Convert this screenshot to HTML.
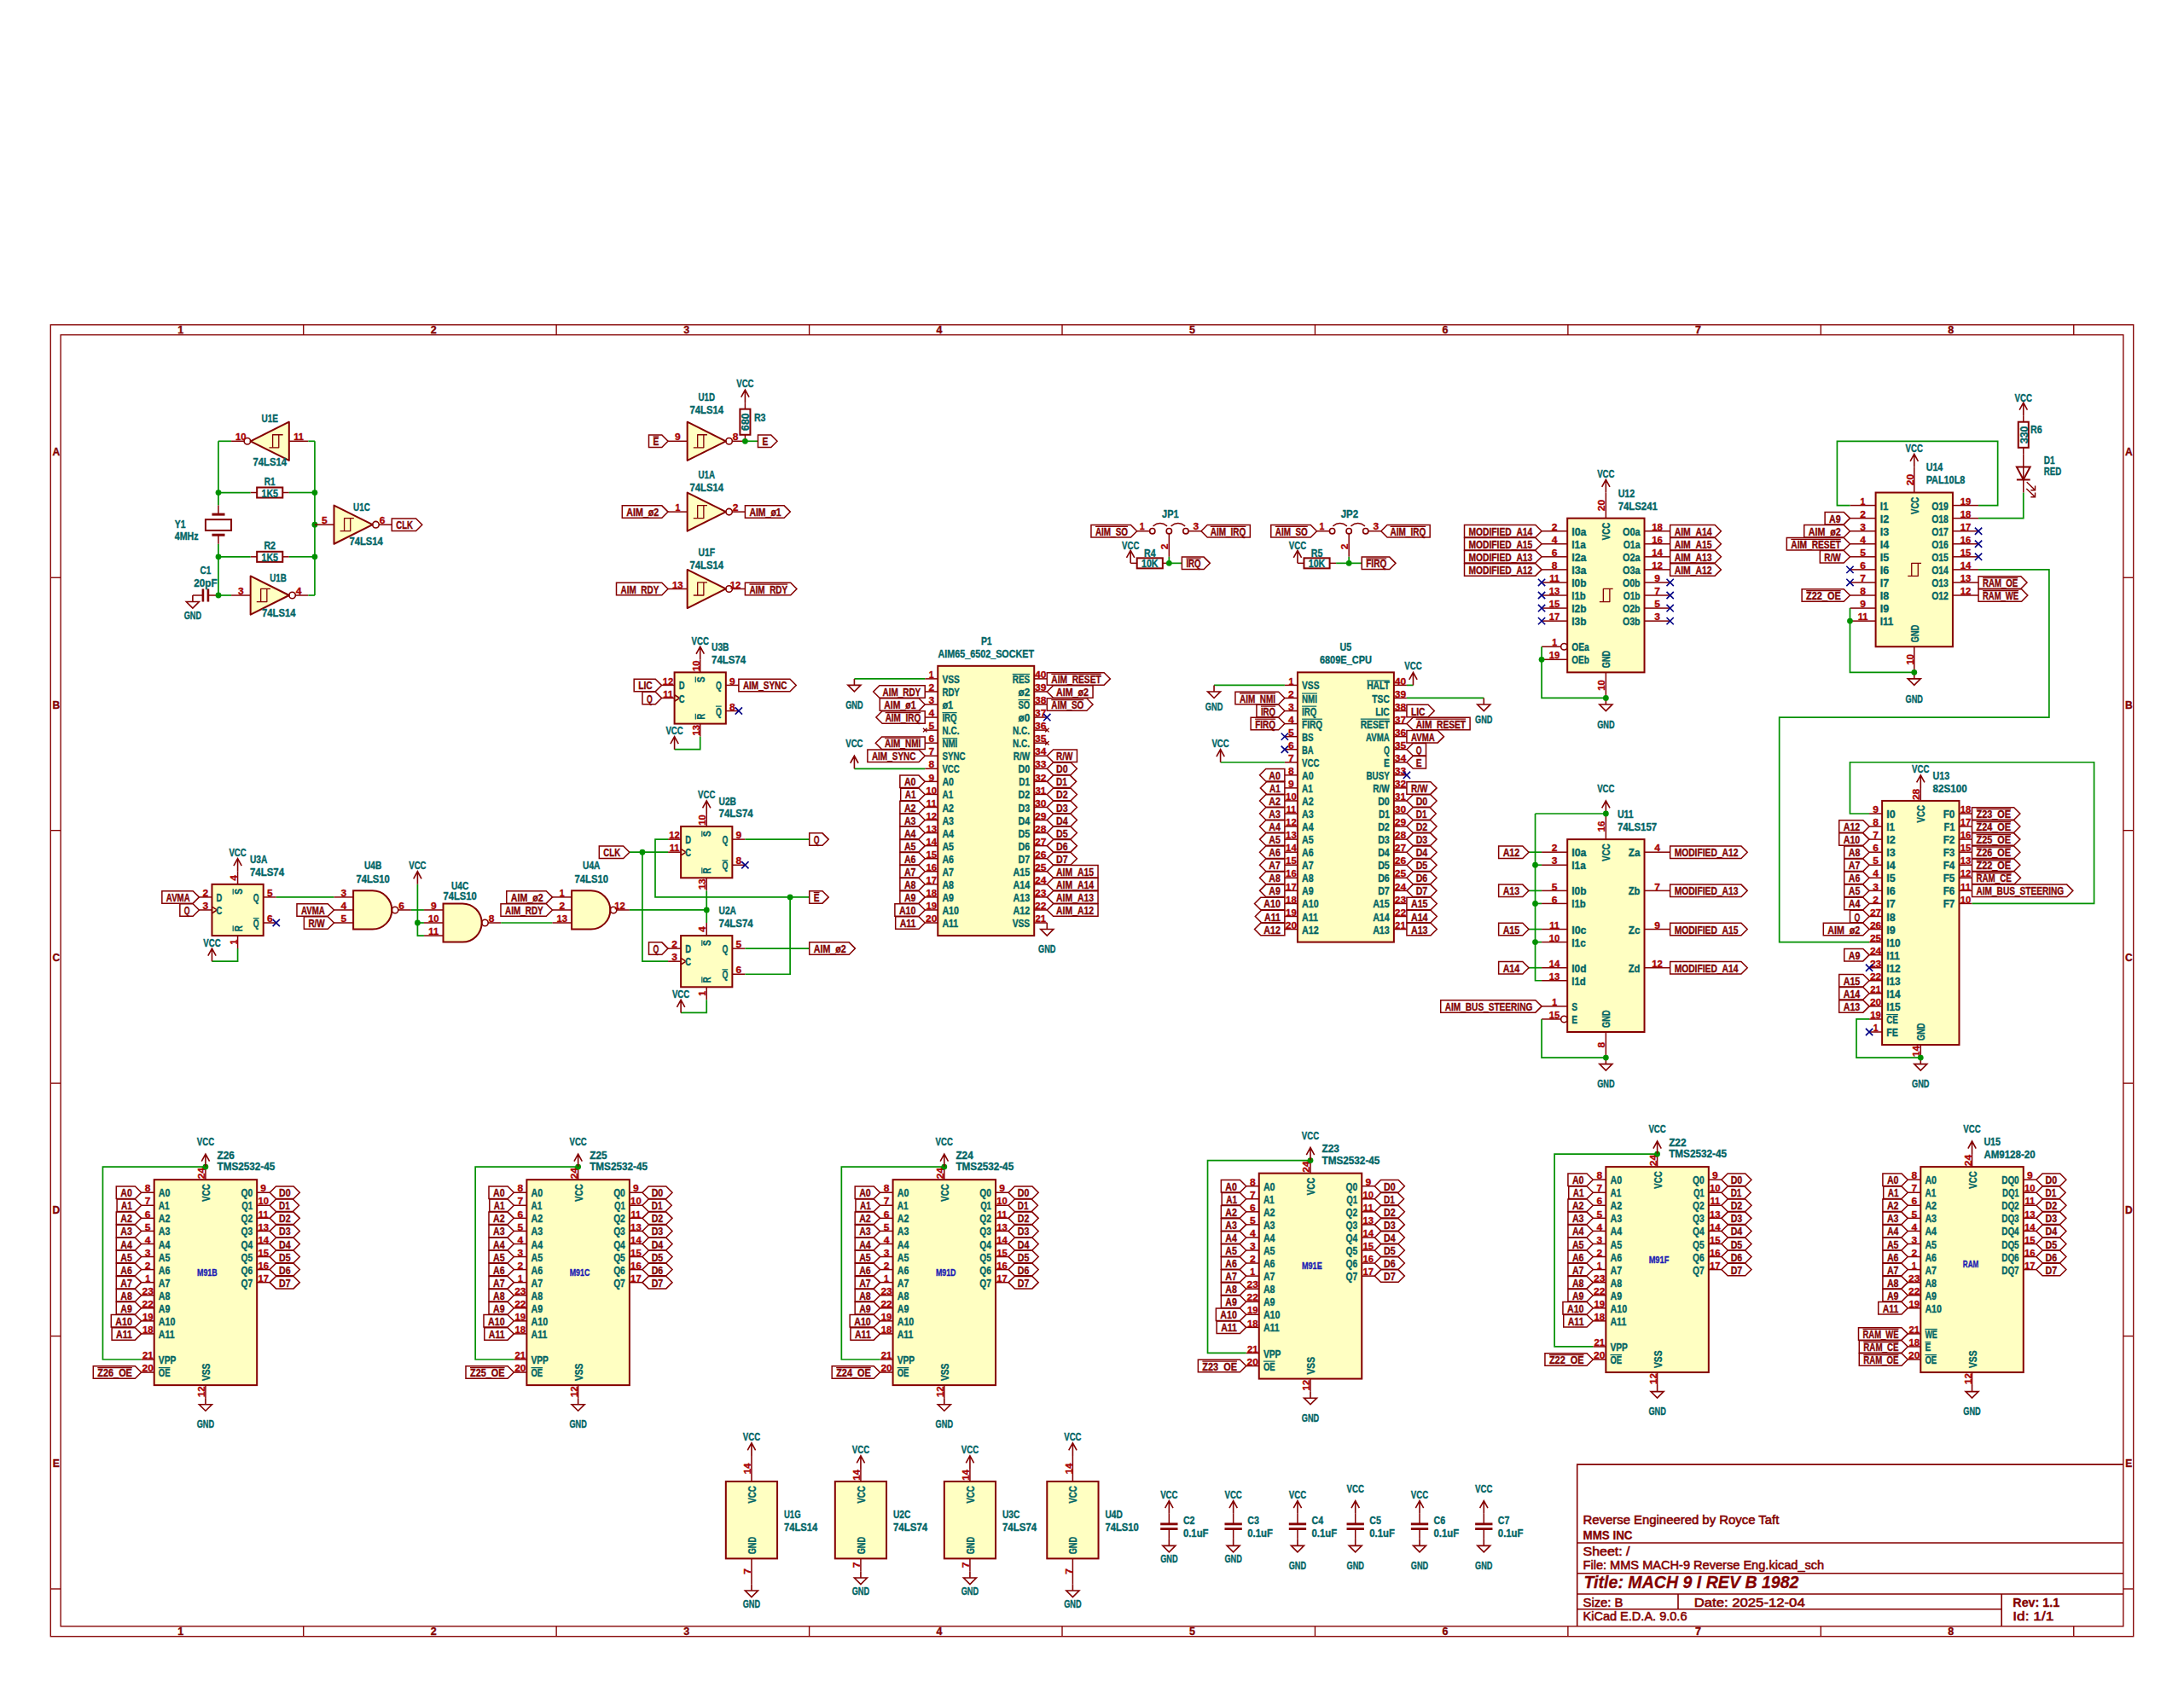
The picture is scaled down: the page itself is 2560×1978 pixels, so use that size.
<!DOCTYPE html><html><head><meta charset="utf-8"><style>html,body{margin:0;padding:0;background:#fff;overflow:hidden;}svg{display:block;} text{font-family:"Liberation Sans", sans-serif;font-weight:bold;stroke-width:0.35px;}</style></head><body><svg width="2560" height="1978" viewBox="0 0 2560 1978"><rect x="59.29" y="380.82" width="2441.43" height="1537.9" fill="none" stroke="#840000" stroke-width="1.35"/>
<rect x="71.14" y="392.67" width="2417.71" height="1514.18" fill="none" stroke="#840000" stroke-width="1.35"/>
<line x1="355.72" y1="380.82" x2="355.72" y2="392.67" stroke="#840000" stroke-width="1.35"/>
<line x1="355.72" y1="1906.86" x2="355.72" y2="1918.71" stroke="#840000" stroke-width="1.35"/>
<line x1="652.15" y1="380.82" x2="652.15" y2="392.67" stroke="#840000" stroke-width="1.35"/>
<line x1="652.15" y1="1906.86" x2="652.15" y2="1918.71" stroke="#840000" stroke-width="1.35"/>
<line x1="948.59" y1="380.82" x2="948.59" y2="392.67" stroke="#840000" stroke-width="1.35"/>
<line x1="948.59" y1="1906.86" x2="948.59" y2="1918.71" stroke="#840000" stroke-width="1.35"/>
<line x1="1245.02" y1="380.82" x2="1245.02" y2="392.67" stroke="#840000" stroke-width="1.35"/>
<line x1="1245.02" y1="1906.86" x2="1245.02" y2="1918.71" stroke="#840000" stroke-width="1.35"/>
<line x1="1541.45" y1="380.82" x2="1541.45" y2="392.67" stroke="#840000" stroke-width="1.35"/>
<line x1="1541.45" y1="1906.86" x2="1541.45" y2="1918.71" stroke="#840000" stroke-width="1.35"/>
<line x1="1837.89" y1="380.82" x2="1837.89" y2="392.67" stroke="#840000" stroke-width="1.35"/>
<line x1="1837.89" y1="1906.86" x2="1837.89" y2="1918.71" stroke="#840000" stroke-width="1.35"/>
<line x1="2134.32" y1="380.82" x2="2134.32" y2="392.67" stroke="#840000" stroke-width="1.35"/>
<line x1="2134.32" y1="1906.86" x2="2134.32" y2="1918.71" stroke="#840000" stroke-width="1.35"/>
<line x1="2430.75" y1="380.82" x2="2430.75" y2="392.67" stroke="#840000" stroke-width="1.35"/>
<line x1="2430.75" y1="1906.86" x2="2430.75" y2="1918.71" stroke="#840000" stroke-width="1.35"/>
<text x="211.8" y="391.29" fill="#840000" stroke="#840000" font-size="12.5" text-anchor="middle">1</text>
<text x="211.8" y="1917.33" fill="#840000" stroke="#840000" font-size="12.5" text-anchor="middle">1</text>
<text x="508.24" y="391.29" fill="#840000" stroke="#840000" font-size="12.5" text-anchor="middle">2</text>
<text x="508.24" y="1917.33" fill="#840000" stroke="#840000" font-size="12.5" text-anchor="middle">2</text>
<text x="804.67" y="391.29" fill="#840000" stroke="#840000" font-size="12.5" text-anchor="middle">3</text>
<text x="804.67" y="1917.33" fill="#840000" stroke="#840000" font-size="12.5" text-anchor="middle">3</text>
<text x="1101.1" y="391.29" fill="#840000" stroke="#840000" font-size="12.5" text-anchor="middle">4</text>
<text x="1101.1" y="1917.33" fill="#840000" stroke="#840000" font-size="12.5" text-anchor="middle">4</text>
<text x="1397.54" y="391.29" fill="#840000" stroke="#840000" font-size="12.5" text-anchor="middle">5</text>
<text x="1397.54" y="1917.33" fill="#840000" stroke="#840000" font-size="12.5" text-anchor="middle">5</text>
<text x="1693.97" y="391.29" fill="#840000" stroke="#840000" font-size="12.5" text-anchor="middle">6</text>
<text x="1693.97" y="1917.33" fill="#840000" stroke="#840000" font-size="12.5" text-anchor="middle">6</text>
<text x="1990.4" y="391.29" fill="#840000" stroke="#840000" font-size="12.5" text-anchor="middle">7</text>
<text x="1990.4" y="1917.33" fill="#840000" stroke="#840000" font-size="12.5" text-anchor="middle">7</text>
<text x="2286.84" y="391.29" fill="#840000" stroke="#840000" font-size="12.5" text-anchor="middle">8</text>
<text x="2286.84" y="1917.33" fill="#840000" stroke="#840000" font-size="12.5" text-anchor="middle">8</text>
<line x1="59.29" y1="677.25" x2="71.14" y2="677.25" stroke="#840000" stroke-width="1.35"/>
<line x1="2488.86" y1="677.25" x2="2500.71" y2="677.25" stroke="#840000" stroke-width="1.35"/>
<line x1="59.29" y1="973.68" x2="71.14" y2="973.68" stroke="#840000" stroke-width="1.35"/>
<line x1="2488.86" y1="973.68" x2="2500.71" y2="973.68" stroke="#840000" stroke-width="1.35"/>
<line x1="59.29" y1="1270.12" x2="71.14" y2="1270.12" stroke="#840000" stroke-width="1.35"/>
<line x1="2488.86" y1="1270.12" x2="2500.71" y2="1270.12" stroke="#840000" stroke-width="1.35"/>
<line x1="59.29" y1="1566.55" x2="71.14" y2="1566.55" stroke="#840000" stroke-width="1.35"/>
<line x1="2488.86" y1="1566.55" x2="2500.71" y2="1566.55" stroke="#840000" stroke-width="1.35"/>
<line x1="59.29" y1="1862.98" x2="71.14" y2="1862.98" stroke="#840000" stroke-width="1.35"/>
<line x1="2488.86" y1="1862.98" x2="2500.71" y2="1862.98" stroke="#840000" stroke-width="1.35"/>
<text x="65.72" y="534.07" fill="#840000" stroke="#840000" font-size="12" text-anchor="middle">A</text>
<text x="2495.28" y="534.07" fill="#840000" stroke="#840000" font-size="12" text-anchor="middle">A</text>
<text x="65.72" y="830.51" fill="#840000" stroke="#840000" font-size="12" text-anchor="middle">B</text>
<text x="2495.28" y="830.51" fill="#840000" stroke="#840000" font-size="12" text-anchor="middle">B</text>
<text x="65.72" y="1126.94" fill="#840000" stroke="#840000" font-size="12" text-anchor="middle">C</text>
<text x="2495.28" y="1126.94" fill="#840000" stroke="#840000" font-size="12" text-anchor="middle">C</text>
<text x="65.72" y="1423.37" fill="#840000" stroke="#840000" font-size="12" text-anchor="middle">D</text>
<text x="2495.28" y="1423.37" fill="#840000" stroke="#840000" font-size="12" text-anchor="middle">D</text>
<text x="65.72" y="1719.81" fill="#840000" stroke="#840000" font-size="12" text-anchor="middle">E</text>
<text x="2495.28" y="1719.81" fill="#840000" stroke="#840000" font-size="12" text-anchor="middle">E</text>
<path d="M1848.7 1906.9V1717.1H2488.9M1848.7 1809H2488.9M1848.7 1844.8H2488.9M1848.7 1869H2488.9M1848.7 1886.8H2346.2M1967 1869V1886.8M2346.2 1869V1906.9" fill="none" stroke="#840000" stroke-width="1.6"/>
<text x="1855.5" y="1787.0" fill="#840000" stroke="#840000" font-size="14" style="font-weight:normal;font-style:normal;stroke-width:0.55px" textLength="229.8" lengthAdjust="spacingAndGlyphs">Reverse Engineered by Royce Taft</text>
<text x="1855.5" y="1805.0" fill="#840000" stroke="#840000" font-size="14.5" style="font-weight:bold;font-style:normal;stroke-width:0.3px" textLength="58" lengthAdjust="spacingAndGlyphs">MMS INC</text>
<text x="1855.5" y="1824.0" fill="#840000" stroke="#840000" font-size="14" style="font-weight:normal;font-style:normal;stroke-width:0.55px" textLength="55" lengthAdjust="spacingAndGlyphs">Sheet: /</text>
<text x="1855.5" y="1840.0" fill="#840000" stroke="#840000" font-size="14" style="font-weight:normal;font-style:normal;stroke-width:0.55px" textLength="282.7" lengthAdjust="spacingAndGlyphs">File: MMS MACH-9 Reverse Eng.kicad_sch</text>
<text x="1856.5" y="1862.0" fill="#840000" stroke="#840000" font-size="20" style="font-weight:bold;font-style:italic;stroke-width:0.3px" textLength="252" lengthAdjust="spacingAndGlyphs">Title: MACH 9 I REV B 1982</text>
<text x="1855.5" y="1883.5" fill="#840000" stroke="#840000" font-size="14" style="font-weight:normal;font-style:normal;stroke-width:0.55px" textLength="47" lengthAdjust="spacingAndGlyphs">Size: B</text>
<text x="1985.7" y="1883.5" fill="#840000" stroke="#840000" font-size="14" style="font-weight:normal;font-style:normal;stroke-width:0.55px" textLength="130" lengthAdjust="spacingAndGlyphs">Date: 2025-12-04</text>
<text x="2359.3" y="1883.5" fill="#840000" stroke="#840000" font-size="14.5" style="font-weight:bold;font-style:normal;stroke-width:0.3px" textLength="55" lengthAdjust="spacingAndGlyphs">Rev: 1.1</text>
<text x="1855.5" y="1900.3" fill="#840000" stroke="#840000" font-size="14" style="font-weight:normal;font-style:normal;stroke-width:0.55px" textLength="122" lengthAdjust="spacingAndGlyphs">KiCad E.D.A. 9.0.6</text>
<text x="2359.3" y="1900.3" fill="#840000" stroke="#840000" font-size="14" style="font-weight:normal;font-style:normal;stroke-width:0.55px" textLength="48" lengthAdjust="spacingAndGlyphs">Id: 1/1</text>
<polygon points="338.82,494.71 293.65,517.29 338.82,539.88" fill="#FFFFC2" stroke="#840000" stroke-width="2.0" stroke-linejoin="round"/>
<line x1="338.82" y1="517.29" x2="361.41" y2="517.29" stroke="#840000" stroke-width="1.5"/>
<text x="350.12" y="516.45" fill="#A90000" stroke="#A90000" font-size="11.8" text-anchor="middle" textLength="11.8" lengthAdjust="spacingAndGlyphs">11</text>
<circle cx="289.88" cy="517.29" r="3.76" fill="none" stroke="#840000" stroke-width="1.6"/>
<line x1="286.12" y1="517.29" x2="271.06" y2="517.29" stroke="#840000" stroke-width="1.5"/>
<text x="282.35" y="516.45" fill="#A90000" stroke="#A90000" font-size="11.8" text-anchor="middle" textLength="12.59" lengthAdjust="spacingAndGlyphs">10</text>
<polyline points="331.67,509.76 319.62,509.76 319.62,524.82" fill="none" stroke="#840000" stroke-width="1.3" stroke-linejoin="round"/>
<polyline points="326.78,509.76 326.78,524.82 315.48,524.82" fill="none" stroke="#840000" stroke-width="1.3" stroke-linejoin="round"/>
<text x="316.24" y="495.23" fill="#006464" stroke="#006464" font-size="12" text-anchor="middle" textLength="19.6" lengthAdjust="spacingAndGlyphs">U1E</text>
<text x="316.24" y="546.43" fill="#006464" stroke="#006464" font-size="12" text-anchor="middle" textLength="39.4" lengthAdjust="spacingAndGlyphs">74LS14</text>
<line x1="256" y1="517.29" x2="271.06" y2="517.29" stroke="#009000" stroke-width="1.7"/>
<line x1="361.41" y1="517.29" x2="368.94" y2="517.29" stroke="#009000" stroke-width="1.7"/>
<line x1="256" y1="517.29" x2="256" y2="592.59" stroke="#009000" stroke-width="1.7"/>
<line x1="256" y1="637.76" x2="256" y2="698" stroke="#009000" stroke-width="1.7"/>
<line x1="368.94" y1="517.29" x2="368.94" y2="698" stroke="#009000" stroke-width="1.7"/>
<line x1="293.65" y1="577.53" x2="301.18" y2="577.53" stroke="#840000" stroke-width="1.5"/>
<line x1="331.29" y1="577.53" x2="338.82" y2="577.53" stroke="#840000" stroke-width="1.5"/>
<rect x="301.18" y="571.51" width="30.12" height="12.05" fill="none" stroke="#840000" stroke-width="2.0"/>
<text x="316.24" y="582.57" fill="#006464" stroke="#006464" font-size="12" text-anchor="middle" textLength="19.6" lengthAdjust="spacingAndGlyphs">1K5</text>
<text x="316.24" y="569.02" fill="#006464" stroke="#006464" font-size="12" text-anchor="middle" textLength="12.8" lengthAdjust="spacingAndGlyphs">R1</text>
<line x1="256" y1="577.53" x2="293.65" y2="577.53" stroke="#009000" stroke-width="1.7"/>
<line x1="338.82" y1="577.53" x2="368.94" y2="577.53" stroke="#009000" stroke-width="1.7"/>
<line x1="293.65" y1="652.82" x2="301.18" y2="652.82" stroke="#840000" stroke-width="1.5"/>
<line x1="331.29" y1="652.82" x2="338.82" y2="652.82" stroke="#840000" stroke-width="1.5"/>
<rect x="301.18" y="646.8" width="30.12" height="12.05" fill="none" stroke="#840000" stroke-width="2.0"/>
<text x="316.24" y="657.86" fill="#006464" stroke="#006464" font-size="12" text-anchor="middle" textLength="19.6" lengthAdjust="spacingAndGlyphs">1K5</text>
<text x="316.24" y="644.31" fill="#006464" stroke="#006464" font-size="12" text-anchor="middle" textLength="13.6" lengthAdjust="spacingAndGlyphs">R2</text>
<line x1="256" y1="652.82" x2="293.65" y2="652.82" stroke="#009000" stroke-width="1.7"/>
<line x1="338.82" y1="652.82" x2="368.94" y2="652.82" stroke="#009000" stroke-width="1.7"/>
<line x1="256" y1="592.59" x2="256" y2="603.13" stroke="#840000" stroke-width="1.5"/>
<line x1="256" y1="627.22" x2="256" y2="637.76" stroke="#840000" stroke-width="1.5"/>
<rect x="240.94" y="609.15" width="30.12" height="12.8" fill="none" stroke="#840000" stroke-width="2.0"/>
<line x1="248.47" y1="603.13" x2="263.53" y2="603.13" stroke="#840000" stroke-width="3.0"/>
<line x1="248.47" y1="627.22" x2="263.53" y2="627.22" stroke="#840000" stroke-width="3.0"/>
<text x="204.8" y="618.71" fill="#006464" stroke="#006464" font-size="12" text-anchor="start" textLength="12.8" lengthAdjust="spacingAndGlyphs">Y1</text>
<text x="204.8" y="633.39" fill="#006464" stroke="#006464" font-size="12" text-anchor="start" textLength="27.8" lengthAdjust="spacingAndGlyphs">4MHz</text>
<polygon points="293.65,675.41 338.82,698 293.65,720.59" fill="#FFFFC2" stroke="#840000" stroke-width="2.0" stroke-linejoin="round"/>
<line x1="293.65" y1="698" x2="271.06" y2="698" stroke="#840000" stroke-width="1.5"/>
<text x="282.35" y="697.16" fill="#A90000" stroke="#A90000" font-size="11.8" text-anchor="middle" textLength="6.69" lengthAdjust="spacingAndGlyphs">3</text>
<circle cx="342.59" cy="698" r="3.76" fill="none" stroke="#840000" stroke-width="1.6"/>
<line x1="346.35" y1="698" x2="361.41" y2="698" stroke="#840000" stroke-width="1.5"/>
<text x="350.12" y="697.16" fill="#A90000" stroke="#A90000" font-size="11.8" text-anchor="middle" textLength="6.69" lengthAdjust="spacingAndGlyphs">4</text>
<polyline points="300.8,705.53 312.85,705.53 312.85,690.47" fill="none" stroke="#840000" stroke-width="1.3" stroke-linejoin="round"/>
<polyline points="305.69,705.53 305.69,690.47 316.99,690.47" fill="none" stroke="#840000" stroke-width="1.3" stroke-linejoin="round"/>
<text x="326.02" y="681.96" fill="#006464" stroke="#006464" font-size="12" text-anchor="middle" textLength="19.6" lengthAdjust="spacingAndGlyphs">U1B</text>
<text x="326.78" y="722.62" fill="#006464" stroke="#006464" font-size="12" text-anchor="middle" textLength="39.4" lengthAdjust="spacingAndGlyphs">74LS14</text>
<line x1="256" y1="698" x2="271.06" y2="698" stroke="#009000" stroke-width="1.7"/>
<line x1="361.41" y1="698" x2="368.94" y2="698" stroke="#009000" stroke-width="1.7"/>
<line x1="225.88" y1="698" x2="237.18" y2="698" stroke="#840000" stroke-width="1.5"/>
<line x1="244.71" y1="698" x2="256" y2="698" stroke="#840000" stroke-width="1.5"/>
<line x1="237.93" y1="690.47" x2="237.93" y2="705.53" stroke="#840000" stroke-width="2.6"/>
<line x1="243.95" y1="690.47" x2="243.95" y2="705.53" stroke="#840000" stroke-width="2.6"/>
<path d="M225.88 698L225.88 705.53M218.35 705.53L233.41 705.53L225.88 713.06Z" fill="none" stroke="#840000" stroke-width="1.6" stroke-linejoin="miter"/>
<text x="225.88" y="726.38" fill="#006464" stroke="#006464" font-size="12" text-anchor="middle" textLength="20.4" lengthAdjust="spacingAndGlyphs">GND</text>
<text x="240.94" y="672.92" fill="#006464" stroke="#006464" font-size="12" text-anchor="middle" textLength="12.8" lengthAdjust="spacingAndGlyphs">C1</text>
<text x="240.94" y="687.98" fill="#006464" stroke="#006464" font-size="12" text-anchor="middle" textLength="27.2" lengthAdjust="spacingAndGlyphs">20pF</text>
<circle cx="256" cy="577.53" r="3.4" fill="#009000"/>
<circle cx="368.94" cy="577.53" r="3.4" fill="#009000"/>
<circle cx="256" cy="652.82" r="3.4" fill="#009000"/>
<circle cx="368.94" cy="652.82" r="3.4" fill="#009000"/>
<circle cx="368.94" cy="615.18" r="3.4" fill="#009000"/>
<circle cx="256" cy="698" r="3.4" fill="#009000"/>
<polygon points="391.53,592.59 436.71,615.18 391.53,637.76" fill="#FFFFC2" stroke="#840000" stroke-width="2.0" stroke-linejoin="round"/>
<line x1="391.53" y1="615.18" x2="368.94" y2="615.18" stroke="#840000" stroke-width="1.5"/>
<text x="380.24" y="614.33" fill="#A90000" stroke="#A90000" font-size="11.8" text-anchor="middle" textLength="6.69" lengthAdjust="spacingAndGlyphs">5</text>
<circle cx="440.47" cy="615.18" r="3.76" fill="none" stroke="#840000" stroke-width="1.6"/>
<line x1="444.24" y1="615.18" x2="459.29" y2="615.18" stroke="#840000" stroke-width="1.5"/>
<text x="448" y="614.33" fill="#A90000" stroke="#A90000" font-size="11.8" text-anchor="middle" textLength="6.69" lengthAdjust="spacingAndGlyphs">6</text>
<polyline points="398.68,622.71 410.73,622.71 410.73,607.65" fill="none" stroke="#840000" stroke-width="1.3" stroke-linejoin="round"/>
<polyline points="403.58,622.71 403.58,607.65 414.87,607.65" fill="none" stroke="#840000" stroke-width="1.3" stroke-linejoin="round"/>
<text x="423.91" y="599.13" fill="#006464" stroke="#006464" font-size="12" text-anchor="middle" textLength="19.6" lengthAdjust="spacingAndGlyphs">U1C</text>
<text x="429.18" y="639.04" fill="#006464" stroke="#006464" font-size="12" text-anchor="middle" textLength="39.4" lengthAdjust="spacingAndGlyphs">74LS14</text>
<polygon points="459.29,607.93 487.59,607.93 494.84,615.18 487.59,622.43 459.29,622.43" fill="none" stroke="#840000" stroke-width="1.5"/>
<text x="464.29" y="620.22" fill="#840000" stroke="#840000" font-size="12" text-anchor="start" textLength="19.8" lengthAdjust="spacingAndGlyphs">CLK</text>
<polygon points="805.65,494.71 850.82,517.29 805.65,539.88" fill="#FFFFC2" stroke="#840000" stroke-width="2.0" stroke-linejoin="round"/>
<line x1="805.65" y1="517.29" x2="783.06" y2="517.29" stroke="#840000" stroke-width="1.5"/>
<text x="794.35" y="516.45" fill="#A90000" stroke="#A90000" font-size="11.8" text-anchor="middle" textLength="6.69" lengthAdjust="spacingAndGlyphs">9</text>
<circle cx="854.59" cy="517.29" r="3.76" fill="none" stroke="#840000" stroke-width="1.6"/>
<line x1="858.35" y1="517.29" x2="873.41" y2="517.29" stroke="#840000" stroke-width="1.5"/>
<text x="862.12" y="516.45" fill="#A90000" stroke="#A90000" font-size="11.8" text-anchor="middle" textLength="6.69" lengthAdjust="spacingAndGlyphs">8</text>
<polyline points="812.8,524.82 824.85,524.82 824.85,509.76" fill="none" stroke="#840000" stroke-width="1.3" stroke-linejoin="round"/>
<polyline points="817.69,524.82 817.69,509.76 828.99,509.76" fill="none" stroke="#840000" stroke-width="1.3" stroke-linejoin="round"/>
<text x="828.24" y="469.63" fill="#006464" stroke="#006464" font-size="12" text-anchor="middle" textLength="19.6" lengthAdjust="spacingAndGlyphs">U1D</text>
<text x="828.24" y="484.69" fill="#006464" stroke="#006464" font-size="12" text-anchor="middle" textLength="39.4" lengthAdjust="spacingAndGlyphs">74LS14</text>
<polygon points="783.06,517.29 775.81,510.04 760.51,510.04 760.51,524.54 775.81,524.54" fill="none" stroke="#840000" stroke-width="1.5"/>
<text x="772.31" y="522.33" fill="#840000" stroke="#840000" font-size="12" text-anchor="end" textLength="6.8" lengthAdjust="spacingAndGlyphs">E</text>
<line x1="765.51" y1="511.89" x2="772.31" y2="511.89" stroke="#840000" stroke-width="1.2"/>
<line x1="873.41" y1="472.12" x2="873.41" y2="479.65" stroke="#840000" stroke-width="1.5"/>
<line x1="873.41" y1="509.76" x2="873.41" y2="517.29" stroke="#840000" stroke-width="1.5"/>
<rect x="867.39" y="479.65" width="12.05" height="30.12" fill="none" stroke="#840000" stroke-width="2.0"/>
<text x="873.41" y="499.75" fill="#006464" stroke="#006464" font-size="12" text-anchor="middle" textLength="20.4" lengthAdjust="spacingAndGlyphs" transform="rotate(-90 873.41 494.71)">680</text>
<text x="883.95" y="494.1" fill="#006464" stroke="#006464" font-size="12" text-anchor="start" textLength="13.6" lengthAdjust="spacingAndGlyphs">R3</text>
<path d="M873.41 472.12L873.41 457.06M868.74 465.57L873.41 457.06L878.08 465.57" fill="none" stroke="#840000" stroke-width="1.6"/>
<text x="873.41" y="453.82" fill="#006464" stroke="#006464" font-size="12" text-anchor="middle" textLength="20.4" lengthAdjust="spacingAndGlyphs">VCC</text>
<line x1="873.41" y1="517.29" x2="888.47" y2="517.29" stroke="#009000" stroke-width="1.7"/>
<circle cx="873.41" cy="517.29" r="3.4" fill="#009000"/>
<polygon points="888.47,510.04 903.77,510.04 911.02,517.29 903.77,524.54 888.47,524.54" fill="none" stroke="#840000" stroke-width="1.5"/>
<text x="893.47" y="522.33" fill="#840000" stroke="#840000" font-size="12" text-anchor="start" textLength="6.8" lengthAdjust="spacingAndGlyphs">E</text>
<polygon points="805.65,577.53 850.82,600.12 805.65,622.71" fill="#FFFFC2" stroke="#840000" stroke-width="2.0" stroke-linejoin="round"/>
<line x1="805.65" y1="600.12" x2="783.06" y2="600.12" stroke="#840000" stroke-width="1.5"/>
<text x="794.35" y="599.27" fill="#A90000" stroke="#A90000" font-size="11.8" text-anchor="middle" textLength="5.9" lengthAdjust="spacingAndGlyphs">1</text>
<circle cx="854.59" cy="600.12" r="3.76" fill="none" stroke="#840000" stroke-width="1.6"/>
<line x1="858.35" y1="600.12" x2="873.41" y2="600.12" stroke="#840000" stroke-width="1.5"/>
<text x="862.12" y="599.27" fill="#A90000" stroke="#A90000" font-size="11.8" text-anchor="middle" textLength="6.69" lengthAdjust="spacingAndGlyphs">2</text>
<polyline points="812.8,607.65 824.85,607.65 824.85,592.59" fill="none" stroke="#840000" stroke-width="1.3" stroke-linejoin="round"/>
<polyline points="817.69,607.65 817.69,592.59 828.99,592.59" fill="none" stroke="#840000" stroke-width="1.3" stroke-linejoin="round"/>
<text x="828.24" y="561.49" fill="#006464" stroke="#006464" font-size="12" text-anchor="middle" textLength="19.6" lengthAdjust="spacingAndGlyphs">U1A</text>
<text x="828.24" y="575.79" fill="#006464" stroke="#006464" font-size="12" text-anchor="middle" textLength="39.4" lengthAdjust="spacingAndGlyphs">74LS14</text>
<polygon points="783.06,600.12 775.81,592.87 729.31,592.87 729.31,607.37 775.81,607.37" fill="none" stroke="#840000" stroke-width="1.5"/>
<text x="772.31" y="605.16" fill="#840000" stroke="#840000" font-size="12" text-anchor="end" textLength="38" lengthAdjust="spacingAndGlyphs">AIM_ø2</text>
<polygon points="873.41,592.87 919.11,592.87 926.36,600.12 919.11,607.37 873.41,607.37" fill="none" stroke="#840000" stroke-width="1.5"/>
<text x="878.41" y="605.16" fill="#840000" stroke="#840000" font-size="12" text-anchor="start" textLength="37.2" lengthAdjust="spacingAndGlyphs">AIM_ø1</text>
<polygon points="805.65,667.88 850.82,690.47 805.65,713.06" fill="#FFFFC2" stroke="#840000" stroke-width="2.0" stroke-linejoin="round"/>
<line x1="805.65" y1="690.47" x2="783.06" y2="690.47" stroke="#840000" stroke-width="1.5"/>
<text x="794.35" y="689.63" fill="#A90000" stroke="#A90000" font-size="11.8" text-anchor="middle" textLength="12.59" lengthAdjust="spacingAndGlyphs">13</text>
<circle cx="854.59" cy="690.47" r="3.76" fill="none" stroke="#840000" stroke-width="1.6"/>
<line x1="858.35" y1="690.47" x2="873.41" y2="690.47" stroke="#840000" stroke-width="1.5"/>
<text x="862.12" y="689.63" fill="#A90000" stroke="#A90000" font-size="11.8" text-anchor="middle" textLength="12.59" lengthAdjust="spacingAndGlyphs">12</text>
<polyline points="812.8,698 824.85,698 824.85,682.94" fill="none" stroke="#840000" stroke-width="1.3" stroke-linejoin="round"/>
<polyline points="817.69,698 817.69,682.94 828.99,682.94" fill="none" stroke="#840000" stroke-width="1.3" stroke-linejoin="round"/>
<text x="828.24" y="651.84" fill="#006464" stroke="#006464" font-size="12" text-anchor="middle" textLength="19.6" lengthAdjust="spacingAndGlyphs">U1F</text>
<text x="828.24" y="666.9" fill="#006464" stroke="#006464" font-size="12" text-anchor="middle" textLength="39.4" lengthAdjust="spacingAndGlyphs">74LS14</text>
<polygon points="783.06,690.47 775.81,683.22 722.51,683.22 722.51,697.72 775.81,697.72" fill="none" stroke="#840000" stroke-width="1.5"/>
<text x="772.31" y="695.51" fill="#840000" stroke="#840000" font-size="12" text-anchor="end" textLength="44.8" lengthAdjust="spacingAndGlyphs">AIM_RDY</text>
<polygon points="873.41,683.22 926.71,683.22 933.96,690.47 926.71,697.72 873.41,697.72" fill="none" stroke="#840000" stroke-width="1.5"/>
<text x="878.41" y="695.51" fill="#840000" stroke="#840000" font-size="12" text-anchor="start" textLength="44.8" lengthAdjust="spacingAndGlyphs">AIM_RDY</text>
<line x1="878.41" y1="685.06" x2="923.21" y2="685.06" stroke="#840000" stroke-width="1.2"/>
<rect x="790.59" y="788.35" width="60.24" height="60.24" fill="#FFFFC2" stroke="#840000" stroke-width="2.0"/>
<line x1="790.59" y1="803.41" x2="775.53" y2="803.41" stroke="#840000" stroke-width="1.5"/>
<text x="783.06" y="802.57" fill="#A90000" stroke="#A90000" font-size="11.8" text-anchor="middle" textLength="12.59" lengthAdjust="spacingAndGlyphs">12</text>
<text x="795.71" y="808.45" fill="#006464" stroke="#006464" font-size="12" text-anchor="start" textLength="6.8" lengthAdjust="spacingAndGlyphs">D</text>
<line x1="790.59" y1="818.47" x2="775.53" y2="818.47" stroke="#840000" stroke-width="1.5"/>
<path d="M790.59 814.71L796.61 818.47L790.59 822.24" fill="none" stroke="#840000" stroke-width="1.6"/>
<text x="783.06" y="817.63" fill="#A90000" stroke="#A90000" font-size="11.8" text-anchor="middle" textLength="11.8" lengthAdjust="spacingAndGlyphs">11</text>
<text x="795.71" y="823.51" fill="#006464" stroke="#006464" font-size="12" text-anchor="start" textLength="6.8" lengthAdjust="spacingAndGlyphs">C</text>
<line x1="850.82" y1="803.41" x2="865.88" y2="803.41" stroke="#840000" stroke-width="1.5"/>
<text x="858.35" y="802.57" fill="#A90000" stroke="#A90000" font-size="11.8" text-anchor="middle" textLength="6.69" lengthAdjust="spacingAndGlyphs">9</text>
<text x="845.7" y="808.45" fill="#006464" stroke="#006464" font-size="12" text-anchor="end" textLength="6.8" lengthAdjust="spacingAndGlyphs">Q</text>
<line x1="850.82" y1="833.53" x2="865.88" y2="833.53" stroke="#840000" stroke-width="1.5"/>
<text x="858.35" y="832.69" fill="#A90000" stroke="#A90000" font-size="11.8" text-anchor="middle" textLength="6.69" lengthAdjust="spacingAndGlyphs">8</text>
<text x="845.7" y="838.57" fill="#006464" stroke="#006464" font-size="12" text-anchor="end" textLength="6.8" lengthAdjust="spacingAndGlyphs">Q</text>
<line x1="838.9" y1="828.12" x2="845.7" y2="828.12" stroke="#006464" stroke-width="1.2"/>
<line x1="820.71" y1="788.35" x2="820.71" y2="773.29" stroke="#840000" stroke-width="1.5"/>
<text x="814.91" y="785.78" fill="#A90000" stroke="#A90000" font-size="11.8" text-anchor="middle" textLength="12.59" lengthAdjust="spacingAndGlyphs" transform="rotate(-90 814.91 780.82)">10</text>
<text x="820.71" y="798.51" fill="#006464" stroke="#006464" font-size="12" text-anchor="end" textLength="6.8" lengthAdjust="spacingAndGlyphs" transform="rotate(-90 820.71 793.47)">S</text>
<line x1="813.91" y1="788.06" x2="820.71" y2="788.06" stroke="#006464" stroke-width="1.2" transform="rotate(-90 820.71 793.47)"/>
<line x1="820.71" y1="848.59" x2="820.71" y2="863.65" stroke="#840000" stroke-width="1.5"/>
<text x="814.91" y="861.07" fill="#A90000" stroke="#A90000" font-size="11.8" text-anchor="middle" textLength="12.59" lengthAdjust="spacingAndGlyphs" transform="rotate(-90 814.91 856.12)">13</text>
<text x="820.71" y="848.51" fill="#006464" stroke="#006464" font-size="12" text-anchor="start" textLength="6.8" lengthAdjust="spacingAndGlyphs" transform="rotate(-90 820.71 843.47)">R</text>
<line x1="820.71" y1="838.06" x2="827.51" y2="838.06" stroke="#006464" stroke-width="1.2" transform="rotate(-90 820.71 843.47)"/>
<path d="M820.71 773.29L820.71 758.24M816.04 766.74L820.71 758.24L825.37 766.74" fill="none" stroke="#840000" stroke-width="1.6"/>
<text x="820.71" y="755.75" fill="#006464" stroke="#006464" font-size="12" text-anchor="middle" textLength="20.4" lengthAdjust="spacingAndGlyphs">VCC</text>
<text x="834.03" y="763.28" fill="#006464" stroke="#006464" font-size="12" text-anchor="start" textLength="20.4" lengthAdjust="spacingAndGlyphs">U3B</text>
<text x="834.03" y="778.33" fill="#006464" stroke="#006464" font-size="12" text-anchor="start" textLength="40.2" lengthAdjust="spacingAndGlyphs">74LS74</text>
<polygon points="775.53,803.41 768.28,796.16 743.18,796.16 743.18,810.66 768.28,810.66" fill="none" stroke="#840000" stroke-width="1.5"/>
<text x="764.78" y="808.45" fill="#840000" stroke="#840000" font-size="12" text-anchor="end" textLength="16.6" lengthAdjust="spacingAndGlyphs">LIC</text>
<polygon points="775.53,818.47 768.28,811.22 752.98,811.22 752.98,825.72 768.28,825.72" fill="none" stroke="#840000" stroke-width="1.5"/>
<text x="764.78" y="823.51" fill="#840000" stroke="#840000" font-size="12" text-anchor="end" textLength="6.8" lengthAdjust="spacingAndGlyphs">Q</text>
<polygon points="865.88,796.16 925.98,796.16 933.23,803.41 925.98,810.66 865.88,810.66" fill="none" stroke="#840000" stroke-width="1.5"/>
<text x="870.88" y="808.45" fill="#840000" stroke="#840000" font-size="12" text-anchor="start" textLength="51.6" lengthAdjust="spacingAndGlyphs">AIM_SYNC</text>
<path d="M861.74 829.39L870.02 837.67M861.74 837.67L870.02 829.39" stroke="#000084" stroke-width="1.6"/>
<polyline points="820.71,863.65 820.71,878.71 790.59,878.71" fill="none" stroke="#009000" stroke-width="1.7"/>
<path d="M790.59 878.71L790.59 863.65M785.92 872.16L790.59 863.65L795.26 872.16" fill="none" stroke="#840000" stroke-width="1.6"/>
<text x="790.59" y="861.16" fill="#006464" stroke="#006464" font-size="12" text-anchor="middle" textLength="20.4" lengthAdjust="spacingAndGlyphs">VCC</text>
<rect x="248.47" y="1036.82" width="60.24" height="60.24" fill="#FFFFC2" stroke="#840000" stroke-width="2.0"/>
<line x1="248.47" y1="1051.88" x2="233.41" y2="1051.88" stroke="#840000" stroke-width="1.5"/>
<text x="240.94" y="1051.04" fill="#A90000" stroke="#A90000" font-size="11.8" text-anchor="middle" textLength="6.69" lengthAdjust="spacingAndGlyphs">2</text>
<text x="253.59" y="1056.92" fill="#006464" stroke="#006464" font-size="12" text-anchor="start" textLength="6.8" lengthAdjust="spacingAndGlyphs">D</text>
<line x1="248.47" y1="1066.94" x2="233.41" y2="1066.94" stroke="#840000" stroke-width="1.5"/>
<path d="M248.47 1063.18L254.49 1066.94L248.47 1070.71" fill="none" stroke="#840000" stroke-width="1.6"/>
<text x="240.94" y="1066.1" fill="#A90000" stroke="#A90000" font-size="11.8" text-anchor="middle" textLength="6.69" lengthAdjust="spacingAndGlyphs">3</text>
<text x="253.59" y="1071.98" fill="#006464" stroke="#006464" font-size="12" text-anchor="start" textLength="6.8" lengthAdjust="spacingAndGlyphs">C</text>
<line x1="308.71" y1="1051.88" x2="323.76" y2="1051.88" stroke="#840000" stroke-width="1.5"/>
<text x="316.24" y="1051.04" fill="#A90000" stroke="#A90000" font-size="11.8" text-anchor="middle" textLength="6.69" lengthAdjust="spacingAndGlyphs">5</text>
<text x="303.59" y="1056.92" fill="#006464" stroke="#006464" font-size="12" text-anchor="end" textLength="6.8" lengthAdjust="spacingAndGlyphs">Q</text>
<line x1="308.71" y1="1082" x2="323.76" y2="1082" stroke="#840000" stroke-width="1.5"/>
<text x="316.24" y="1081.16" fill="#A90000" stroke="#A90000" font-size="11.8" text-anchor="middle" textLength="6.69" lengthAdjust="spacingAndGlyphs">6</text>
<text x="303.59" y="1087.04" fill="#006464" stroke="#006464" font-size="12" text-anchor="end" textLength="6.8" lengthAdjust="spacingAndGlyphs">Q</text>
<line x1="296.79" y1="1076.59" x2="303.59" y2="1076.59" stroke="#006464" stroke-width="1.2"/>
<line x1="278.59" y1="1036.82" x2="278.59" y2="1021.76" stroke="#840000" stroke-width="1.5"/>
<text x="272.79" y="1034.25" fill="#A90000" stroke="#A90000" font-size="11.8" text-anchor="middle" textLength="6.69" lengthAdjust="spacingAndGlyphs" transform="rotate(-90 272.79 1029.29)">4</text>
<text x="278.59" y="1046.98" fill="#006464" stroke="#006464" font-size="12" text-anchor="end" textLength="6.8" lengthAdjust="spacingAndGlyphs" transform="rotate(-90 278.59 1041.94)">S</text>
<line x1="271.79" y1="1036.54" x2="278.59" y2="1036.54" stroke="#006464" stroke-width="1.2" transform="rotate(-90 278.59 1041.94)"/>
<line x1="278.59" y1="1097.06" x2="278.59" y2="1112.12" stroke="#840000" stroke-width="1.5"/>
<text x="272.79" y="1109.54" fill="#A90000" stroke="#A90000" font-size="11.8" text-anchor="middle" textLength="5.9" lengthAdjust="spacingAndGlyphs" transform="rotate(-90 272.79 1104.59)">1</text>
<text x="278.59" y="1096.98" fill="#006464" stroke="#006464" font-size="12" text-anchor="start" textLength="6.8" lengthAdjust="spacingAndGlyphs" transform="rotate(-90 278.59 1091.94)">R</text>
<line x1="278.59" y1="1086.53" x2="285.39" y2="1086.53" stroke="#006464" stroke-width="1.2" transform="rotate(-90 278.59 1091.94)"/>
<path d="M278.59 1021.76L278.59 1006.71M273.92 1015.21L278.59 1006.71L283.26 1015.21" fill="none" stroke="#840000" stroke-width="1.6"/>
<text x="278.59" y="1004.22" fill="#006464" stroke="#006464" font-size="12" text-anchor="middle" textLength="20.4" lengthAdjust="spacingAndGlyphs">VCC</text>
<text x="292.89" y="1011.75" fill="#006464" stroke="#006464" font-size="12" text-anchor="start" textLength="20.4" lengthAdjust="spacingAndGlyphs">U3A</text>
<text x="292.89" y="1027.26" fill="#006464" stroke="#006464" font-size="12" text-anchor="start" textLength="40.2" lengthAdjust="spacingAndGlyphs">74LS74</text>
<polygon points="233.41,1051.88 226.16,1044.63 189.86,1044.63 189.86,1059.13 226.16,1059.13" fill="none" stroke="#840000" stroke-width="1.5"/>
<text x="222.66" y="1056.92" fill="#840000" stroke="#840000" font-size="12" text-anchor="end" textLength="27.8" lengthAdjust="spacingAndGlyphs">AVMA</text>
<polygon points="233.41,1066.94 226.16,1059.69 210.86,1059.69 210.86,1074.19 226.16,1074.19" fill="none" stroke="#840000" stroke-width="1.5"/>
<text x="222.66" y="1071.98" fill="#840000" stroke="#840000" font-size="12" text-anchor="end" textLength="6.8" lengthAdjust="spacingAndGlyphs">Q</text>
<path d="M319.62 1077.86L327.91 1086.14M319.62 1086.14L327.91 1077.86" stroke="#000084" stroke-width="1.6"/>
<polyline points="278.59,1112.12 278.59,1127.18 248.47,1127.18" fill="none" stroke="#009000" stroke-width="1.7"/>
<path d="M248.47 1127.18L248.47 1112.12M243.8 1120.63L248.47 1112.12L253.14 1120.63" fill="none" stroke="#840000" stroke-width="1.6"/>
<text x="248.47" y="1109.63" fill="#006464" stroke="#006464" font-size="12" text-anchor="middle" textLength="20.4" lengthAdjust="spacingAndGlyphs">VCC</text>
<line x1="323.76" y1="1051.88" x2="391.53" y2="1051.88" stroke="#009000" stroke-width="1.7"/>
<path d="M414.12 1044.35L436.71 1044.35A22.59 22.59 0 0 1 436.71 1089.53L414.12 1089.53Z" fill="#FFFFC2" stroke="#840000" stroke-width="2.0"/>
<line x1="414.12" y1="1051.88" x2="391.53" y2="1051.88" stroke="#840000" stroke-width="1.5"/>
<text x="402.82" y="1051.04" fill="#A90000" stroke="#A90000" font-size="11.8" text-anchor="middle" textLength="6.69" lengthAdjust="spacingAndGlyphs">3</text>
<line x1="414.12" y1="1066.94" x2="391.53" y2="1066.94" stroke="#840000" stroke-width="1.5"/>
<text x="402.82" y="1066.1" fill="#A90000" stroke="#A90000" font-size="11.8" text-anchor="middle" textLength="6.69" lengthAdjust="spacingAndGlyphs">4</text>
<line x1="414.12" y1="1082" x2="391.53" y2="1082" stroke="#840000" stroke-width="1.5"/>
<text x="402.82" y="1081.16" fill="#A90000" stroke="#A90000" font-size="11.8" text-anchor="middle" textLength="6.69" lengthAdjust="spacingAndGlyphs">5</text>
<circle cx="463.06" cy="1066.94" r="3.76" fill="none" stroke="#840000" stroke-width="1.6"/>
<line x1="466.82" y1="1066.94" x2="481.88" y2="1066.94" stroke="#840000" stroke-width="1.5"/>
<text x="470.59" y="1066.1" fill="#A90000" stroke="#A90000" font-size="11.8" text-anchor="middle" textLength="6.69" lengthAdjust="spacingAndGlyphs">6</text>
<text x="437.08" y="1019.28" fill="#006464" stroke="#006464" font-size="12" text-anchor="middle" textLength="20.4" lengthAdjust="spacingAndGlyphs">U4B</text>
<text x="437.08" y="1034.94" fill="#006464" stroke="#006464" font-size="12" text-anchor="middle" textLength="39.4" lengthAdjust="spacingAndGlyphs">74LS10</text>
<polygon points="391.53,1066.94 384.28,1059.69 347.98,1059.69 347.98,1074.19 384.28,1074.19" fill="none" stroke="#840000" stroke-width="1.5"/>
<text x="380.78" y="1071.98" fill="#840000" stroke="#840000" font-size="12" text-anchor="end" textLength="27.8" lengthAdjust="spacingAndGlyphs">AVMA</text>
<polygon points="391.53,1082 384.28,1074.75 356.38,1074.75 356.38,1089.25 384.28,1089.25" fill="none" stroke="#840000" stroke-width="1.5"/>
<text x="380.78" y="1087.04" fill="#840000" stroke="#840000" font-size="12" text-anchor="end" textLength="19.4" lengthAdjust="spacingAndGlyphs">R/W</text>
<line x1="481.88" y1="1066.94" x2="496.94" y2="1066.94" stroke="#009000" stroke-width="1.7"/>
<path d="M519.53 1059.41L542.12 1059.41A22.59 22.59 0 0 1 542.12 1104.59L519.53 1104.59Z" fill="#FFFFC2" stroke="#840000" stroke-width="2.0"/>
<line x1="519.53" y1="1066.94" x2="496.94" y2="1066.94" stroke="#840000" stroke-width="1.5"/>
<text x="508.24" y="1066.1" fill="#A90000" stroke="#A90000" font-size="11.8" text-anchor="middle" textLength="6.69" lengthAdjust="spacingAndGlyphs">9</text>
<line x1="519.53" y1="1082" x2="496.94" y2="1082" stroke="#840000" stroke-width="1.5"/>
<text x="508.24" y="1081.16" fill="#A90000" stroke="#A90000" font-size="11.8" text-anchor="middle" textLength="12.59" lengthAdjust="spacingAndGlyphs">10</text>
<line x1="519.53" y1="1097.06" x2="496.94" y2="1097.06" stroke="#840000" stroke-width="1.5"/>
<text x="508.24" y="1096.21" fill="#A90000" stroke="#A90000" font-size="11.8" text-anchor="middle" textLength="11.8" lengthAdjust="spacingAndGlyphs">11</text>
<circle cx="568.47" cy="1082" r="3.76" fill="none" stroke="#840000" stroke-width="1.6"/>
<line x1="572.24" y1="1082" x2="587.29" y2="1082" stroke="#840000" stroke-width="1.5"/>
<text x="576" y="1081.16" fill="#A90000" stroke="#A90000" font-size="11.8" text-anchor="middle" textLength="6.69" lengthAdjust="spacingAndGlyphs">8</text>
<text x="539.11" y="1043.07" fill="#006464" stroke="#006464" font-size="12" text-anchor="middle" textLength="20.4" lengthAdjust="spacingAndGlyphs">U4C</text>
<text x="539.11" y="1055.42" fill="#006464" stroke="#006464" font-size="12" text-anchor="middle" textLength="39.4" lengthAdjust="spacingAndGlyphs">74LS10</text>
<path d="M489.41 1036.82L489.41 1021.76M484.74 1030.27L489.41 1021.76L494.08 1030.27" fill="none" stroke="#840000" stroke-width="1.6"/>
<text x="489.41" y="1019.28" fill="#006464" stroke="#006464" font-size="12" text-anchor="middle" textLength="20.4" lengthAdjust="spacingAndGlyphs">VCC</text>
<polyline points="489.41,1036.82 489.41,1097.06 496.94,1097.06" fill="none" stroke="#009000" stroke-width="1.7"/>
<line x1="489.41" y1="1082" x2="496.94" y2="1082" stroke="#009000" stroke-width="1.7"/>
<circle cx="489.41" cy="1082" r="3.4" fill="#009000"/>
<line x1="587.29" y1="1082" x2="647.53" y2="1082" stroke="#009000" stroke-width="1.7"/>
<path d="M670.12 1044.35L692.71 1044.35A22.59 22.59 0 0 1 692.71 1089.53L670.12 1089.53Z" fill="#FFFFC2" stroke="#840000" stroke-width="2.0"/>
<line x1="670.12" y1="1051.88" x2="647.53" y2="1051.88" stroke="#840000" stroke-width="1.5"/>
<text x="658.82" y="1051.04" fill="#A90000" stroke="#A90000" font-size="11.8" text-anchor="middle" textLength="5.9" lengthAdjust="spacingAndGlyphs">1</text>
<line x1="670.12" y1="1066.94" x2="647.53" y2="1066.94" stroke="#840000" stroke-width="1.5"/>
<text x="658.82" y="1066.1" fill="#A90000" stroke="#A90000" font-size="11.8" text-anchor="middle" textLength="6.69" lengthAdjust="spacingAndGlyphs">2</text>
<line x1="670.12" y1="1082" x2="647.53" y2="1082" stroke="#840000" stroke-width="1.5"/>
<text x="658.82" y="1081.16" fill="#A90000" stroke="#A90000" font-size="11.8" text-anchor="middle" textLength="12.59" lengthAdjust="spacingAndGlyphs">13</text>
<circle cx="719.06" cy="1066.94" r="3.76" fill="none" stroke="#840000" stroke-width="1.6"/>
<line x1="722.82" y1="1066.94" x2="737.88" y2="1066.94" stroke="#840000" stroke-width="1.5"/>
<text x="726.59" y="1066.1" fill="#A90000" stroke="#A90000" font-size="11.8" text-anchor="middle" textLength="12.59" lengthAdjust="spacingAndGlyphs">12</text>
<text x="693.23" y="1019.28" fill="#006464" stroke="#006464" font-size="12" text-anchor="middle" textLength="20.4" lengthAdjust="spacingAndGlyphs">U4A</text>
<text x="693.23" y="1034.64" fill="#006464" stroke="#006464" font-size="12" text-anchor="middle" textLength="39.4" lengthAdjust="spacingAndGlyphs">74LS10</text>
<polygon points="647.53,1051.88 640.28,1044.63 593.78,1044.63 593.78,1059.13 640.28,1059.13" fill="none" stroke="#840000" stroke-width="1.5"/>
<text x="636.78" y="1056.92" fill="#840000" stroke="#840000" font-size="12" text-anchor="end" textLength="38" lengthAdjust="spacingAndGlyphs">AIM_ø2</text>
<polygon points="647.53,1066.94 640.28,1059.69 586.98,1059.69 586.98,1074.19 640.28,1074.19" fill="none" stroke="#840000" stroke-width="1.5"/>
<text x="636.78" y="1071.98" fill="#840000" stroke="#840000" font-size="12" text-anchor="end" textLength="44.8" lengthAdjust="spacingAndGlyphs">AIM_RDY</text>
<line x1="737.88" y1="1066.94" x2="828.24" y2="1066.94" stroke="#009000" stroke-width="1.7"/>
<circle cx="828.24" cy="1066.94" r="3.4" fill="#009000"/>
<rect x="798.12" y="969.06" width="60.24" height="60.24" fill="#FFFFC2" stroke="#840000" stroke-width="2.0"/>
<line x1="798.12" y1="984.12" x2="783.06" y2="984.12" stroke="#840000" stroke-width="1.5"/>
<text x="790.59" y="983.27" fill="#A90000" stroke="#A90000" font-size="11.8" text-anchor="middle" textLength="12.59" lengthAdjust="spacingAndGlyphs">12</text>
<text x="803.24" y="989.16" fill="#006464" stroke="#006464" font-size="12" text-anchor="start" textLength="6.8" lengthAdjust="spacingAndGlyphs">D</text>
<line x1="798.12" y1="999.18" x2="783.06" y2="999.18" stroke="#840000" stroke-width="1.5"/>
<path d="M798.12 995.41L804.14 999.18L798.12 1002.94" fill="none" stroke="#840000" stroke-width="1.6"/>
<text x="790.59" y="998.33" fill="#A90000" stroke="#A90000" font-size="11.8" text-anchor="middle" textLength="11.8" lengthAdjust="spacingAndGlyphs">11</text>
<text x="803.24" y="1004.22" fill="#006464" stroke="#006464" font-size="12" text-anchor="start" textLength="6.8" lengthAdjust="spacingAndGlyphs">C</text>
<line x1="858.35" y1="984.12" x2="873.41" y2="984.12" stroke="#840000" stroke-width="1.5"/>
<text x="865.88" y="983.27" fill="#A90000" stroke="#A90000" font-size="11.8" text-anchor="middle" textLength="6.69" lengthAdjust="spacingAndGlyphs">9</text>
<text x="853.23" y="989.16" fill="#006464" stroke="#006464" font-size="12" text-anchor="end" textLength="6.8" lengthAdjust="spacingAndGlyphs">Q</text>
<line x1="858.35" y1="1014.24" x2="873.41" y2="1014.24" stroke="#840000" stroke-width="1.5"/>
<text x="865.88" y="1013.39" fill="#A90000" stroke="#A90000" font-size="11.8" text-anchor="middle" textLength="6.69" lengthAdjust="spacingAndGlyphs">8</text>
<text x="853.23" y="1019.28" fill="#006464" stroke="#006464" font-size="12" text-anchor="end" textLength="6.8" lengthAdjust="spacingAndGlyphs">Q</text>
<line x1="846.43" y1="1008.83" x2="853.23" y2="1008.83" stroke="#006464" stroke-width="1.2"/>
<line x1="828.24" y1="969.06" x2="828.24" y2="954" stroke="#840000" stroke-width="1.5"/>
<text x="822.44" y="966.49" fill="#A90000" stroke="#A90000" font-size="11.8" text-anchor="middle" textLength="12.59" lengthAdjust="spacingAndGlyphs" transform="rotate(-90 822.44 961.53)">10</text>
<text x="828.24" y="979.22" fill="#006464" stroke="#006464" font-size="12" text-anchor="end" textLength="6.8" lengthAdjust="spacingAndGlyphs" transform="rotate(-90 828.24 974.18)">S</text>
<line x1="821.44" y1="968.77" x2="828.24" y2="968.77" stroke="#006464" stroke-width="1.2" transform="rotate(-90 828.24 974.18)"/>
<line x1="828.24" y1="1029.29" x2="828.24" y2="1044.35" stroke="#840000" stroke-width="1.5"/>
<text x="822.44" y="1041.78" fill="#A90000" stroke="#A90000" font-size="11.8" text-anchor="middle" textLength="12.59" lengthAdjust="spacingAndGlyphs" transform="rotate(-90 822.44 1036.82)">13</text>
<text x="828.24" y="1029.21" fill="#006464" stroke="#006464" font-size="12" text-anchor="start" textLength="6.8" lengthAdjust="spacingAndGlyphs" transform="rotate(-90 828.24 1024.17)">R</text>
<line x1="828.24" y1="1018.77" x2="835.04" y2="1018.77" stroke="#006464" stroke-width="1.2" transform="rotate(-90 828.24 1024.17)"/>
<path d="M828.24 954L828.24 938.94M823.57 947.45L828.24 938.94L832.9 947.45" fill="none" stroke="#840000" stroke-width="1.6"/>
<text x="828.24" y="936.45" fill="#006464" stroke="#006464" font-size="12" text-anchor="middle" textLength="20.4" lengthAdjust="spacingAndGlyphs">VCC</text>
<text x="842.54" y="943.98" fill="#006464" stroke="#006464" font-size="12" text-anchor="start" textLength="20.4" lengthAdjust="spacingAndGlyphs">U2B</text>
<text x="842.54" y="958.29" fill="#006464" stroke="#006464" font-size="12" text-anchor="start" textLength="40.2" lengthAdjust="spacingAndGlyphs">74LS74</text>
<path d="M869.27 1010.09L877.55 1018.38M869.27 1018.38L877.55 1010.09" stroke="#000084" stroke-width="1.6"/>
<line x1="873.41" y1="984.12" x2="948.71" y2="984.12" stroke="#009000" stroke-width="1.7"/>
<polygon points="948.71,976.87 964.01,976.87 971.26,984.12 964.01,991.37 948.71,991.37" fill="none" stroke="#840000" stroke-width="1.5"/>
<text x="953.71" y="989.16" fill="#840000" stroke="#840000" font-size="12" text-anchor="start" textLength="6.8" lengthAdjust="spacingAndGlyphs">Q</text>
<polyline points="783.06,984.12 768,984.12 768,1051.88 948.71,1051.88" fill="none" stroke="#009000" stroke-width="1.7"/>
<polygon points="948.71,1044.63 964.01,1044.63 971.26,1051.88 964.01,1059.13 948.71,1059.13" fill="none" stroke="#840000" stroke-width="1.5"/>
<text x="953.71" y="1056.92" fill="#840000" stroke="#840000" font-size="12" text-anchor="start" textLength="6.8" lengthAdjust="spacingAndGlyphs">E</text>
<line x1="953.71" y1="1046.47" x2="960.51" y2="1046.47" stroke="#840000" stroke-width="1.2"/>
<circle cx="926.12" cy="1051.88" r="3.4" fill="#009000"/>
<polygon points="737.88,999.18 730.63,991.93 702.33,991.93 702.33,1006.43 730.63,1006.43" fill="none" stroke="#840000" stroke-width="1.5"/>
<text x="727.13" y="1004.22" fill="#840000" stroke="#840000" font-size="12" text-anchor="end" textLength="19.8" lengthAdjust="spacingAndGlyphs">CLK</text>
<line x1="737.88" y1="999.18" x2="783.06" y2="999.18" stroke="#009000" stroke-width="1.7"/>
<circle cx="752.94" cy="999.18" r="3.4" fill="#009000"/>
<polyline points="752.94,999.18 752.94,1127.18 783.06,1127.18" fill="none" stroke="#009000" stroke-width="1.7"/>
<line x1="828.24" y1="1044.35" x2="828.24" y2="1082" stroke="#009000" stroke-width="1.7"/>
<rect x="798.12" y="1097.06" width="60.24" height="60.24" fill="#FFFFC2" stroke="#840000" stroke-width="2.0"/>
<line x1="798.12" y1="1112.12" x2="783.06" y2="1112.12" stroke="#840000" stroke-width="1.5"/>
<text x="790.59" y="1111.27" fill="#A90000" stroke="#A90000" font-size="11.8" text-anchor="middle" textLength="6.69" lengthAdjust="spacingAndGlyphs">2</text>
<text x="803.24" y="1117.16" fill="#006464" stroke="#006464" font-size="12" text-anchor="start" textLength="6.8" lengthAdjust="spacingAndGlyphs">D</text>
<line x1="798.12" y1="1127.18" x2="783.06" y2="1127.18" stroke="#840000" stroke-width="1.5"/>
<path d="M798.12 1123.41L804.14 1127.18L798.12 1130.94" fill="none" stroke="#840000" stroke-width="1.6"/>
<text x="790.59" y="1126.33" fill="#A90000" stroke="#A90000" font-size="11.8" text-anchor="middle" textLength="6.69" lengthAdjust="spacingAndGlyphs">3</text>
<text x="803.24" y="1132.22" fill="#006464" stroke="#006464" font-size="12" text-anchor="start" textLength="6.8" lengthAdjust="spacingAndGlyphs">C</text>
<line x1="858.35" y1="1112.12" x2="873.41" y2="1112.12" stroke="#840000" stroke-width="1.5"/>
<text x="865.88" y="1111.27" fill="#A90000" stroke="#A90000" font-size="11.8" text-anchor="middle" textLength="6.69" lengthAdjust="spacingAndGlyphs">5</text>
<text x="853.23" y="1117.16" fill="#006464" stroke="#006464" font-size="12" text-anchor="end" textLength="6.8" lengthAdjust="spacingAndGlyphs">Q</text>
<line x1="858.35" y1="1142.24" x2="873.41" y2="1142.24" stroke="#840000" stroke-width="1.5"/>
<text x="865.88" y="1141.39" fill="#A90000" stroke="#A90000" font-size="11.8" text-anchor="middle" textLength="6.69" lengthAdjust="spacingAndGlyphs">6</text>
<text x="853.23" y="1147.28" fill="#006464" stroke="#006464" font-size="12" text-anchor="end" textLength="6.8" lengthAdjust="spacingAndGlyphs">Q</text>
<line x1="846.43" y1="1136.83" x2="853.23" y2="1136.83" stroke="#006464" stroke-width="1.2"/>
<line x1="828.24" y1="1097.06" x2="828.24" y2="1082" stroke="#840000" stroke-width="1.5"/>
<text x="822.44" y="1094.49" fill="#A90000" stroke="#A90000" font-size="11.8" text-anchor="middle" textLength="6.69" lengthAdjust="spacingAndGlyphs" transform="rotate(-90 822.44 1089.53)">4</text>
<text x="828.24" y="1107.22" fill="#006464" stroke="#006464" font-size="12" text-anchor="end" textLength="6.8" lengthAdjust="spacingAndGlyphs" transform="rotate(-90 828.24 1102.18)">S</text>
<line x1="821.44" y1="1096.77" x2="828.24" y2="1096.77" stroke="#006464" stroke-width="1.2" transform="rotate(-90 828.24 1102.18)"/>
<line x1="828.24" y1="1157.29" x2="828.24" y2="1172.35" stroke="#840000" stroke-width="1.5"/>
<text x="822.44" y="1169.78" fill="#A90000" stroke="#A90000" font-size="11.8" text-anchor="middle" textLength="5.9" lengthAdjust="spacingAndGlyphs" transform="rotate(-90 822.44 1164.82)">1</text>
<text x="828.24" y="1157.21" fill="#006464" stroke="#006464" font-size="12" text-anchor="start" textLength="6.8" lengthAdjust="spacingAndGlyphs" transform="rotate(-90 828.24 1152.17)">R</text>
<line x1="828.24" y1="1146.77" x2="835.04" y2="1146.77" stroke="#006464" stroke-width="1.2" transform="rotate(-90 828.24 1152.17)"/>
<text x="842.54" y="1072.21" fill="#006464" stroke="#006464" font-size="12" text-anchor="start" textLength="20.4" lengthAdjust="spacingAndGlyphs">U2A</text>
<text x="842.54" y="1087.04" fill="#006464" stroke="#006464" font-size="12" text-anchor="start" textLength="40.2" lengthAdjust="spacingAndGlyphs">74LS74</text>
<polygon points="783.06,1112.12 775.81,1104.87 760.51,1104.87 760.51,1119.37 775.81,1119.37" fill="none" stroke="#840000" stroke-width="1.5"/>
<text x="772.31" y="1117.16" fill="#840000" stroke="#840000" font-size="12" text-anchor="end" textLength="6.8" lengthAdjust="spacingAndGlyphs">Q</text>
<line x1="873.41" y1="1112.12" x2="948.71" y2="1112.12" stroke="#009000" stroke-width="1.7"/>
<polygon points="948.71,1104.87 995.21,1104.87 1002.46,1112.12 995.21,1119.37 948.71,1119.37" fill="none" stroke="#840000" stroke-width="1.5"/>
<text x="953.71" y="1117.16" fill="#840000" stroke="#840000" font-size="12" text-anchor="start" textLength="38" lengthAdjust="spacingAndGlyphs">AIM_ø2</text>
<polyline points="873.41,1142.24 926.12,1142.24 926.12,1051.88" fill="none" stroke="#009000" stroke-width="1.7"/>
<polyline points="828.24,1172.35 828.24,1187.41 798.12,1187.41" fill="none" stroke="#009000" stroke-width="1.7"/>
<path d="M798.12 1187.41L798.12 1172.35M793.45 1180.86L798.12 1172.35L802.79 1180.86" fill="none" stroke="#840000" stroke-width="1.6"/>
<text x="798.12" y="1169.86" fill="#006464" stroke="#006464" font-size="12" text-anchor="middle" textLength="20.4" lengthAdjust="spacingAndGlyphs">VCC</text>
<rect x="1099.29" y="780.82" width="112.94" height="316.24" fill="#FFFFC2" stroke="#840000" stroke-width="2.0"/>
<line x1="1099.29" y1="795.88" x2="1084.24" y2="795.88" stroke="#840000" stroke-width="1.5"/>
<text x="1091.76" y="795.04" fill="#A90000" stroke="#A90000" font-size="11.8" text-anchor="middle" textLength="5.9" lengthAdjust="spacingAndGlyphs">1</text>
<text x="1104.41" y="800.92" fill="#006464" stroke="#006464" font-size="12" text-anchor="start" textLength="20.4" lengthAdjust="spacingAndGlyphs">VSS</text>
<line x1="1099.29" y1="810.94" x2="1084.24" y2="810.94" stroke="#840000" stroke-width="1.5"/>
<text x="1091.76" y="810.1" fill="#A90000" stroke="#A90000" font-size="11.8" text-anchor="middle" textLength="6.69" lengthAdjust="spacingAndGlyphs">2</text>
<text x="1104.41" y="815.98" fill="#006464" stroke="#006464" font-size="12" text-anchor="start" textLength="20.4" lengthAdjust="spacingAndGlyphs">RDY</text>
<line x1="1099.29" y1="826" x2="1084.24" y2="826" stroke="#840000" stroke-width="1.5"/>
<text x="1091.76" y="825.16" fill="#A90000" stroke="#A90000" font-size="11.8" text-anchor="middle" textLength="6.69" lengthAdjust="spacingAndGlyphs">3</text>
<text x="1104.41" y="831.04" fill="#006464" stroke="#006464" font-size="12" text-anchor="start" textLength="12.8" lengthAdjust="spacingAndGlyphs">ø1</text>
<line x1="1099.29" y1="841.06" x2="1084.24" y2="841.06" stroke="#840000" stroke-width="1.5"/>
<text x="1091.76" y="840.21" fill="#A90000" stroke="#A90000" font-size="11.8" text-anchor="middle" textLength="6.69" lengthAdjust="spacingAndGlyphs">4</text>
<text x="1104.41" y="846.1" fill="#006464" stroke="#006464" font-size="12" text-anchor="start" textLength="17.2" lengthAdjust="spacingAndGlyphs">IRQ</text>
<line x1="1104.41" y1="835.65" x2="1121.61" y2="835.65" stroke="#006464" stroke-width="1.2"/>
<line x1="1099.29" y1="856.12" x2="1084.24" y2="856.12" stroke="#840000" stroke-width="1.5"/>
<path d="M1081.98 853.86L1086.49 858.38M1081.98 858.38L1086.49 853.86" stroke="#840000" stroke-width="1.4"/>
<text x="1091.76" y="855.27" fill="#A90000" stroke="#A90000" font-size="11.8" text-anchor="middle" textLength="6.69" lengthAdjust="spacingAndGlyphs">5</text>
<text x="1104.41" y="861.16" fill="#006464" stroke="#006464" font-size="12" text-anchor="start" textLength="20" lengthAdjust="spacingAndGlyphs">N.C.</text>
<line x1="1099.29" y1="871.18" x2="1084.24" y2="871.18" stroke="#840000" stroke-width="1.5"/>
<text x="1091.76" y="870.33" fill="#A90000" stroke="#A90000" font-size="11.8" text-anchor="middle" textLength="6.69" lengthAdjust="spacingAndGlyphs">6</text>
<text x="1104.41" y="876.22" fill="#006464" stroke="#006464" font-size="12" text-anchor="start" textLength="17.8" lengthAdjust="spacingAndGlyphs">NMI</text>
<line x1="1104.41" y1="865.77" x2="1122.21" y2="865.77" stroke="#006464" stroke-width="1.2"/>
<line x1="1099.29" y1="886.24" x2="1084.24" y2="886.24" stroke="#840000" stroke-width="1.5"/>
<text x="1091.76" y="885.39" fill="#A90000" stroke="#A90000" font-size="11.8" text-anchor="middle" textLength="6.69" lengthAdjust="spacingAndGlyphs">7</text>
<text x="1104.41" y="891.28" fill="#006464" stroke="#006464" font-size="12" text-anchor="start" textLength="27.2" lengthAdjust="spacingAndGlyphs">SYNC</text>
<line x1="1099.29" y1="901.29" x2="1084.24" y2="901.29" stroke="#840000" stroke-width="1.5"/>
<text x="1091.76" y="900.45" fill="#A90000" stroke="#A90000" font-size="11.8" text-anchor="middle" textLength="6.69" lengthAdjust="spacingAndGlyphs">8</text>
<text x="1104.41" y="906.33" fill="#006464" stroke="#006464" font-size="12" text-anchor="start" textLength="20.4" lengthAdjust="spacingAndGlyphs">VCC</text>
<line x1="1099.29" y1="916.35" x2="1084.24" y2="916.35" stroke="#840000" stroke-width="1.5"/>
<text x="1091.76" y="915.51" fill="#A90000" stroke="#A90000" font-size="11.8" text-anchor="middle" textLength="6.69" lengthAdjust="spacingAndGlyphs">9</text>
<text x="1104.41" y="921.39" fill="#006464" stroke="#006464" font-size="12" text-anchor="start" textLength="13.6" lengthAdjust="spacingAndGlyphs">A0</text>
<line x1="1099.29" y1="931.41" x2="1084.24" y2="931.41" stroke="#840000" stroke-width="1.5"/>
<text x="1091.76" y="930.57" fill="#A90000" stroke="#A90000" font-size="11.8" text-anchor="middle" textLength="12.59" lengthAdjust="spacingAndGlyphs">10</text>
<text x="1104.41" y="936.45" fill="#006464" stroke="#006464" font-size="12" text-anchor="start" textLength="12.8" lengthAdjust="spacingAndGlyphs">A1</text>
<line x1="1099.29" y1="946.47" x2="1084.24" y2="946.47" stroke="#840000" stroke-width="1.5"/>
<text x="1091.76" y="945.63" fill="#A90000" stroke="#A90000" font-size="11.8" text-anchor="middle" textLength="11.8" lengthAdjust="spacingAndGlyphs">11</text>
<text x="1104.41" y="951.51" fill="#006464" stroke="#006464" font-size="12" text-anchor="start" textLength="13.6" lengthAdjust="spacingAndGlyphs">A2</text>
<line x1="1099.29" y1="961.53" x2="1084.24" y2="961.53" stroke="#840000" stroke-width="1.5"/>
<text x="1091.76" y="960.69" fill="#A90000" stroke="#A90000" font-size="11.8" text-anchor="middle" textLength="12.59" lengthAdjust="spacingAndGlyphs">12</text>
<text x="1104.41" y="966.57" fill="#006464" stroke="#006464" font-size="12" text-anchor="start" textLength="13.6" lengthAdjust="spacingAndGlyphs">A3</text>
<line x1="1099.29" y1="976.59" x2="1084.24" y2="976.59" stroke="#840000" stroke-width="1.5"/>
<text x="1091.76" y="975.74" fill="#A90000" stroke="#A90000" font-size="11.8" text-anchor="middle" textLength="12.59" lengthAdjust="spacingAndGlyphs">13</text>
<text x="1104.41" y="981.63" fill="#006464" stroke="#006464" font-size="12" text-anchor="start" textLength="13.6" lengthAdjust="spacingAndGlyphs">A4</text>
<line x1="1099.29" y1="991.65" x2="1084.24" y2="991.65" stroke="#840000" stroke-width="1.5"/>
<text x="1091.76" y="990.8" fill="#A90000" stroke="#A90000" font-size="11.8" text-anchor="middle" textLength="12.59" lengthAdjust="spacingAndGlyphs">14</text>
<text x="1104.41" y="996.69" fill="#006464" stroke="#006464" font-size="12" text-anchor="start" textLength="13.6" lengthAdjust="spacingAndGlyphs">A5</text>
<line x1="1099.29" y1="1006.71" x2="1084.24" y2="1006.71" stroke="#840000" stroke-width="1.5"/>
<text x="1091.76" y="1005.86" fill="#A90000" stroke="#A90000" font-size="11.8" text-anchor="middle" textLength="12.59" lengthAdjust="spacingAndGlyphs">15</text>
<text x="1104.41" y="1011.75" fill="#006464" stroke="#006464" font-size="12" text-anchor="start" textLength="13.6" lengthAdjust="spacingAndGlyphs">A6</text>
<line x1="1099.29" y1="1021.76" x2="1084.24" y2="1021.76" stroke="#840000" stroke-width="1.5"/>
<text x="1091.76" y="1020.92" fill="#A90000" stroke="#A90000" font-size="11.8" text-anchor="middle" textLength="12.59" lengthAdjust="spacingAndGlyphs">16</text>
<text x="1104.41" y="1026.8" fill="#006464" stroke="#006464" font-size="12" text-anchor="start" textLength="13.6" lengthAdjust="spacingAndGlyphs">A7</text>
<line x1="1099.29" y1="1036.82" x2="1084.24" y2="1036.82" stroke="#840000" stroke-width="1.5"/>
<text x="1091.76" y="1035.98" fill="#A90000" stroke="#A90000" font-size="11.8" text-anchor="middle" textLength="12.59" lengthAdjust="spacingAndGlyphs">17</text>
<text x="1104.41" y="1041.86" fill="#006464" stroke="#006464" font-size="12" text-anchor="start" textLength="13.6" lengthAdjust="spacingAndGlyphs">A8</text>
<line x1="1099.29" y1="1051.88" x2="1084.24" y2="1051.88" stroke="#840000" stroke-width="1.5"/>
<text x="1091.76" y="1051.04" fill="#A90000" stroke="#A90000" font-size="11.8" text-anchor="middle" textLength="12.59" lengthAdjust="spacingAndGlyphs">18</text>
<text x="1104.41" y="1056.92" fill="#006464" stroke="#006464" font-size="12" text-anchor="start" textLength="13.6" lengthAdjust="spacingAndGlyphs">A9</text>
<line x1="1099.29" y1="1066.94" x2="1084.24" y2="1066.94" stroke="#840000" stroke-width="1.5"/>
<text x="1091.76" y="1066.1" fill="#A90000" stroke="#A90000" font-size="11.8" text-anchor="middle" textLength="12.59" lengthAdjust="spacingAndGlyphs">19</text>
<text x="1104.41" y="1071.98" fill="#006464" stroke="#006464" font-size="12" text-anchor="start" textLength="19.6" lengthAdjust="spacingAndGlyphs">A10</text>
<line x1="1099.29" y1="1082" x2="1084.24" y2="1082" stroke="#840000" stroke-width="1.5"/>
<text x="1091.76" y="1081.16" fill="#A90000" stroke="#A90000" font-size="11.8" text-anchor="middle" textLength="13.37" lengthAdjust="spacingAndGlyphs">20</text>
<text x="1104.41" y="1087.04" fill="#006464" stroke="#006464" font-size="12" text-anchor="start" textLength="18.8" lengthAdjust="spacingAndGlyphs">A11</text>
<line x1="1212.24" y1="795.88" x2="1227.29" y2="795.88" stroke="#840000" stroke-width="1.5"/>
<text x="1219.76" y="795.04" fill="#A90000" stroke="#A90000" font-size="11.8" text-anchor="middle" textLength="13.37" lengthAdjust="spacingAndGlyphs">40</text>
<text x="1207.12" y="800.92" fill="#006464" stroke="#006464" font-size="12" text-anchor="end" textLength="20.4" lengthAdjust="spacingAndGlyphs">RES</text>
<line x1="1186.72" y1="790.47" x2="1207.12" y2="790.47" stroke="#006464" stroke-width="1.2"/>
<line x1="1212.24" y1="810.94" x2="1227.29" y2="810.94" stroke="#840000" stroke-width="1.5"/>
<text x="1219.76" y="810.1" fill="#A90000" stroke="#A90000" font-size="11.8" text-anchor="middle" textLength="13.37" lengthAdjust="spacingAndGlyphs">39</text>
<text x="1207.12" y="815.98" fill="#006464" stroke="#006464" font-size="12" text-anchor="end" textLength="13.6" lengthAdjust="spacingAndGlyphs">ø2</text>
<line x1="1212.24" y1="826" x2="1227.29" y2="826" stroke="#840000" stroke-width="1.5"/>
<text x="1219.76" y="825.16" fill="#A90000" stroke="#A90000" font-size="11.8" text-anchor="middle" textLength="13.37" lengthAdjust="spacingAndGlyphs">38</text>
<text x="1207.12" y="831.04" fill="#006464" stroke="#006464" font-size="12" text-anchor="end" textLength="13.6" lengthAdjust="spacingAndGlyphs">SO</text>
<line x1="1193.52" y1="820.59" x2="1207.12" y2="820.59" stroke="#006464" stroke-width="1.2"/>
<line x1="1212.24" y1="841.06" x2="1227.29" y2="841.06" stroke="#840000" stroke-width="1.5"/>
<text x="1219.76" y="840.21" fill="#A90000" stroke="#A90000" font-size="11.8" text-anchor="middle" textLength="13.37" lengthAdjust="spacingAndGlyphs">37</text>
<text x="1207.12" y="846.1" fill="#006464" stroke="#006464" font-size="12" text-anchor="end" textLength="13.6" lengthAdjust="spacingAndGlyphs">ø0</text>
<line x1="1212.24" y1="856.12" x2="1227.29" y2="856.12" stroke="#840000" stroke-width="1.5"/>
<path d="M1225.04 853.86L1229.55 858.38M1225.04 858.38L1229.55 853.86" stroke="#840000" stroke-width="1.4"/>
<text x="1219.76" y="855.27" fill="#A90000" stroke="#A90000" font-size="11.8" text-anchor="middle" textLength="13.37" lengthAdjust="spacingAndGlyphs">36</text>
<text x="1207.12" y="861.16" fill="#006464" stroke="#006464" font-size="12" text-anchor="end" textLength="20" lengthAdjust="spacingAndGlyphs">N.C.</text>
<line x1="1212.24" y1="871.18" x2="1227.29" y2="871.18" stroke="#840000" stroke-width="1.5"/>
<path d="M1225.04 868.92L1229.55 873.44M1225.04 873.44L1229.55 868.92" stroke="#840000" stroke-width="1.4"/>
<text x="1219.76" y="870.33" fill="#A90000" stroke="#A90000" font-size="11.8" text-anchor="middle" textLength="13.37" lengthAdjust="spacingAndGlyphs">35</text>
<text x="1207.12" y="876.22" fill="#006464" stroke="#006464" font-size="12" text-anchor="end" textLength="20" lengthAdjust="spacingAndGlyphs">N.C.</text>
<line x1="1212.24" y1="886.24" x2="1227.29" y2="886.24" stroke="#840000" stroke-width="1.5"/>
<text x="1219.76" y="885.39" fill="#A90000" stroke="#A90000" font-size="11.8" text-anchor="middle" textLength="13.37" lengthAdjust="spacingAndGlyphs">34</text>
<text x="1207.12" y="891.28" fill="#006464" stroke="#006464" font-size="12" text-anchor="end" textLength="19.4" lengthAdjust="spacingAndGlyphs">R/W</text>
<line x1="1212.24" y1="901.29" x2="1227.29" y2="901.29" stroke="#840000" stroke-width="1.5"/>
<text x="1219.76" y="900.45" fill="#A90000" stroke="#A90000" font-size="11.8" text-anchor="middle" textLength="13.37" lengthAdjust="spacingAndGlyphs">33</text>
<text x="1207.12" y="906.33" fill="#006464" stroke="#006464" font-size="12" text-anchor="end" textLength="13.6" lengthAdjust="spacingAndGlyphs">D0</text>
<line x1="1212.24" y1="916.35" x2="1227.29" y2="916.35" stroke="#840000" stroke-width="1.5"/>
<text x="1219.76" y="915.51" fill="#A90000" stroke="#A90000" font-size="11.8" text-anchor="middle" textLength="13.37" lengthAdjust="spacingAndGlyphs">32</text>
<text x="1207.12" y="921.39" fill="#006464" stroke="#006464" font-size="12" text-anchor="end" textLength="12.8" lengthAdjust="spacingAndGlyphs">D1</text>
<line x1="1212.24" y1="931.41" x2="1227.29" y2="931.41" stroke="#840000" stroke-width="1.5"/>
<text x="1219.76" y="930.57" fill="#A90000" stroke="#A90000" font-size="11.8" text-anchor="middle" textLength="12.59" lengthAdjust="spacingAndGlyphs">31</text>
<text x="1207.12" y="936.45" fill="#006464" stroke="#006464" font-size="12" text-anchor="end" textLength="13.6" lengthAdjust="spacingAndGlyphs">D2</text>
<line x1="1212.24" y1="946.47" x2="1227.29" y2="946.47" stroke="#840000" stroke-width="1.5"/>
<text x="1219.76" y="945.63" fill="#A90000" stroke="#A90000" font-size="11.8" text-anchor="middle" textLength="13.37" lengthAdjust="spacingAndGlyphs">30</text>
<text x="1207.12" y="951.51" fill="#006464" stroke="#006464" font-size="12" text-anchor="end" textLength="13.6" lengthAdjust="spacingAndGlyphs">D3</text>
<line x1="1212.24" y1="961.53" x2="1227.29" y2="961.53" stroke="#840000" stroke-width="1.5"/>
<text x="1219.76" y="960.69" fill="#A90000" stroke="#A90000" font-size="11.8" text-anchor="middle" textLength="13.37" lengthAdjust="spacingAndGlyphs">29</text>
<text x="1207.12" y="966.57" fill="#006464" stroke="#006464" font-size="12" text-anchor="end" textLength="13.6" lengthAdjust="spacingAndGlyphs">D4</text>
<line x1="1212.24" y1="976.59" x2="1227.29" y2="976.59" stroke="#840000" stroke-width="1.5"/>
<text x="1219.76" y="975.74" fill="#A90000" stroke="#A90000" font-size="11.8" text-anchor="middle" textLength="13.37" lengthAdjust="spacingAndGlyphs">28</text>
<text x="1207.12" y="981.63" fill="#006464" stroke="#006464" font-size="12" text-anchor="end" textLength="13.6" lengthAdjust="spacingAndGlyphs">D5</text>
<line x1="1212.24" y1="991.65" x2="1227.29" y2="991.65" stroke="#840000" stroke-width="1.5"/>
<text x="1219.76" y="990.8" fill="#A90000" stroke="#A90000" font-size="11.8" text-anchor="middle" textLength="13.37" lengthAdjust="spacingAndGlyphs">27</text>
<text x="1207.12" y="996.69" fill="#006464" stroke="#006464" font-size="12" text-anchor="end" textLength="13.6" lengthAdjust="spacingAndGlyphs">D6</text>
<line x1="1212.24" y1="1006.71" x2="1227.29" y2="1006.71" stroke="#840000" stroke-width="1.5"/>
<text x="1219.76" y="1005.86" fill="#A90000" stroke="#A90000" font-size="11.8" text-anchor="middle" textLength="13.37" lengthAdjust="spacingAndGlyphs">26</text>
<text x="1207.12" y="1011.75" fill="#006464" stroke="#006464" font-size="12" text-anchor="end" textLength="13.6" lengthAdjust="spacingAndGlyphs">D7</text>
<line x1="1212.24" y1="1021.76" x2="1227.29" y2="1021.76" stroke="#840000" stroke-width="1.5"/>
<text x="1219.76" y="1020.92" fill="#A90000" stroke="#A90000" font-size="11.8" text-anchor="middle" textLength="13.37" lengthAdjust="spacingAndGlyphs">25</text>
<text x="1207.12" y="1026.8" fill="#006464" stroke="#006464" font-size="12" text-anchor="end" textLength="19.6" lengthAdjust="spacingAndGlyphs">A15</text>
<line x1="1212.24" y1="1036.82" x2="1227.29" y2="1036.82" stroke="#840000" stroke-width="1.5"/>
<text x="1219.76" y="1035.98" fill="#A90000" stroke="#A90000" font-size="11.8" text-anchor="middle" textLength="13.37" lengthAdjust="spacingAndGlyphs">24</text>
<text x="1207.12" y="1041.86" fill="#006464" stroke="#006464" font-size="12" text-anchor="end" textLength="19.6" lengthAdjust="spacingAndGlyphs">A14</text>
<line x1="1212.24" y1="1051.88" x2="1227.29" y2="1051.88" stroke="#840000" stroke-width="1.5"/>
<text x="1219.76" y="1051.04" fill="#A90000" stroke="#A90000" font-size="11.8" text-anchor="middle" textLength="13.37" lengthAdjust="spacingAndGlyphs">23</text>
<text x="1207.12" y="1056.92" fill="#006464" stroke="#006464" font-size="12" text-anchor="end" textLength="19.6" lengthAdjust="spacingAndGlyphs">A13</text>
<line x1="1212.24" y1="1066.94" x2="1227.29" y2="1066.94" stroke="#840000" stroke-width="1.5"/>
<text x="1219.76" y="1066.1" fill="#A90000" stroke="#A90000" font-size="11.8" text-anchor="middle" textLength="13.37" lengthAdjust="spacingAndGlyphs">22</text>
<text x="1207.12" y="1071.98" fill="#006464" stroke="#006464" font-size="12" text-anchor="end" textLength="19.6" lengthAdjust="spacingAndGlyphs">A12</text>
<line x1="1212.24" y1="1082" x2="1227.29" y2="1082" stroke="#840000" stroke-width="1.5"/>
<text x="1219.76" y="1081.16" fill="#A90000" stroke="#A90000" font-size="11.8" text-anchor="middle" textLength="12.59" lengthAdjust="spacingAndGlyphs">21</text>
<text x="1207.12" y="1087.04" fill="#006464" stroke="#006464" font-size="12" text-anchor="end" textLength="20.4" lengthAdjust="spacingAndGlyphs">VSS</text>
<text x="1156.29" y="756.05" fill="#006464" stroke="#006464" font-size="12" text-anchor="middle" textLength="12.8" lengthAdjust="spacingAndGlyphs">P1</text>
<text x="1155.76" y="770.8" fill="#006464" stroke="#006464" font-size="12" text-anchor="middle" textLength="112.6" lengthAdjust="spacingAndGlyphs">AIM65_6502_SOCKET</text>
<line x1="1084.24" y1="795.88" x2="1001.41" y2="795.88" stroke="#009000" stroke-width="1.7"/>
<path d="M1001.41 795.88L1001.41 803.41M993.88 803.41L1008.94 803.41L1001.41 810.94Z" fill="none" stroke="#840000" stroke-width="1.6" stroke-linejoin="miter"/>
<text x="1001.41" y="831.04" fill="#006464" stroke="#006464" font-size="12" text-anchor="middle" textLength="20.4" lengthAdjust="spacingAndGlyphs">GND</text>
<line x1="1084.24" y1="901.29" x2="1001.41" y2="901.29" stroke="#009000" stroke-width="1.7"/>
<path d="M1001.41 901.29L1001.41 886.24M996.74 894.74L1001.41 886.24L1006.08 894.74" fill="none" stroke="#840000" stroke-width="1.6"/>
<text x="1001.41" y="876.22" fill="#006464" stroke="#006464" font-size="12" text-anchor="middle" textLength="20.4" lengthAdjust="spacingAndGlyphs">VCC</text>
<polygon points="1084.24,803.69 1030.94,803.69 1023.69,810.94 1030.94,818.19 1084.24,818.19" fill="none" stroke="#840000" stroke-width="1.5"/>
<text x="1079.24" y="815.98" fill="#840000" stroke="#840000" font-size="12" text-anchor="end" textLength="44.8" lengthAdjust="spacingAndGlyphs">AIM_RDY</text>
<polygon points="1084.24,826 1076.99,818.75 1031.29,818.75 1031.29,833.25 1076.99,833.25" fill="none" stroke="#840000" stroke-width="1.5"/>
<text x="1073.49" y="831.04" fill="#840000" stroke="#840000" font-size="12" text-anchor="end" textLength="37.2" lengthAdjust="spacingAndGlyphs">AIM_ø1</text>
<polygon points="1084.24,833.81 1034.14,833.81 1026.89,841.06 1034.14,848.31 1084.24,848.31" fill="none" stroke="#840000" stroke-width="1.5"/>
<text x="1079.24" y="846.1" fill="#840000" stroke="#840000" font-size="12" text-anchor="end" textLength="41.6" lengthAdjust="spacingAndGlyphs">AIM_IRQ</text>
<line x1="1037.64" y1="835.65" x2="1079.24" y2="835.65" stroke="#840000" stroke-width="1.2"/>
<polygon points="1084.24,863.93 1033.54,863.93 1026.29,871.18 1033.54,878.43 1084.24,878.43" fill="none" stroke="#840000" stroke-width="1.5"/>
<text x="1079.24" y="876.22" fill="#840000" stroke="#840000" font-size="12" text-anchor="end" textLength="42.2" lengthAdjust="spacingAndGlyphs">AIM_NMI</text>
<line x1="1037.04" y1="865.77" x2="1079.24" y2="865.77" stroke="#840000" stroke-width="1.2"/>
<polygon points="1084.24,886.24 1076.99,878.99 1016.89,878.99 1016.89,893.49 1076.99,893.49" fill="none" stroke="#840000" stroke-width="1.5"/>
<text x="1073.49" y="891.28" fill="#840000" stroke="#840000" font-size="12" text-anchor="end" textLength="51.6" lengthAdjust="spacingAndGlyphs">AIM_SYNC</text>
<polygon points="1084.24,916.35 1076.99,909.1 1054.89,909.1 1054.89,923.6 1076.99,923.6" fill="none" stroke="#840000" stroke-width="1.5"/>
<text x="1073.49" y="921.39" fill="#840000" stroke="#840000" font-size="12" text-anchor="end" textLength="13.6" lengthAdjust="spacingAndGlyphs">A0</text>
<polygon points="1084.24,931.41 1076.99,924.16 1055.69,924.16 1055.69,938.66 1076.99,938.66" fill="none" stroke="#840000" stroke-width="1.5"/>
<text x="1073.49" y="936.45" fill="#840000" stroke="#840000" font-size="12" text-anchor="end" textLength="12.8" lengthAdjust="spacingAndGlyphs">A1</text>
<polygon points="1084.24,946.47 1076.99,939.22 1054.89,939.22 1054.89,953.72 1076.99,953.72" fill="none" stroke="#840000" stroke-width="1.5"/>
<text x="1073.49" y="951.51" fill="#840000" stroke="#840000" font-size="12" text-anchor="end" textLength="13.6" lengthAdjust="spacingAndGlyphs">A2</text>
<polygon points="1084.24,961.53 1076.99,954.28 1054.89,954.28 1054.89,968.78 1076.99,968.78" fill="none" stroke="#840000" stroke-width="1.5"/>
<text x="1073.49" y="966.57" fill="#840000" stroke="#840000" font-size="12" text-anchor="end" textLength="13.6" lengthAdjust="spacingAndGlyphs">A3</text>
<polygon points="1084.24,976.59 1076.99,969.34 1054.89,969.34 1054.89,983.84 1076.99,983.84" fill="none" stroke="#840000" stroke-width="1.5"/>
<text x="1073.49" y="981.63" fill="#840000" stroke="#840000" font-size="12" text-anchor="end" textLength="13.6" lengthAdjust="spacingAndGlyphs">A4</text>
<polygon points="1084.24,991.65 1076.99,984.4 1054.89,984.4 1054.89,998.9 1076.99,998.9" fill="none" stroke="#840000" stroke-width="1.5"/>
<text x="1073.49" y="996.69" fill="#840000" stroke="#840000" font-size="12" text-anchor="end" textLength="13.6" lengthAdjust="spacingAndGlyphs">A5</text>
<polygon points="1084.24,1006.71 1076.99,999.46 1054.89,999.46 1054.89,1013.96 1076.99,1013.96" fill="none" stroke="#840000" stroke-width="1.5"/>
<text x="1073.49" y="1011.75" fill="#840000" stroke="#840000" font-size="12" text-anchor="end" textLength="13.6" lengthAdjust="spacingAndGlyphs">A6</text>
<polygon points="1084.24,1021.76 1076.99,1014.51 1054.89,1014.51 1054.89,1029.01 1076.99,1029.01" fill="none" stroke="#840000" stroke-width="1.5"/>
<text x="1073.49" y="1026.8" fill="#840000" stroke="#840000" font-size="12" text-anchor="end" textLength="13.6" lengthAdjust="spacingAndGlyphs">A7</text>
<polygon points="1084.24,1036.82 1076.99,1029.57 1054.89,1029.57 1054.89,1044.07 1076.99,1044.07" fill="none" stroke="#840000" stroke-width="1.5"/>
<text x="1073.49" y="1041.86" fill="#840000" stroke="#840000" font-size="12" text-anchor="end" textLength="13.6" lengthAdjust="spacingAndGlyphs">A8</text>
<polygon points="1084.24,1051.88 1076.99,1044.63 1054.89,1044.63 1054.89,1059.13 1076.99,1059.13" fill="none" stroke="#840000" stroke-width="1.5"/>
<text x="1073.49" y="1056.92" fill="#840000" stroke="#840000" font-size="12" text-anchor="end" textLength="13.6" lengthAdjust="spacingAndGlyphs">A9</text>
<polygon points="1084.24,1066.94 1076.99,1059.69 1048.89,1059.69 1048.89,1074.19 1076.99,1074.19" fill="none" stroke="#840000" stroke-width="1.5"/>
<text x="1073.49" y="1071.98" fill="#840000" stroke="#840000" font-size="12" text-anchor="end" textLength="19.6" lengthAdjust="spacingAndGlyphs">A10</text>
<polygon points="1084.24,1082 1076.99,1074.75 1049.69,1074.75 1049.69,1089.25 1076.99,1089.25" fill="none" stroke="#840000" stroke-width="1.5"/>
<text x="1073.49" y="1087.04" fill="#840000" stroke="#840000" font-size="12" text-anchor="end" textLength="18.8" lengthAdjust="spacingAndGlyphs">A11</text>
<polygon points="1227.29,788.63 1294.19,788.63 1301.44,795.88 1294.19,803.13 1227.29,803.13" fill="none" stroke="#840000" stroke-width="1.5"/>
<text x="1232.29" y="800.92" fill="#840000" stroke="#840000" font-size="12" text-anchor="start" textLength="58.4" lengthAdjust="spacingAndGlyphs">AIM_RESET</text>
<line x1="1232.29" y1="790.47" x2="1290.69" y2="790.47" stroke="#840000" stroke-width="1.2"/>
<polygon points="1227.29,810.94 1234.54,803.69 1281.04,803.69 1281.04,818.19 1234.54,818.19" fill="none" stroke="#840000" stroke-width="1.5"/>
<text x="1238.04" y="815.98" fill="#840000" stroke="#840000" font-size="12" text-anchor="start" textLength="38" lengthAdjust="spacingAndGlyphs">AIM_ø2</text>
<polygon points="1227.29,818.75 1273.79,818.75 1281.04,826 1273.79,833.25 1227.29,833.25" fill="none" stroke="#840000" stroke-width="1.5"/>
<text x="1232.29" y="831.04" fill="#840000" stroke="#840000" font-size="12" text-anchor="start" textLength="38" lengthAdjust="spacingAndGlyphs">AIM_SO</text>
<line x1="1232.29" y1="820.59" x2="1270.29" y2="820.59" stroke="#840000" stroke-width="1.2"/>
<path d="M1223.15 836.92L1231.44 845.2M1223.15 845.2L1231.44 836.92" stroke="#000084" stroke-width="1.6"/>
<polygon points="1227.29,886.24 1234.54,878.99 1262.44,878.99 1262.44,893.49 1234.54,893.49" fill="none" stroke="#840000" stroke-width="1.5"/>
<text x="1238.04" y="891.28" fill="#840000" stroke="#840000" font-size="12" text-anchor="start" textLength="19.4" lengthAdjust="spacingAndGlyphs">R/W</text>
<polygon points="1227.29,901.29 1234.54,894.04 1255.14,894.04 1262.39,901.29 1255.14,908.54 1234.54,908.54" fill="none" stroke="#840000" stroke-width="1.5"/>
<text x="1238.04" y="906.33" fill="#840000" stroke="#840000" font-size="12" text-anchor="start" textLength="13.6" lengthAdjust="spacingAndGlyphs">D0</text>
<polygon points="1227.29,916.35 1234.54,909.1 1254.34,909.1 1261.59,916.35 1254.34,923.6 1234.54,923.6" fill="none" stroke="#840000" stroke-width="1.5"/>
<text x="1238.04" y="921.39" fill="#840000" stroke="#840000" font-size="12" text-anchor="start" textLength="12.8" lengthAdjust="spacingAndGlyphs">D1</text>
<polygon points="1227.29,931.41 1234.54,924.16 1255.14,924.16 1262.39,931.41 1255.14,938.66 1234.54,938.66" fill="none" stroke="#840000" stroke-width="1.5"/>
<text x="1238.04" y="936.45" fill="#840000" stroke="#840000" font-size="12" text-anchor="start" textLength="13.6" lengthAdjust="spacingAndGlyphs">D2</text>
<polygon points="1227.29,946.47 1234.54,939.22 1255.14,939.22 1262.39,946.47 1255.14,953.72 1234.54,953.72" fill="none" stroke="#840000" stroke-width="1.5"/>
<text x="1238.04" y="951.51" fill="#840000" stroke="#840000" font-size="12" text-anchor="start" textLength="13.6" lengthAdjust="spacingAndGlyphs">D3</text>
<polygon points="1227.29,961.53 1234.54,954.28 1255.14,954.28 1262.39,961.53 1255.14,968.78 1234.54,968.78" fill="none" stroke="#840000" stroke-width="1.5"/>
<text x="1238.04" y="966.57" fill="#840000" stroke="#840000" font-size="12" text-anchor="start" textLength="13.6" lengthAdjust="spacingAndGlyphs">D4</text>
<polygon points="1227.29,976.59 1234.54,969.34 1255.14,969.34 1262.39,976.59 1255.14,983.84 1234.54,983.84" fill="none" stroke="#840000" stroke-width="1.5"/>
<text x="1238.04" y="981.63" fill="#840000" stroke="#840000" font-size="12" text-anchor="start" textLength="13.6" lengthAdjust="spacingAndGlyphs">D5</text>
<polygon points="1227.29,991.65 1234.54,984.4 1255.14,984.4 1262.39,991.65 1255.14,998.9 1234.54,998.9" fill="none" stroke="#840000" stroke-width="1.5"/>
<text x="1238.04" y="996.69" fill="#840000" stroke="#840000" font-size="12" text-anchor="start" textLength="13.6" lengthAdjust="spacingAndGlyphs">D6</text>
<polygon points="1227.29,1006.71 1234.54,999.46 1255.14,999.46 1262.39,1006.71 1255.14,1013.96 1234.54,1013.96" fill="none" stroke="#840000" stroke-width="1.5"/>
<text x="1238.04" y="1011.75" fill="#840000" stroke="#840000" font-size="12" text-anchor="start" textLength="13.6" lengthAdjust="spacingAndGlyphs">D7</text>
<polygon points="1227.29,1021.76 1234.54,1014.51 1287.04,1014.51 1287.04,1029.01 1234.54,1029.01" fill="none" stroke="#840000" stroke-width="1.5"/>
<text x="1238.04" y="1026.8" fill="#840000" stroke="#840000" font-size="12" text-anchor="start" textLength="44" lengthAdjust="spacingAndGlyphs">AIM_A15</text>
<polygon points="1227.29,1036.82 1234.54,1029.57 1287.04,1029.57 1287.04,1044.07 1234.54,1044.07" fill="none" stroke="#840000" stroke-width="1.5"/>
<text x="1238.04" y="1041.86" fill="#840000" stroke="#840000" font-size="12" text-anchor="start" textLength="44" lengthAdjust="spacingAndGlyphs">AIM_A14</text>
<polygon points="1227.29,1051.88 1234.54,1044.63 1287.04,1044.63 1287.04,1059.13 1234.54,1059.13" fill="none" stroke="#840000" stroke-width="1.5"/>
<text x="1238.04" y="1056.92" fill="#840000" stroke="#840000" font-size="12" text-anchor="start" textLength="44" lengthAdjust="spacingAndGlyphs">AIM_A13</text>
<polygon points="1227.29,1066.94 1234.54,1059.69 1287.04,1059.69 1287.04,1074.19 1234.54,1074.19" fill="none" stroke="#840000" stroke-width="1.5"/>
<text x="1238.04" y="1071.98" fill="#840000" stroke="#840000" font-size="12" text-anchor="start" textLength="44" lengthAdjust="spacingAndGlyphs">AIM_A12</text>
<path d="M1227.29 1082L1227.29 1089.53M1219.76 1089.53L1234.82 1089.53L1227.29 1097.06Z" fill="none" stroke="#840000" stroke-width="1.6" stroke-linejoin="miter"/>
<text x="1227.29" y="1117.16" fill="#006464" stroke="#006464" font-size="12" text-anchor="middle" textLength="20.4" lengthAdjust="spacingAndGlyphs">GND</text>
<rect x="1520.94" y="788.35" width="112.94" height="316.24" fill="#FFFFC2" stroke="#840000" stroke-width="2.0"/>
<line x1="1520.94" y1="803.41" x2="1505.88" y2="803.41" stroke="#840000" stroke-width="1.5"/>
<text x="1513.41" y="802.57" fill="#A90000" stroke="#A90000" font-size="11.8" text-anchor="middle" textLength="5.9" lengthAdjust="spacingAndGlyphs">1</text>
<text x="1526.06" y="808.45" fill="#006464" stroke="#006464" font-size="12" text-anchor="start" textLength="20.4" lengthAdjust="spacingAndGlyphs">VSS</text>
<line x1="1520.94" y1="818.47" x2="1505.88" y2="818.47" stroke="#840000" stroke-width="1.5"/>
<text x="1513.41" y="817.63" fill="#A90000" stroke="#A90000" font-size="11.8" text-anchor="middle" textLength="6.69" lengthAdjust="spacingAndGlyphs">2</text>
<text x="1526.06" y="823.51" fill="#006464" stroke="#006464" font-size="12" text-anchor="start" textLength="17.8" lengthAdjust="spacingAndGlyphs">NMI</text>
<line x1="1526.06" y1="813.06" x2="1543.86" y2="813.06" stroke="#006464" stroke-width="1.2"/>
<line x1="1520.94" y1="833.53" x2="1505.88" y2="833.53" stroke="#840000" stroke-width="1.5"/>
<text x="1513.41" y="832.69" fill="#A90000" stroke="#A90000" font-size="11.8" text-anchor="middle" textLength="6.69" lengthAdjust="spacingAndGlyphs">3</text>
<text x="1526.06" y="838.57" fill="#006464" stroke="#006464" font-size="12" text-anchor="start" textLength="17.2" lengthAdjust="spacingAndGlyphs">IRQ</text>
<line x1="1526.06" y1="828.12" x2="1543.26" y2="828.12" stroke="#006464" stroke-width="1.2"/>
<line x1="1520.94" y1="848.59" x2="1505.88" y2="848.59" stroke="#840000" stroke-width="1.5"/>
<text x="1513.41" y="847.74" fill="#A90000" stroke="#A90000" font-size="11.8" text-anchor="middle" textLength="6.69" lengthAdjust="spacingAndGlyphs">4</text>
<text x="1526.06" y="853.63" fill="#006464" stroke="#006464" font-size="12" text-anchor="start" textLength="24" lengthAdjust="spacingAndGlyphs">FIRQ</text>
<line x1="1526.06" y1="843.18" x2="1550.06" y2="843.18" stroke="#006464" stroke-width="1.2"/>
<line x1="1520.94" y1="863.65" x2="1505.88" y2="863.65" stroke="#840000" stroke-width="1.5"/>
<text x="1513.41" y="862.8" fill="#A90000" stroke="#A90000" font-size="11.8" text-anchor="middle" textLength="6.69" lengthAdjust="spacingAndGlyphs">5</text>
<text x="1526.06" y="868.69" fill="#006464" stroke="#006464" font-size="12" text-anchor="start" textLength="13.6" lengthAdjust="spacingAndGlyphs">BS</text>
<line x1="1520.94" y1="878.71" x2="1505.88" y2="878.71" stroke="#840000" stroke-width="1.5"/>
<text x="1513.41" y="877.86" fill="#A90000" stroke="#A90000" font-size="11.8" text-anchor="middle" textLength="6.69" lengthAdjust="spacingAndGlyphs">6</text>
<text x="1526.06" y="883.75" fill="#006464" stroke="#006464" font-size="12" text-anchor="start" textLength="13.6" lengthAdjust="spacingAndGlyphs">BA</text>
<line x1="1520.94" y1="893.76" x2="1505.88" y2="893.76" stroke="#840000" stroke-width="1.5"/>
<text x="1513.41" y="892.92" fill="#A90000" stroke="#A90000" font-size="11.8" text-anchor="middle" textLength="6.69" lengthAdjust="spacingAndGlyphs">7</text>
<text x="1526.06" y="898.8" fill="#006464" stroke="#006464" font-size="12" text-anchor="start" textLength="20.4" lengthAdjust="spacingAndGlyphs">VCC</text>
<line x1="1520.94" y1="908.82" x2="1505.88" y2="908.82" stroke="#840000" stroke-width="1.5"/>
<text x="1513.41" y="907.98" fill="#A90000" stroke="#A90000" font-size="11.8" text-anchor="middle" textLength="6.69" lengthAdjust="spacingAndGlyphs">8</text>
<text x="1526.06" y="913.86" fill="#006464" stroke="#006464" font-size="12" text-anchor="start" textLength="13.6" lengthAdjust="spacingAndGlyphs">A0</text>
<line x1="1520.94" y1="923.88" x2="1505.88" y2="923.88" stroke="#840000" stroke-width="1.5"/>
<text x="1513.41" y="923.04" fill="#A90000" stroke="#A90000" font-size="11.8" text-anchor="middle" textLength="6.69" lengthAdjust="spacingAndGlyphs">9</text>
<text x="1526.06" y="928.92" fill="#006464" stroke="#006464" font-size="12" text-anchor="start" textLength="12.8" lengthAdjust="spacingAndGlyphs">A1</text>
<line x1="1520.94" y1="938.94" x2="1505.88" y2="938.94" stroke="#840000" stroke-width="1.5"/>
<text x="1513.41" y="938.1" fill="#A90000" stroke="#A90000" font-size="11.8" text-anchor="middle" textLength="12.59" lengthAdjust="spacingAndGlyphs">10</text>
<text x="1526.06" y="943.98" fill="#006464" stroke="#006464" font-size="12" text-anchor="start" textLength="13.6" lengthAdjust="spacingAndGlyphs">A2</text>
<line x1="1520.94" y1="954" x2="1505.88" y2="954" stroke="#840000" stroke-width="1.5"/>
<text x="1513.41" y="953.16" fill="#A90000" stroke="#A90000" font-size="11.8" text-anchor="middle" textLength="11.8" lengthAdjust="spacingAndGlyphs">11</text>
<text x="1526.06" y="959.04" fill="#006464" stroke="#006464" font-size="12" text-anchor="start" textLength="13.6" lengthAdjust="spacingAndGlyphs">A3</text>
<line x1="1520.94" y1="969.06" x2="1505.88" y2="969.06" stroke="#840000" stroke-width="1.5"/>
<text x="1513.41" y="968.21" fill="#A90000" stroke="#A90000" font-size="11.8" text-anchor="middle" textLength="12.59" lengthAdjust="spacingAndGlyphs">12</text>
<text x="1526.06" y="974.1" fill="#006464" stroke="#006464" font-size="12" text-anchor="start" textLength="13.6" lengthAdjust="spacingAndGlyphs">A4</text>
<line x1="1520.94" y1="984.12" x2="1505.88" y2="984.12" stroke="#840000" stroke-width="1.5"/>
<text x="1513.41" y="983.27" fill="#A90000" stroke="#A90000" font-size="11.8" text-anchor="middle" textLength="12.59" lengthAdjust="spacingAndGlyphs">13</text>
<text x="1526.06" y="989.16" fill="#006464" stroke="#006464" font-size="12" text-anchor="start" textLength="13.6" lengthAdjust="spacingAndGlyphs">A5</text>
<line x1="1520.94" y1="999.18" x2="1505.88" y2="999.18" stroke="#840000" stroke-width="1.5"/>
<text x="1513.41" y="998.33" fill="#A90000" stroke="#A90000" font-size="11.8" text-anchor="middle" textLength="12.59" lengthAdjust="spacingAndGlyphs">14</text>
<text x="1526.06" y="1004.22" fill="#006464" stroke="#006464" font-size="12" text-anchor="start" textLength="13.6" lengthAdjust="spacingAndGlyphs">A6</text>
<line x1="1520.94" y1="1014.24" x2="1505.88" y2="1014.24" stroke="#840000" stroke-width="1.5"/>
<text x="1513.41" y="1013.39" fill="#A90000" stroke="#A90000" font-size="11.8" text-anchor="middle" textLength="12.59" lengthAdjust="spacingAndGlyphs">15</text>
<text x="1526.06" y="1019.28" fill="#006464" stroke="#006464" font-size="12" text-anchor="start" textLength="13.6" lengthAdjust="spacingAndGlyphs">A7</text>
<line x1="1520.94" y1="1029.29" x2="1505.88" y2="1029.29" stroke="#840000" stroke-width="1.5"/>
<text x="1513.41" y="1028.45" fill="#A90000" stroke="#A90000" font-size="11.8" text-anchor="middle" textLength="12.59" lengthAdjust="spacingAndGlyphs">16</text>
<text x="1526.06" y="1034.33" fill="#006464" stroke="#006464" font-size="12" text-anchor="start" textLength="13.6" lengthAdjust="spacingAndGlyphs">A8</text>
<line x1="1520.94" y1="1044.35" x2="1505.88" y2="1044.35" stroke="#840000" stroke-width="1.5"/>
<text x="1513.41" y="1043.51" fill="#A90000" stroke="#A90000" font-size="11.8" text-anchor="middle" textLength="12.59" lengthAdjust="spacingAndGlyphs">17</text>
<text x="1526.06" y="1049.39" fill="#006464" stroke="#006464" font-size="12" text-anchor="start" textLength="13.6" lengthAdjust="spacingAndGlyphs">A9</text>
<line x1="1520.94" y1="1059.41" x2="1505.88" y2="1059.41" stroke="#840000" stroke-width="1.5"/>
<text x="1513.41" y="1058.57" fill="#A90000" stroke="#A90000" font-size="11.8" text-anchor="middle" textLength="12.59" lengthAdjust="spacingAndGlyphs">18</text>
<text x="1526.06" y="1064.45" fill="#006464" stroke="#006464" font-size="12" text-anchor="start" textLength="19.6" lengthAdjust="spacingAndGlyphs">A10</text>
<line x1="1520.94" y1="1074.47" x2="1505.88" y2="1074.47" stroke="#840000" stroke-width="1.5"/>
<text x="1513.41" y="1073.63" fill="#A90000" stroke="#A90000" font-size="11.8" text-anchor="middle" textLength="12.59" lengthAdjust="spacingAndGlyphs">19</text>
<text x="1526.06" y="1079.51" fill="#006464" stroke="#006464" font-size="12" text-anchor="start" textLength="18.8" lengthAdjust="spacingAndGlyphs">A11</text>
<line x1="1520.94" y1="1089.53" x2="1505.88" y2="1089.53" stroke="#840000" stroke-width="1.5"/>
<text x="1513.41" y="1088.69" fill="#A90000" stroke="#A90000" font-size="11.8" text-anchor="middle" textLength="13.37" lengthAdjust="spacingAndGlyphs">20</text>
<text x="1526.06" y="1094.57" fill="#006464" stroke="#006464" font-size="12" text-anchor="start" textLength="19.6" lengthAdjust="spacingAndGlyphs">A12</text>
<line x1="1633.88" y1="803.41" x2="1648.94" y2="803.41" stroke="#840000" stroke-width="1.5"/>
<text x="1641.41" y="802.57" fill="#A90000" stroke="#A90000" font-size="11.8" text-anchor="middle" textLength="13.37" lengthAdjust="spacingAndGlyphs">40</text>
<text x="1628.76" y="808.45" fill="#006464" stroke="#006464" font-size="12" text-anchor="end" textLength="26.6" lengthAdjust="spacingAndGlyphs">HALT</text>
<line x1="1602.16" y1="798" x2="1628.76" y2="798" stroke="#006464" stroke-width="1.2"/>
<line x1="1633.88" y1="818.47" x2="1648.94" y2="818.47" stroke="#840000" stroke-width="1.5"/>
<text x="1641.41" y="817.63" fill="#A90000" stroke="#A90000" font-size="11.8" text-anchor="middle" textLength="13.37" lengthAdjust="spacingAndGlyphs">39</text>
<text x="1628.76" y="823.51" fill="#006464" stroke="#006464" font-size="12" text-anchor="end" textLength="20.4" lengthAdjust="spacingAndGlyphs">TSC</text>
<line x1="1633.88" y1="833.53" x2="1648.94" y2="833.53" stroke="#840000" stroke-width="1.5"/>
<text x="1641.41" y="832.69" fill="#A90000" stroke="#A90000" font-size="11.8" text-anchor="middle" textLength="13.37" lengthAdjust="spacingAndGlyphs">38</text>
<text x="1628.76" y="838.57" fill="#006464" stroke="#006464" font-size="12" text-anchor="end" textLength="16.6" lengthAdjust="spacingAndGlyphs">LIC</text>
<line x1="1633.88" y1="848.59" x2="1648.94" y2="848.59" stroke="#840000" stroke-width="1.5"/>
<text x="1641.41" y="847.74" fill="#A90000" stroke="#A90000" font-size="11.8" text-anchor="middle" textLength="13.37" lengthAdjust="spacingAndGlyphs">37</text>
<text x="1628.76" y="853.63" fill="#006464" stroke="#006464" font-size="12" text-anchor="end" textLength="34" lengthAdjust="spacingAndGlyphs">RESET</text>
<line x1="1594.76" y1="843.18" x2="1628.76" y2="843.18" stroke="#006464" stroke-width="1.2"/>
<line x1="1633.88" y1="863.65" x2="1648.94" y2="863.65" stroke="#840000" stroke-width="1.5"/>
<text x="1641.41" y="862.8" fill="#A90000" stroke="#A90000" font-size="11.8" text-anchor="middle" textLength="13.37" lengthAdjust="spacingAndGlyphs">36</text>
<text x="1628.76" y="868.69" fill="#006464" stroke="#006464" font-size="12" text-anchor="end" textLength="27.8" lengthAdjust="spacingAndGlyphs">AVMA</text>
<line x1="1633.88" y1="878.71" x2="1648.94" y2="878.71" stroke="#840000" stroke-width="1.5"/>
<text x="1641.41" y="877.86" fill="#A90000" stroke="#A90000" font-size="11.8" text-anchor="middle" textLength="13.37" lengthAdjust="spacingAndGlyphs">35</text>
<text x="1628.76" y="883.75" fill="#006464" stroke="#006464" font-size="12" text-anchor="end" textLength="6.8" lengthAdjust="spacingAndGlyphs">Q</text>
<line x1="1633.88" y1="893.76" x2="1648.94" y2="893.76" stroke="#840000" stroke-width="1.5"/>
<text x="1641.41" y="892.92" fill="#A90000" stroke="#A90000" font-size="11.8" text-anchor="middle" textLength="13.37" lengthAdjust="spacingAndGlyphs">34</text>
<text x="1628.76" y="898.8" fill="#006464" stroke="#006464" font-size="12" text-anchor="end" textLength="6.8" lengthAdjust="spacingAndGlyphs">E</text>
<line x1="1633.88" y1="908.82" x2="1648.94" y2="908.82" stroke="#840000" stroke-width="1.5"/>
<text x="1641.41" y="907.98" fill="#A90000" stroke="#A90000" font-size="11.8" text-anchor="middle" textLength="13.37" lengthAdjust="spacingAndGlyphs">33</text>
<text x="1628.76" y="913.86" fill="#006464" stroke="#006464" font-size="12" text-anchor="end" textLength="27.2" lengthAdjust="spacingAndGlyphs">BUSY</text>
<line x1="1633.88" y1="923.88" x2="1648.94" y2="923.88" stroke="#840000" stroke-width="1.5"/>
<text x="1641.41" y="923.04" fill="#A90000" stroke="#A90000" font-size="11.8" text-anchor="middle" textLength="13.37" lengthAdjust="spacingAndGlyphs">32</text>
<text x="1628.76" y="928.92" fill="#006464" stroke="#006464" font-size="12" text-anchor="end" textLength="19.4" lengthAdjust="spacingAndGlyphs">R/W</text>
<line x1="1633.88" y1="938.94" x2="1648.94" y2="938.94" stroke="#840000" stroke-width="1.5"/>
<text x="1641.41" y="938.1" fill="#A90000" stroke="#A90000" font-size="11.8" text-anchor="middle" textLength="12.59" lengthAdjust="spacingAndGlyphs">31</text>
<text x="1628.76" y="943.98" fill="#006464" stroke="#006464" font-size="12" text-anchor="end" textLength="13.6" lengthAdjust="spacingAndGlyphs">D0</text>
<line x1="1633.88" y1="954" x2="1648.94" y2="954" stroke="#840000" stroke-width="1.5"/>
<text x="1641.41" y="953.16" fill="#A90000" stroke="#A90000" font-size="11.8" text-anchor="middle" textLength="13.37" lengthAdjust="spacingAndGlyphs">30</text>
<text x="1628.76" y="959.04" fill="#006464" stroke="#006464" font-size="12" text-anchor="end" textLength="12.8" lengthAdjust="spacingAndGlyphs">D1</text>
<line x1="1633.88" y1="969.06" x2="1648.94" y2="969.06" stroke="#840000" stroke-width="1.5"/>
<text x="1641.41" y="968.21" fill="#A90000" stroke="#A90000" font-size="11.8" text-anchor="middle" textLength="13.37" lengthAdjust="spacingAndGlyphs">29</text>
<text x="1628.76" y="974.1" fill="#006464" stroke="#006464" font-size="12" text-anchor="end" textLength="13.6" lengthAdjust="spacingAndGlyphs">D2</text>
<line x1="1633.88" y1="984.12" x2="1648.94" y2="984.12" stroke="#840000" stroke-width="1.5"/>
<text x="1641.41" y="983.27" fill="#A90000" stroke="#A90000" font-size="11.8" text-anchor="middle" textLength="13.37" lengthAdjust="spacingAndGlyphs">28</text>
<text x="1628.76" y="989.16" fill="#006464" stroke="#006464" font-size="12" text-anchor="end" textLength="13.6" lengthAdjust="spacingAndGlyphs">D3</text>
<line x1="1633.88" y1="999.18" x2="1648.94" y2="999.18" stroke="#840000" stroke-width="1.5"/>
<text x="1641.41" y="998.33" fill="#A90000" stroke="#A90000" font-size="11.8" text-anchor="middle" textLength="13.37" lengthAdjust="spacingAndGlyphs">27</text>
<text x="1628.76" y="1004.22" fill="#006464" stroke="#006464" font-size="12" text-anchor="end" textLength="13.6" lengthAdjust="spacingAndGlyphs">D4</text>
<line x1="1633.88" y1="1014.24" x2="1648.94" y2="1014.24" stroke="#840000" stroke-width="1.5"/>
<text x="1641.41" y="1013.39" fill="#A90000" stroke="#A90000" font-size="11.8" text-anchor="middle" textLength="13.37" lengthAdjust="spacingAndGlyphs">26</text>
<text x="1628.76" y="1019.28" fill="#006464" stroke="#006464" font-size="12" text-anchor="end" textLength="13.6" lengthAdjust="spacingAndGlyphs">D5</text>
<line x1="1633.88" y1="1029.29" x2="1648.94" y2="1029.29" stroke="#840000" stroke-width="1.5"/>
<text x="1641.41" y="1028.45" fill="#A90000" stroke="#A90000" font-size="11.8" text-anchor="middle" textLength="13.37" lengthAdjust="spacingAndGlyphs">25</text>
<text x="1628.76" y="1034.33" fill="#006464" stroke="#006464" font-size="12" text-anchor="end" textLength="13.6" lengthAdjust="spacingAndGlyphs">D6</text>
<line x1="1633.88" y1="1044.35" x2="1648.94" y2="1044.35" stroke="#840000" stroke-width="1.5"/>
<text x="1641.41" y="1043.51" fill="#A90000" stroke="#A90000" font-size="11.8" text-anchor="middle" textLength="13.37" lengthAdjust="spacingAndGlyphs">24</text>
<text x="1628.76" y="1049.39" fill="#006464" stroke="#006464" font-size="12" text-anchor="end" textLength="13.6" lengthAdjust="spacingAndGlyphs">D7</text>
<line x1="1633.88" y1="1059.41" x2="1648.94" y2="1059.41" stroke="#840000" stroke-width="1.5"/>
<text x="1641.41" y="1058.57" fill="#A90000" stroke="#A90000" font-size="11.8" text-anchor="middle" textLength="13.37" lengthAdjust="spacingAndGlyphs">23</text>
<text x="1628.76" y="1064.45" fill="#006464" stroke="#006464" font-size="12" text-anchor="end" textLength="19.6" lengthAdjust="spacingAndGlyphs">A15</text>
<line x1="1633.88" y1="1074.47" x2="1648.94" y2="1074.47" stroke="#840000" stroke-width="1.5"/>
<text x="1641.41" y="1073.63" fill="#A90000" stroke="#A90000" font-size="11.8" text-anchor="middle" textLength="13.37" lengthAdjust="spacingAndGlyphs">22</text>
<text x="1628.76" y="1079.51" fill="#006464" stroke="#006464" font-size="12" text-anchor="end" textLength="19.6" lengthAdjust="spacingAndGlyphs">A14</text>
<line x1="1633.88" y1="1089.53" x2="1648.94" y2="1089.53" stroke="#840000" stroke-width="1.5"/>
<text x="1641.41" y="1088.69" fill="#A90000" stroke="#A90000" font-size="11.8" text-anchor="middle" textLength="12.59" lengthAdjust="spacingAndGlyphs">21</text>
<text x="1628.76" y="1094.57" fill="#006464" stroke="#006464" font-size="12" text-anchor="end" textLength="19.6" lengthAdjust="spacingAndGlyphs">A13</text>
<text x="1577.41" y="763.28" fill="#006464" stroke="#006464" font-size="12" text-anchor="middle" textLength="13.6" lengthAdjust="spacingAndGlyphs">U5</text>
<text x="1577.41" y="778.33" fill="#006464" stroke="#006464" font-size="12" text-anchor="middle" textLength="61" lengthAdjust="spacingAndGlyphs">6809E_CPU</text>
<line x1="1505.88" y1="803.41" x2="1423.06" y2="803.41" stroke="#009000" stroke-width="1.7"/>
<path d="M1423.06 803.41L1423.06 810.94M1415.53 810.94L1430.59 810.94L1423.06 818.47Z" fill="none" stroke="#840000" stroke-width="1.6" stroke-linejoin="miter"/>
<text x="1423.06" y="832.55" fill="#006464" stroke="#006464" font-size="12" text-anchor="middle" textLength="20.4" lengthAdjust="spacingAndGlyphs">GND</text>
<polygon points="1505.88,818.47 1498.63,811.22 1447.93,811.22 1447.93,825.72 1498.63,825.72" fill="none" stroke="#840000" stroke-width="1.5"/>
<text x="1495.13" y="823.51" fill="#840000" stroke="#840000" font-size="12" text-anchor="end" textLength="42.2" lengthAdjust="spacingAndGlyphs">AIM_NMI</text>
<line x1="1452.93" y1="813.06" x2="1495.13" y2="813.06" stroke="#840000" stroke-width="1.2"/>
<polygon points="1505.88,833.53 1498.63,826.28 1472.93,826.28 1472.93,840.78 1498.63,840.78" fill="none" stroke="#840000" stroke-width="1.5"/>
<text x="1495.13" y="838.57" fill="#840000" stroke="#840000" font-size="12" text-anchor="end" textLength="17.2" lengthAdjust="spacingAndGlyphs">IRQ</text>
<line x1="1477.93" y1="828.12" x2="1495.13" y2="828.12" stroke="#840000" stroke-width="1.2"/>
<polygon points="1505.88,848.59 1498.63,841.34 1466.13,841.34 1466.13,855.84 1498.63,855.84" fill="none" stroke="#840000" stroke-width="1.5"/>
<text x="1495.13" y="853.63" fill="#840000" stroke="#840000" font-size="12" text-anchor="end" textLength="24" lengthAdjust="spacingAndGlyphs">FIRQ</text>
<line x1="1471.13" y1="843.18" x2="1495.13" y2="843.18" stroke="#840000" stroke-width="1.2"/>
<path d="M1501.74 859.51L1510.02 867.79M1501.74 867.79L1510.02 859.51" stroke="#000084" stroke-width="1.6"/>
<path d="M1501.74 874.56L1510.02 882.85M1501.74 882.85L1510.02 874.56" stroke="#000084" stroke-width="1.6"/>
<line x1="1505.88" y1="893.76" x2="1430.59" y2="893.76" stroke="#009000" stroke-width="1.7"/>
<path d="M1430.59 893.76L1430.59 878.71M1425.92 887.21L1430.59 878.71L1435.26 887.21" fill="none" stroke="#840000" stroke-width="1.6"/>
<text x="1430.59" y="876.22" fill="#006464" stroke="#006464" font-size="12" text-anchor="middle" textLength="20.4" lengthAdjust="spacingAndGlyphs">VCC</text>
<polygon points="1505.88,901.57 1483.78,901.57 1476.53,908.82 1483.78,916.07 1505.88,916.07" fill="none" stroke="#840000" stroke-width="1.5"/>
<text x="1500.88" y="913.86" fill="#840000" stroke="#840000" font-size="12" text-anchor="end" textLength="13.6" lengthAdjust="spacingAndGlyphs">A0</text>
<polygon points="1505.88,916.63 1484.58,916.63 1477.33,923.88 1484.58,931.13 1505.88,931.13" fill="none" stroke="#840000" stroke-width="1.5"/>
<text x="1500.88" y="928.92" fill="#840000" stroke="#840000" font-size="12" text-anchor="end" textLength="12.8" lengthAdjust="spacingAndGlyphs">A1</text>
<polygon points="1505.88,931.69 1483.78,931.69 1476.53,938.94 1483.78,946.19 1505.88,946.19" fill="none" stroke="#840000" stroke-width="1.5"/>
<text x="1500.88" y="943.98" fill="#840000" stroke="#840000" font-size="12" text-anchor="end" textLength="13.6" lengthAdjust="spacingAndGlyphs">A2</text>
<polygon points="1505.88,946.75 1483.78,946.75 1476.53,954 1483.78,961.25 1505.88,961.25" fill="none" stroke="#840000" stroke-width="1.5"/>
<text x="1500.88" y="959.04" fill="#840000" stroke="#840000" font-size="12" text-anchor="end" textLength="13.6" lengthAdjust="spacingAndGlyphs">A3</text>
<polygon points="1505.88,961.81 1483.78,961.81 1476.53,969.06 1483.78,976.31 1505.88,976.31" fill="none" stroke="#840000" stroke-width="1.5"/>
<text x="1500.88" y="974.1" fill="#840000" stroke="#840000" font-size="12" text-anchor="end" textLength="13.6" lengthAdjust="spacingAndGlyphs">A4</text>
<polygon points="1505.88,976.87 1483.78,976.87 1476.53,984.12 1483.78,991.37 1505.88,991.37" fill="none" stroke="#840000" stroke-width="1.5"/>
<text x="1500.88" y="989.16" fill="#840000" stroke="#840000" font-size="12" text-anchor="end" textLength="13.6" lengthAdjust="spacingAndGlyphs">A5</text>
<polygon points="1505.88,991.93 1483.78,991.93 1476.53,999.18 1483.78,1006.43 1505.88,1006.43" fill="none" stroke="#840000" stroke-width="1.5"/>
<text x="1500.88" y="1004.22" fill="#840000" stroke="#840000" font-size="12" text-anchor="end" textLength="13.6" lengthAdjust="spacingAndGlyphs">A6</text>
<polygon points="1505.88,1006.99 1483.78,1006.99 1476.53,1014.24 1483.78,1021.49 1505.88,1021.49" fill="none" stroke="#840000" stroke-width="1.5"/>
<text x="1500.88" y="1019.28" fill="#840000" stroke="#840000" font-size="12" text-anchor="end" textLength="13.6" lengthAdjust="spacingAndGlyphs">A7</text>
<polygon points="1505.88,1022.04 1483.78,1022.04 1476.53,1029.29 1483.78,1036.54 1505.88,1036.54" fill="none" stroke="#840000" stroke-width="1.5"/>
<text x="1500.88" y="1034.33" fill="#840000" stroke="#840000" font-size="12" text-anchor="end" textLength="13.6" lengthAdjust="spacingAndGlyphs">A8</text>
<polygon points="1505.88,1037.1 1483.78,1037.1 1476.53,1044.35 1483.78,1051.6 1505.88,1051.6" fill="none" stroke="#840000" stroke-width="1.5"/>
<text x="1500.88" y="1049.39" fill="#840000" stroke="#840000" font-size="12" text-anchor="end" textLength="13.6" lengthAdjust="spacingAndGlyphs">A9</text>
<polygon points="1505.88,1052.16 1477.78,1052.16 1470.53,1059.41 1477.78,1066.66 1505.88,1066.66" fill="none" stroke="#840000" stroke-width="1.5"/>
<text x="1500.88" y="1064.45" fill="#840000" stroke="#840000" font-size="12" text-anchor="end" textLength="19.6" lengthAdjust="spacingAndGlyphs">A10</text>
<polygon points="1505.88,1067.22 1478.58,1067.22 1471.33,1074.47 1478.58,1081.72 1505.88,1081.72" fill="none" stroke="#840000" stroke-width="1.5"/>
<text x="1500.88" y="1079.51" fill="#840000" stroke="#840000" font-size="12" text-anchor="end" textLength="18.8" lengthAdjust="spacingAndGlyphs">A11</text>
<polygon points="1505.88,1082.28 1477.78,1082.28 1470.53,1089.53 1477.78,1096.78 1505.88,1096.78" fill="none" stroke="#840000" stroke-width="1.5"/>
<text x="1500.88" y="1094.57" fill="#840000" stroke="#840000" font-size="12" text-anchor="end" textLength="19.6" lengthAdjust="spacingAndGlyphs">A12</text>
<line x1="1648.94" y1="803.41" x2="1656.47" y2="803.41" stroke="#009000" stroke-width="1.7"/>
<path d="M1656.47 803.41L1656.47 788.35M1651.8 796.86L1656.47 788.35L1661.14 796.86" fill="none" stroke="#840000" stroke-width="1.6"/>
<text x="1656.47" y="785.11" fill="#006464" stroke="#006464" font-size="12" text-anchor="middle" textLength="20.4" lengthAdjust="spacingAndGlyphs">VCC</text>
<line x1="1648.94" y1="818.47" x2="1739.29" y2="818.47" stroke="#009000" stroke-width="1.7"/>
<path d="M1739.29 818.47L1739.29 826M1731.76 826L1746.82 826L1739.29 833.53Z" fill="none" stroke="#840000" stroke-width="1.6" stroke-linejoin="miter"/>
<text x="1739.29" y="848.36" fill="#006464" stroke="#006464" font-size="12" text-anchor="middle" textLength="20.4" lengthAdjust="spacingAndGlyphs">GND</text>
<polygon points="1648.94,826.28 1674.04,826.28 1681.29,833.53 1674.04,840.78 1648.94,840.78" fill="none" stroke="#840000" stroke-width="1.5"/>
<text x="1653.94" y="838.57" fill="#840000" stroke="#840000" font-size="12" text-anchor="start" textLength="16.6" lengthAdjust="spacingAndGlyphs">LIC</text>
<polygon points="1648.94,848.59 1656.19,841.34 1723.09,841.34 1723.09,855.84 1656.19,855.84" fill="none" stroke="#840000" stroke-width="1.5"/>
<text x="1659.69" y="853.63" fill="#840000" stroke="#840000" font-size="12" text-anchor="start" textLength="58.4" lengthAdjust="spacingAndGlyphs">AIM_RESET</text>
<line x1="1659.69" y1="843.18" x2="1718.09" y2="843.18" stroke="#840000" stroke-width="1.2"/>
<polygon points="1648.94,856.4 1685.24,856.4 1692.49,863.65 1685.24,870.9 1648.94,870.9" fill="none" stroke="#840000" stroke-width="1.5"/>
<text x="1653.94" y="868.69" fill="#840000" stroke="#840000" font-size="12" text-anchor="start" textLength="27.8" lengthAdjust="spacingAndGlyphs">AVMA</text>
<polygon points="1648.94,878.71 1656.19,871.46 1671.49,871.46 1671.49,885.96 1656.19,885.96" fill="none" stroke="#840000" stroke-width="1.5"/>
<text x="1659.69" y="883.75" fill="#840000" stroke="#840000" font-size="12" text-anchor="start" textLength="6.8" lengthAdjust="spacingAndGlyphs">Q</text>
<polygon points="1648.94,893.76 1656.19,886.51 1671.49,886.51 1671.49,901.01 1656.19,901.01" fill="none" stroke="#840000" stroke-width="1.5"/>
<text x="1659.69" y="898.8" fill="#840000" stroke="#840000" font-size="12" text-anchor="start" textLength="6.8" lengthAdjust="spacingAndGlyphs">E</text>
<path d="M1644.8 904.68L1653.08 912.96M1644.8 912.96L1653.08 904.68" stroke="#000084" stroke-width="1.6"/>
<polygon points="1648.94,916.63 1676.84,916.63 1684.09,923.88 1676.84,931.13 1648.94,931.13" fill="none" stroke="#840000" stroke-width="1.5"/>
<text x="1653.94" y="928.92" fill="#840000" stroke="#840000" font-size="12" text-anchor="start" textLength="19.4" lengthAdjust="spacingAndGlyphs">R/W</text>
<polygon points="1648.94,938.94 1656.19,931.69 1676.79,931.69 1684.04,938.94 1676.79,946.19 1656.19,946.19" fill="none" stroke="#840000" stroke-width="1.5"/>
<text x="1659.69" y="943.98" fill="#840000" stroke="#840000" font-size="12" text-anchor="start" textLength="13.6" lengthAdjust="spacingAndGlyphs">D0</text>
<polygon points="1648.94,954 1656.19,946.75 1675.99,946.75 1683.24,954 1675.99,961.25 1656.19,961.25" fill="none" stroke="#840000" stroke-width="1.5"/>
<text x="1659.69" y="959.04" fill="#840000" stroke="#840000" font-size="12" text-anchor="start" textLength="12.8" lengthAdjust="spacingAndGlyphs">D1</text>
<polygon points="1648.94,969.06 1656.19,961.81 1676.79,961.81 1684.04,969.06 1676.79,976.31 1656.19,976.31" fill="none" stroke="#840000" stroke-width="1.5"/>
<text x="1659.69" y="974.1" fill="#840000" stroke="#840000" font-size="12" text-anchor="start" textLength="13.6" lengthAdjust="spacingAndGlyphs">D2</text>
<polygon points="1648.94,984.12 1656.19,976.87 1676.79,976.87 1684.04,984.12 1676.79,991.37 1656.19,991.37" fill="none" stroke="#840000" stroke-width="1.5"/>
<text x="1659.69" y="989.16" fill="#840000" stroke="#840000" font-size="12" text-anchor="start" textLength="13.6" lengthAdjust="spacingAndGlyphs">D3</text>
<polygon points="1648.94,999.18 1656.19,991.93 1676.79,991.93 1684.04,999.18 1676.79,1006.43 1656.19,1006.43" fill="none" stroke="#840000" stroke-width="1.5"/>
<text x="1659.69" y="1004.22" fill="#840000" stroke="#840000" font-size="12" text-anchor="start" textLength="13.6" lengthAdjust="spacingAndGlyphs">D4</text>
<polygon points="1648.94,1014.24 1656.19,1006.99 1676.79,1006.99 1684.04,1014.24 1676.79,1021.49 1656.19,1021.49" fill="none" stroke="#840000" stroke-width="1.5"/>
<text x="1659.69" y="1019.28" fill="#840000" stroke="#840000" font-size="12" text-anchor="start" textLength="13.6" lengthAdjust="spacingAndGlyphs">D5</text>
<polygon points="1648.94,1029.29 1656.19,1022.04 1676.79,1022.04 1684.04,1029.29 1676.79,1036.54 1656.19,1036.54" fill="none" stroke="#840000" stroke-width="1.5"/>
<text x="1659.69" y="1034.33" fill="#840000" stroke="#840000" font-size="12" text-anchor="start" textLength="13.6" lengthAdjust="spacingAndGlyphs">D6</text>
<polygon points="1648.94,1044.35 1656.19,1037.1 1676.79,1037.1 1684.04,1044.35 1676.79,1051.6 1656.19,1051.6" fill="none" stroke="#840000" stroke-width="1.5"/>
<text x="1659.69" y="1049.39" fill="#840000" stroke="#840000" font-size="12" text-anchor="start" textLength="13.6" lengthAdjust="spacingAndGlyphs">D7</text>
<polygon points="1648.94,1052.16 1677.04,1052.16 1684.29,1059.41 1677.04,1066.66 1648.94,1066.66" fill="none" stroke="#840000" stroke-width="1.5"/>
<text x="1653.94" y="1064.45" fill="#840000" stroke="#840000" font-size="12" text-anchor="start" textLength="19.6" lengthAdjust="spacingAndGlyphs">A15</text>
<polygon points="1648.94,1067.22 1677.04,1067.22 1684.29,1074.47 1677.04,1081.72 1648.94,1081.72" fill="none" stroke="#840000" stroke-width="1.5"/>
<text x="1653.94" y="1079.51" fill="#840000" stroke="#840000" font-size="12" text-anchor="start" textLength="19.6" lengthAdjust="spacingAndGlyphs">A14</text>
<polygon points="1648.94,1082.28 1677.04,1082.28 1684.29,1089.53 1677.04,1096.78 1648.94,1096.78" fill="none" stroke="#840000" stroke-width="1.5"/>
<text x="1653.94" y="1094.57" fill="#840000" stroke="#840000" font-size="12" text-anchor="start" textLength="19.6" lengthAdjust="spacingAndGlyphs">A13</text>
<circle cx="1350.78" cy="622.71" r="3.16" fill="none" stroke="#840000" stroke-width="1.6"/>
<circle cx="1370.35" cy="622.71" r="3.16" fill="none" stroke="#840000" stroke-width="1.6"/>
<circle cx="1389.93" cy="622.71" r="3.16" fill="none" stroke="#840000" stroke-width="1.6"/>
<line x1="1332.71" y1="622.71" x2="1347.61" y2="622.71" stroke="#840000" stroke-width="1.5"/>
<line x1="1393.09" y1="622.71" x2="1408" y2="622.71" stroke="#840000" stroke-width="1.5"/>
<line x1="1370.35" y1="625.87" x2="1370.35" y2="652.82" stroke="#840000" stroke-width="1.5"/>
<text x="1338.73" y="621.36" fill="#A90000" stroke="#A90000" font-size="11.8" text-anchor="middle" textLength="5.9" lengthAdjust="spacingAndGlyphs">1</text>
<text x="1401.98" y="621.36" fill="#A90000" stroke="#A90000" font-size="11.8" text-anchor="middle" textLength="6.69" lengthAdjust="spacingAndGlyphs">3</text>
<text x="1364.35" y="645.73" fill="#A90000" stroke="#A90000" font-size="11.8" text-anchor="middle" textLength="6.69" lengthAdjust="spacingAndGlyphs" transform="rotate(-90 1364.35 640.78)">2</text>
<path d="M1351.53 616.83Q1359.81 610.21 1368.09 616.83" fill="none" stroke="#840000" stroke-width="1.4"/>
<path d="M1372.61 616.83Q1380.89 610.21 1389.18 616.83" fill="none" stroke="#840000" stroke-width="1.4"/>
<text x="1371.86" y="607.04" fill="#006464" stroke="#006464" font-size="12" text-anchor="middle" textLength="19.6" lengthAdjust="spacingAndGlyphs">JP1</text>
<polygon points="1332.71,622.71 1325.46,615.46 1278.96,615.46 1278.96,629.96 1325.46,629.96" fill="none" stroke="#840000" stroke-width="1.5"/>
<text x="1321.96" y="627.75" fill="#840000" stroke="#840000" font-size="12" text-anchor="end" textLength="38" lengthAdjust="spacingAndGlyphs">AIM_SO</text>
<line x1="1283.96" y1="617.3" x2="1321.96" y2="617.3" stroke="#840000" stroke-width="1.2"/>
<polygon points="1408,622.71 1415.25,615.46 1465.35,615.46 1465.35,629.96 1415.25,629.96" fill="none" stroke="#840000" stroke-width="1.5"/>
<text x="1418.75" y="627.75" fill="#840000" stroke="#840000" font-size="12" text-anchor="start" textLength="41.6" lengthAdjust="spacingAndGlyphs">AIM_IRQ</text>
<line x1="1418.75" y1="617.3" x2="1460.35" y2="617.3" stroke="#840000" stroke-width="1.2"/>
<line x1="1325.18" y1="660.35" x2="1332.71" y2="660.35" stroke="#840000" stroke-width="1.5"/>
<line x1="1362.82" y1="660.35" x2="1370.35" y2="660.35" stroke="#840000" stroke-width="1.5"/>
<rect x="1332.71" y="654.33" width="30.12" height="12.05" fill="none" stroke="#840000" stroke-width="2.0"/>
<text x="1347.76" y="665.39" fill="#006464" stroke="#006464" font-size="12" text-anchor="middle" textLength="19.6" lengthAdjust="spacingAndGlyphs">10K</text>
<text x="1347.76" y="653.35" fill="#006464" stroke="#006464" font-size="12" text-anchor="middle" textLength="13.6" lengthAdjust="spacingAndGlyphs">R4</text>
<path d="M1325.18 660.35L1325.18 645.29M1320.51 653.8L1325.18 645.29L1329.84 653.8" fill="none" stroke="#840000" stroke-width="1.6"/>
<text x="1325.18" y="644.31" fill="#006464" stroke="#006464" font-size="12" text-anchor="middle" textLength="20.4" lengthAdjust="spacingAndGlyphs">VCC</text>
<line x1="1370.35" y1="652.82" x2="1370.35" y2="660.35" stroke="#009000" stroke-width="1.7"/>
<circle cx="1370.35" cy="660.35" r="3.4" fill="#009000"/>
<line x1="1370.35" y1="660.35" x2="1385.41" y2="660.35" stroke="#009000" stroke-width="1.7"/>
<polygon points="1385.41,653.1 1411.11,653.1 1418.36,660.35 1411.11,667.6 1385.41,667.6" fill="none" stroke="#840000" stroke-width="1.5"/>
<text x="1390.41" y="665.39" fill="#840000" stroke="#840000" font-size="12" text-anchor="start" textLength="17.2" lengthAdjust="spacingAndGlyphs">IRQ</text>
<line x1="1390.41" y1="654.94" x2="1407.61" y2="654.94" stroke="#840000" stroke-width="1.2"/>
<circle cx="1561.6" cy="622.71" r="3.16" fill="none" stroke="#840000" stroke-width="1.6"/>
<circle cx="1581.18" cy="622.71" r="3.16" fill="none" stroke="#840000" stroke-width="1.6"/>
<circle cx="1600.75" cy="622.71" r="3.16" fill="none" stroke="#840000" stroke-width="1.6"/>
<line x1="1543.53" y1="622.71" x2="1558.44" y2="622.71" stroke="#840000" stroke-width="1.5"/>
<line x1="1603.92" y1="622.71" x2="1618.82" y2="622.71" stroke="#840000" stroke-width="1.5"/>
<line x1="1581.18" y1="625.87" x2="1581.18" y2="652.82" stroke="#840000" stroke-width="1.5"/>
<text x="1549.55" y="621.36" fill="#A90000" stroke="#A90000" font-size="11.8" text-anchor="middle" textLength="5.9" lengthAdjust="spacingAndGlyphs">1</text>
<text x="1612.8" y="621.36" fill="#A90000" stroke="#A90000" font-size="11.8" text-anchor="middle" textLength="6.69" lengthAdjust="spacingAndGlyphs">3</text>
<text x="1575.18" y="645.73" fill="#A90000" stroke="#A90000" font-size="11.8" text-anchor="middle" textLength="6.69" lengthAdjust="spacingAndGlyphs" transform="rotate(-90 1575.18 640.78)">2</text>
<path d="M1562.35 616.83Q1570.64 610.21 1578.92 616.83" fill="none" stroke="#840000" stroke-width="1.4"/>
<path d="M1583.44 616.83Q1591.72 610.21 1600 616.83" fill="none" stroke="#840000" stroke-width="1.4"/>
<text x="1581.93" y="606.66" fill="#006464" stroke="#006464" font-size="12" text-anchor="middle" textLength="20.4" lengthAdjust="spacingAndGlyphs">JP2</text>
<polygon points="1543.53,622.71 1536.28,615.46 1489.78,615.46 1489.78,629.96 1536.28,629.96" fill="none" stroke="#840000" stroke-width="1.5"/>
<text x="1532.78" y="627.75" fill="#840000" stroke="#840000" font-size="12" text-anchor="end" textLength="38" lengthAdjust="spacingAndGlyphs">AIM_SO</text>
<line x1="1494.78" y1="617.3" x2="1532.78" y2="617.3" stroke="#840000" stroke-width="1.2"/>
<polygon points="1618.82,622.71 1626.07,615.46 1676.17,615.46 1676.17,629.96 1626.07,629.96" fill="none" stroke="#840000" stroke-width="1.5"/>
<text x="1629.57" y="627.75" fill="#840000" stroke="#840000" font-size="12" text-anchor="start" textLength="41.6" lengthAdjust="spacingAndGlyphs">AIM_IRQ</text>
<line x1="1629.57" y1="617.3" x2="1671.17" y2="617.3" stroke="#840000" stroke-width="1.2"/>
<line x1="1520.94" y1="660.35" x2="1528.47" y2="660.35" stroke="#840000" stroke-width="1.5"/>
<line x1="1558.59" y1="660.35" x2="1566.12" y2="660.35" stroke="#840000" stroke-width="1.5"/>
<rect x="1528.47" y="654.33" width="30.12" height="12.05" fill="none" stroke="#840000" stroke-width="2.0"/>
<text x="1543.53" y="665.39" fill="#006464" stroke="#006464" font-size="12" text-anchor="middle" textLength="19.6" lengthAdjust="spacingAndGlyphs">10K</text>
<text x="1543.53" y="653.35" fill="#006464" stroke="#006464" font-size="12" text-anchor="middle" textLength="13.6" lengthAdjust="spacingAndGlyphs">R5</text>
<path d="M1520.94 660.35L1520.94 645.29M1516.27 653.8L1520.94 645.29L1525.61 653.8" fill="none" stroke="#840000" stroke-width="1.6"/>
<text x="1520.94" y="644.31" fill="#006464" stroke="#006464" font-size="12" text-anchor="middle" textLength="20.4" lengthAdjust="spacingAndGlyphs">VCC</text>
<line x1="1566.12" y1="660.35" x2="1596.24" y2="660.35" stroke="#009000" stroke-width="1.7"/>
<line x1="1581.18" y1="652.82" x2="1581.18" y2="660.35" stroke="#009000" stroke-width="1.7"/>
<circle cx="1581.18" cy="660.35" r="3.4" fill="#009000"/>
<polygon points="1596.24,653.1 1628.74,653.1 1635.99,660.35 1628.74,667.6 1596.24,667.6" fill="none" stroke="#840000" stroke-width="1.5"/>
<text x="1601.24" y="665.39" fill="#840000" stroke="#840000" font-size="12" text-anchor="start" textLength="24" lengthAdjust="spacingAndGlyphs">FIRQ</text>
<line x1="1601.24" y1="654.94" x2="1625.24" y2="654.94" stroke="#840000" stroke-width="1.2"/>
<rect x="1837.18" y="607.65" width="90.35" height="180.71" fill="#FFFFC2" stroke="#840000" stroke-width="2.0"/>
<line x1="1837.18" y1="622.71" x2="1807.06" y2="622.71" stroke="#840000" stroke-width="1.5"/>
<text x="1822.12" y="621.86" fill="#A90000" stroke="#A90000" font-size="11.8" text-anchor="middle" textLength="6.69" lengthAdjust="spacingAndGlyphs">2</text>
<text x="1842.3" y="627.75" fill="#006464" stroke="#006464" font-size="12" text-anchor="start" textLength="17.2" lengthAdjust="spacingAndGlyphs">I0a</text>
<line x1="1837.18" y1="637.76" x2="1807.06" y2="637.76" stroke="#840000" stroke-width="1.5"/>
<text x="1822.12" y="636.92" fill="#A90000" stroke="#A90000" font-size="11.8" text-anchor="middle" textLength="6.69" lengthAdjust="spacingAndGlyphs">4</text>
<text x="1842.3" y="642.8" fill="#006464" stroke="#006464" font-size="12" text-anchor="start" textLength="16.4" lengthAdjust="spacingAndGlyphs">I1a</text>
<line x1="1837.18" y1="652.82" x2="1807.06" y2="652.82" stroke="#840000" stroke-width="1.5"/>
<text x="1822.12" y="651.98" fill="#A90000" stroke="#A90000" font-size="11.8" text-anchor="middle" textLength="6.69" lengthAdjust="spacingAndGlyphs">6</text>
<text x="1842.3" y="657.86" fill="#006464" stroke="#006464" font-size="12" text-anchor="start" textLength="17.2" lengthAdjust="spacingAndGlyphs">I2a</text>
<line x1="1837.18" y1="667.88" x2="1807.06" y2="667.88" stroke="#840000" stroke-width="1.5"/>
<text x="1822.12" y="667.04" fill="#A90000" stroke="#A90000" font-size="11.8" text-anchor="middle" textLength="6.69" lengthAdjust="spacingAndGlyphs">8</text>
<text x="1842.3" y="672.92" fill="#006464" stroke="#006464" font-size="12" text-anchor="start" textLength="17.2" lengthAdjust="spacingAndGlyphs">I3a</text>
<line x1="1837.18" y1="682.94" x2="1807.06" y2="682.94" stroke="#840000" stroke-width="1.5"/>
<text x="1822.12" y="682.1" fill="#A90000" stroke="#A90000" font-size="11.8" text-anchor="middle" textLength="11.8" lengthAdjust="spacingAndGlyphs">11</text>
<text x="1842.3" y="687.98" fill="#006464" stroke="#006464" font-size="12" text-anchor="start" textLength="17.2" lengthAdjust="spacingAndGlyphs">I0b</text>
<line x1="1837.18" y1="698" x2="1807.06" y2="698" stroke="#840000" stroke-width="1.5"/>
<text x="1822.12" y="697.16" fill="#A90000" stroke="#A90000" font-size="11.8" text-anchor="middle" textLength="12.59" lengthAdjust="spacingAndGlyphs">13</text>
<text x="1842.3" y="703.04" fill="#006464" stroke="#006464" font-size="12" text-anchor="start" textLength="16.4" lengthAdjust="spacingAndGlyphs">I1b</text>
<line x1="1837.18" y1="713.06" x2="1807.06" y2="713.06" stroke="#840000" stroke-width="1.5"/>
<text x="1822.12" y="712.21" fill="#A90000" stroke="#A90000" font-size="11.8" text-anchor="middle" textLength="12.59" lengthAdjust="spacingAndGlyphs">15</text>
<text x="1842.3" y="718.1" fill="#006464" stroke="#006464" font-size="12" text-anchor="start" textLength="17.2" lengthAdjust="spacingAndGlyphs">I2b</text>
<line x1="1837.18" y1="728.12" x2="1807.06" y2="728.12" stroke="#840000" stroke-width="1.5"/>
<text x="1822.12" y="727.27" fill="#A90000" stroke="#A90000" font-size="11.8" text-anchor="middle" textLength="12.59" lengthAdjust="spacingAndGlyphs">17</text>
<text x="1842.3" y="733.16" fill="#006464" stroke="#006464" font-size="12" text-anchor="start" textLength="17.2" lengthAdjust="spacingAndGlyphs">I3b</text>
<circle cx="1833.41" cy="758.24" r="3.76" fill="none" stroke="#840000" stroke-width="1.6"/>
<line x1="1829.65" y1="758.24" x2="1807.06" y2="758.24" stroke="#840000" stroke-width="1.5"/>
<text x="1822.12" y="757.39" fill="#A90000" stroke="#A90000" font-size="11.8" text-anchor="middle" textLength="5.9" lengthAdjust="spacingAndGlyphs">1</text>
<text x="1842.3" y="763.28" fill="#006464" stroke="#006464" font-size="12" text-anchor="start" textLength="20.4" lengthAdjust="spacingAndGlyphs">OEa</text>
<line x1="1837.18" y1="773.29" x2="1807.06" y2="773.29" stroke="#840000" stroke-width="1.5"/>
<text x="1822.12" y="772.45" fill="#A90000" stroke="#A90000" font-size="11.8" text-anchor="middle" textLength="12.59" lengthAdjust="spacingAndGlyphs">19</text>
<text x="1842.3" y="778.33" fill="#006464" stroke="#006464" font-size="12" text-anchor="start" textLength="20.4" lengthAdjust="spacingAndGlyphs">OEb</text>
<line x1="1927.53" y1="622.71" x2="1957.65" y2="622.71" stroke="#840000" stroke-width="1.5"/>
<text x="1942.59" y="621.86" fill="#A90000" stroke="#A90000" font-size="11.8" text-anchor="middle" textLength="12.59" lengthAdjust="spacingAndGlyphs">18</text>
<text x="1922.41" y="627.75" fill="#006464" stroke="#006464" font-size="12" text-anchor="end" textLength="20.4" lengthAdjust="spacingAndGlyphs">O0a</text>
<line x1="1927.53" y1="637.76" x2="1957.65" y2="637.76" stroke="#840000" stroke-width="1.5"/>
<text x="1942.59" y="636.92" fill="#A90000" stroke="#A90000" font-size="11.8" text-anchor="middle" textLength="12.59" lengthAdjust="spacingAndGlyphs">16</text>
<text x="1922.41" y="642.8" fill="#006464" stroke="#006464" font-size="12" text-anchor="end" textLength="19.6" lengthAdjust="spacingAndGlyphs">O1a</text>
<line x1="1927.53" y1="652.82" x2="1957.65" y2="652.82" stroke="#840000" stroke-width="1.5"/>
<text x="1942.59" y="651.98" fill="#A90000" stroke="#A90000" font-size="11.8" text-anchor="middle" textLength="12.59" lengthAdjust="spacingAndGlyphs">14</text>
<text x="1922.41" y="657.86" fill="#006464" stroke="#006464" font-size="12" text-anchor="end" textLength="20.4" lengthAdjust="spacingAndGlyphs">O2a</text>
<line x1="1927.53" y1="667.88" x2="1957.65" y2="667.88" stroke="#840000" stroke-width="1.5"/>
<text x="1942.59" y="667.04" fill="#A90000" stroke="#A90000" font-size="11.8" text-anchor="middle" textLength="12.59" lengthAdjust="spacingAndGlyphs">12</text>
<text x="1922.41" y="672.92" fill="#006464" stroke="#006464" font-size="12" text-anchor="end" textLength="20.4" lengthAdjust="spacingAndGlyphs">O3a</text>
<line x1="1927.53" y1="682.94" x2="1957.65" y2="682.94" stroke="#840000" stroke-width="1.5"/>
<text x="1942.59" y="682.1" fill="#A90000" stroke="#A90000" font-size="11.8" text-anchor="middle" textLength="6.69" lengthAdjust="spacingAndGlyphs">9</text>
<text x="1922.41" y="687.98" fill="#006464" stroke="#006464" font-size="12" text-anchor="end" textLength="20.4" lengthAdjust="spacingAndGlyphs">O0b</text>
<line x1="1927.53" y1="698" x2="1957.65" y2="698" stroke="#840000" stroke-width="1.5"/>
<text x="1942.59" y="697.16" fill="#A90000" stroke="#A90000" font-size="11.8" text-anchor="middle" textLength="6.69" lengthAdjust="spacingAndGlyphs">7</text>
<text x="1922.41" y="703.04" fill="#006464" stroke="#006464" font-size="12" text-anchor="end" textLength="19.6" lengthAdjust="spacingAndGlyphs">O1b</text>
<line x1="1927.53" y1="713.06" x2="1957.65" y2="713.06" stroke="#840000" stroke-width="1.5"/>
<text x="1942.59" y="712.21" fill="#A90000" stroke="#A90000" font-size="11.8" text-anchor="middle" textLength="6.69" lengthAdjust="spacingAndGlyphs">5</text>
<text x="1922.41" y="718.1" fill="#006464" stroke="#006464" font-size="12" text-anchor="end" textLength="20.4" lengthAdjust="spacingAndGlyphs">O2b</text>
<line x1="1927.53" y1="728.12" x2="1957.65" y2="728.12" stroke="#840000" stroke-width="1.5"/>
<text x="1942.59" y="727.27" fill="#A90000" stroke="#A90000" font-size="11.8" text-anchor="middle" textLength="6.69" lengthAdjust="spacingAndGlyphs">3</text>
<text x="1922.41" y="733.16" fill="#006464" stroke="#006464" font-size="12" text-anchor="end" textLength="20.4" lengthAdjust="spacingAndGlyphs">O3b</text>
<line x1="1882.35" y1="607.65" x2="1882.35" y2="577.53" stroke="#840000" stroke-width="1.5"/>
<text x="1876.55" y="597.54" fill="#A90000" stroke="#A90000" font-size="11.8" text-anchor="middle" textLength="13.37" lengthAdjust="spacingAndGlyphs" transform="rotate(-90 1876.55 592.59)">20</text>
<text x="1882.35" y="617.81" fill="#006464" stroke="#006464" font-size="12" text-anchor="end" textLength="20.4" lengthAdjust="spacingAndGlyphs" transform="rotate(-90 1882.35 612.77)">VCC</text>
<line x1="1882.35" y1="788.35" x2="1882.35" y2="818.47" stroke="#840000" stroke-width="1.5"/>
<text x="1876.55" y="808.37" fill="#A90000" stroke="#A90000" font-size="11.8" text-anchor="middle" textLength="12.59" lengthAdjust="spacingAndGlyphs" transform="rotate(-90 1876.55 803.41)">10</text>
<text x="1882.35" y="788.27" fill="#006464" stroke="#006464" font-size="12" text-anchor="start" textLength="20.4" lengthAdjust="spacingAndGlyphs" transform="rotate(-90 1882.35 783.23)">GND</text>
<polyline points="1874.82,705.53 1886.87,705.53 1886.87,690.47" fill="none" stroke="#840000" stroke-width="1.3" stroke-linejoin="round"/>
<polyline points="1879.34,705.53 1879.34,690.47 1890.64,690.47" fill="none" stroke="#840000" stroke-width="1.3" stroke-linejoin="round"/>
<path d="M1882.35 577.53L1882.35 562.47M1877.68 570.98L1882.35 562.47L1887.02 570.98" fill="none" stroke="#840000" stroke-width="1.6"/>
<text x="1882.35" y="559.98" fill="#006464" stroke="#006464" font-size="12" text-anchor="middle" textLength="20.4" lengthAdjust="spacingAndGlyphs">VCC</text>
<path d="M1882.35 818.47L1882.35 826M1874.82 826L1889.88 826L1882.35 833.53Z" fill="none" stroke="#840000" stroke-width="1.6" stroke-linejoin="miter"/>
<text x="1882.35" y="853.63" fill="#006464" stroke="#006464" font-size="12" text-anchor="middle" textLength="20.4" lengthAdjust="spacingAndGlyphs">GND</text>
<circle cx="1882.35" cy="818.47" r="3.4" fill="#009000"/>
<polyline points="1807.06,758.24 1807.06,818.47 1882.35,818.47" fill="none" stroke="#009000" stroke-width="1.7"/>
<circle cx="1807.06" cy="773.29" r="3.4" fill="#009000"/>
<polygon points="1807.06,622.71 1799.81,615.46 1716.51,615.46 1716.51,629.96 1799.81,629.96" fill="none" stroke="#840000" stroke-width="1.5"/>
<text x="1796.31" y="627.75" fill="#840000" stroke="#840000" font-size="12" text-anchor="end" textLength="74.8" lengthAdjust="spacingAndGlyphs">MODIFIED_A14</text>
<polygon points="1807.06,637.76 1799.81,630.51 1716.51,630.51 1716.51,645.01 1799.81,645.01" fill="none" stroke="#840000" stroke-width="1.5"/>
<text x="1796.31" y="642.8" fill="#840000" stroke="#840000" font-size="12" text-anchor="end" textLength="74.8" lengthAdjust="spacingAndGlyphs">MODIFIED_A15</text>
<polygon points="1807.06,652.82 1799.81,645.57 1716.51,645.57 1716.51,660.07 1799.81,660.07" fill="none" stroke="#840000" stroke-width="1.5"/>
<text x="1796.31" y="657.86" fill="#840000" stroke="#840000" font-size="12" text-anchor="end" textLength="74.8" lengthAdjust="spacingAndGlyphs">MODIFIED_A13</text>
<polygon points="1807.06,667.88 1799.81,660.63 1716.51,660.63 1716.51,675.13 1799.81,675.13" fill="none" stroke="#840000" stroke-width="1.5"/>
<text x="1796.31" y="672.92" fill="#840000" stroke="#840000" font-size="12" text-anchor="end" textLength="74.8" lengthAdjust="spacingAndGlyphs">MODIFIED_A12</text>
<polygon points="1957.65,615.46 2010.15,615.46 2017.4,622.71 2010.15,629.96 1957.65,629.96" fill="none" stroke="#840000" stroke-width="1.5"/>
<text x="1962.65" y="627.75" fill="#840000" stroke="#840000" font-size="12" text-anchor="start" textLength="44" lengthAdjust="spacingAndGlyphs">AIM_A14</text>
<polygon points="1957.65,630.51 2010.15,630.51 2017.4,637.76 2010.15,645.01 1957.65,645.01" fill="none" stroke="#840000" stroke-width="1.5"/>
<text x="1962.65" y="642.8" fill="#840000" stroke="#840000" font-size="12" text-anchor="start" textLength="44" lengthAdjust="spacingAndGlyphs">AIM_A15</text>
<polygon points="1957.65,645.57 2010.15,645.57 2017.4,652.82 2010.15,660.07 1957.65,660.07" fill="none" stroke="#840000" stroke-width="1.5"/>
<text x="1962.65" y="657.86" fill="#840000" stroke="#840000" font-size="12" text-anchor="start" textLength="44" lengthAdjust="spacingAndGlyphs">AIM_A13</text>
<polygon points="1957.65,660.63 2010.15,660.63 2017.4,667.88 2010.15,675.13 1957.65,675.13" fill="none" stroke="#840000" stroke-width="1.5"/>
<text x="1962.65" y="672.92" fill="#840000" stroke="#840000" font-size="12" text-anchor="start" textLength="44" lengthAdjust="spacingAndGlyphs">AIM_A12</text>
<path d="M1802.92 678.8L1811.2 687.08M1802.92 687.08L1811.2 678.8" stroke="#000084" stroke-width="1.6"/>
<path d="M1953.51 678.8L1961.79 687.08M1953.51 687.08L1961.79 678.8" stroke="#000084" stroke-width="1.6"/>
<path d="M1802.92 693.86L1811.2 702.14M1802.92 702.14L1811.2 693.86" stroke="#000084" stroke-width="1.6"/>
<path d="M1953.51 693.86L1961.79 702.14M1953.51 702.14L1961.79 693.86" stroke="#000084" stroke-width="1.6"/>
<path d="M1802.92 708.92L1811.2 717.2M1802.92 717.2L1811.2 708.92" stroke="#000084" stroke-width="1.6"/>
<path d="M1953.51 708.92L1961.79 717.2M1953.51 717.2L1961.79 708.92" stroke="#000084" stroke-width="1.6"/>
<path d="M1802.92 723.98L1811.2 732.26M1802.92 732.26L1811.2 723.98" stroke="#000084" stroke-width="1.6"/>
<path d="M1953.51 723.98L1961.79 732.26M1953.51 732.26L1961.79 723.98" stroke="#000084" stroke-width="1.6"/>
<text x="1896.66" y="582.57" fill="#006464" stroke="#006464" font-size="12" text-anchor="start" textLength="19.6" lengthAdjust="spacingAndGlyphs">U12</text>
<text x="1896.66" y="598.08" fill="#006464" stroke="#006464" font-size="12" text-anchor="start" textLength="46.2" lengthAdjust="spacingAndGlyphs">74LS241</text>
<rect x="1837.18" y="984.12" width="90.35" height="225.88" fill="#FFFFC2" stroke="#840000" stroke-width="2.0"/>
<line x1="1837.18" y1="999.18" x2="1807.06" y2="999.18" stroke="#840000" stroke-width="1.5"/>
<text x="1822.12" y="998.33" fill="#A90000" stroke="#A90000" font-size="11.8" text-anchor="middle" textLength="6.69" lengthAdjust="spacingAndGlyphs">2</text>
<text x="1842.3" y="1004.22" fill="#006464" stroke="#006464" font-size="12" text-anchor="start" textLength="17.2" lengthAdjust="spacingAndGlyphs">I0a</text>
<line x1="1837.18" y1="1014.24" x2="1807.06" y2="1014.24" stroke="#840000" stroke-width="1.5"/>
<text x="1822.12" y="1013.39" fill="#A90000" stroke="#A90000" font-size="11.8" text-anchor="middle" textLength="6.69" lengthAdjust="spacingAndGlyphs">3</text>
<text x="1842.3" y="1019.28" fill="#006464" stroke="#006464" font-size="12" text-anchor="start" textLength="16.4" lengthAdjust="spacingAndGlyphs">I1a</text>
<line x1="1837.18" y1="1044.35" x2="1807.06" y2="1044.35" stroke="#840000" stroke-width="1.5"/>
<text x="1822.12" y="1043.51" fill="#A90000" stroke="#A90000" font-size="11.8" text-anchor="middle" textLength="6.69" lengthAdjust="spacingAndGlyphs">5</text>
<text x="1842.3" y="1049.39" fill="#006464" stroke="#006464" font-size="12" text-anchor="start" textLength="17.2" lengthAdjust="spacingAndGlyphs">I0b</text>
<line x1="1837.18" y1="1059.41" x2="1807.06" y2="1059.41" stroke="#840000" stroke-width="1.5"/>
<text x="1822.12" y="1058.57" fill="#A90000" stroke="#A90000" font-size="11.8" text-anchor="middle" textLength="6.69" lengthAdjust="spacingAndGlyphs">6</text>
<text x="1842.3" y="1064.45" fill="#006464" stroke="#006464" font-size="12" text-anchor="start" textLength="16.4" lengthAdjust="spacingAndGlyphs">I1b</text>
<line x1="1837.18" y1="1089.53" x2="1807.06" y2="1089.53" stroke="#840000" stroke-width="1.5"/>
<text x="1822.12" y="1088.69" fill="#A90000" stroke="#A90000" font-size="11.8" text-anchor="middle" textLength="11.8" lengthAdjust="spacingAndGlyphs">11</text>
<text x="1842.3" y="1094.57" fill="#006464" stroke="#006464" font-size="12" text-anchor="start" textLength="17.2" lengthAdjust="spacingAndGlyphs">I0c</text>
<line x1="1837.18" y1="1104.59" x2="1807.06" y2="1104.59" stroke="#840000" stroke-width="1.5"/>
<text x="1822.12" y="1103.74" fill="#A90000" stroke="#A90000" font-size="11.8" text-anchor="middle" textLength="12.59" lengthAdjust="spacingAndGlyphs">10</text>
<text x="1842.3" y="1109.63" fill="#006464" stroke="#006464" font-size="12" text-anchor="start" textLength="16.4" lengthAdjust="spacingAndGlyphs">I1c</text>
<line x1="1837.18" y1="1134.71" x2="1807.06" y2="1134.71" stroke="#840000" stroke-width="1.5"/>
<text x="1822.12" y="1133.86" fill="#A90000" stroke="#A90000" font-size="11.8" text-anchor="middle" textLength="12.59" lengthAdjust="spacingAndGlyphs">14</text>
<text x="1842.3" y="1139.75" fill="#006464" stroke="#006464" font-size="12" text-anchor="start" textLength="17.2" lengthAdjust="spacingAndGlyphs">I0d</text>
<line x1="1837.18" y1="1149.76" x2="1807.06" y2="1149.76" stroke="#840000" stroke-width="1.5"/>
<text x="1822.12" y="1148.92" fill="#A90000" stroke="#A90000" font-size="11.8" text-anchor="middle" textLength="12.59" lengthAdjust="spacingAndGlyphs">13</text>
<text x="1842.3" y="1154.8" fill="#006464" stroke="#006464" font-size="12" text-anchor="start" textLength="16.4" lengthAdjust="spacingAndGlyphs">I1d</text>
<line x1="1837.18" y1="1179.88" x2="1807.06" y2="1179.88" stroke="#840000" stroke-width="1.5"/>
<text x="1822.12" y="1179.04" fill="#A90000" stroke="#A90000" font-size="11.8" text-anchor="middle" textLength="5.9" lengthAdjust="spacingAndGlyphs">1</text>
<text x="1842.3" y="1184.92" fill="#006464" stroke="#006464" font-size="12" text-anchor="start" textLength="6.8" lengthAdjust="spacingAndGlyphs">S</text>
<circle cx="1833.41" cy="1194.94" r="3.76" fill="none" stroke="#840000" stroke-width="1.6"/>
<line x1="1829.65" y1="1194.94" x2="1807.06" y2="1194.94" stroke="#840000" stroke-width="1.5"/>
<text x="1822.12" y="1194.1" fill="#A90000" stroke="#A90000" font-size="11.8" text-anchor="middle" textLength="12.59" lengthAdjust="spacingAndGlyphs">15</text>
<text x="1842.3" y="1199.98" fill="#006464" stroke="#006464" font-size="12" text-anchor="start" textLength="6.8" lengthAdjust="spacingAndGlyphs">E</text>
<line x1="1927.53" y1="999.18" x2="1957.65" y2="999.18" stroke="#840000" stroke-width="1.5"/>
<text x="1942.59" y="998.33" fill="#A90000" stroke="#A90000" font-size="11.8" text-anchor="middle" textLength="6.69" lengthAdjust="spacingAndGlyphs">4</text>
<text x="1922.41" y="1004.22" fill="#006464" stroke="#006464" font-size="12" text-anchor="end" textLength="13.6" lengthAdjust="spacingAndGlyphs">Za</text>
<line x1="1927.53" y1="1044.35" x2="1957.65" y2="1044.35" stroke="#840000" stroke-width="1.5"/>
<text x="1942.59" y="1043.51" fill="#A90000" stroke="#A90000" font-size="11.8" text-anchor="middle" textLength="6.69" lengthAdjust="spacingAndGlyphs">7</text>
<text x="1922.41" y="1049.39" fill="#006464" stroke="#006464" font-size="12" text-anchor="end" textLength="13.6" lengthAdjust="spacingAndGlyphs">Zb</text>
<line x1="1927.53" y1="1089.53" x2="1957.65" y2="1089.53" stroke="#840000" stroke-width="1.5"/>
<text x="1942.59" y="1088.69" fill="#A90000" stroke="#A90000" font-size="11.8" text-anchor="middle" textLength="6.69" lengthAdjust="spacingAndGlyphs">9</text>
<text x="1922.41" y="1094.57" fill="#006464" stroke="#006464" font-size="12" text-anchor="end" textLength="13.6" lengthAdjust="spacingAndGlyphs">Zc</text>
<line x1="1927.53" y1="1134.71" x2="1957.65" y2="1134.71" stroke="#840000" stroke-width="1.5"/>
<text x="1942.59" y="1133.86" fill="#A90000" stroke="#A90000" font-size="11.8" text-anchor="middle" textLength="12.59" lengthAdjust="spacingAndGlyphs">12</text>
<text x="1922.41" y="1139.75" fill="#006464" stroke="#006464" font-size="12" text-anchor="end" textLength="13.6" lengthAdjust="spacingAndGlyphs">Zd</text>
<line x1="1882.35" y1="984.12" x2="1882.35" y2="954" stroke="#840000" stroke-width="1.5"/>
<text x="1876.55" y="974.01" fill="#A90000" stroke="#A90000" font-size="11.8" text-anchor="middle" textLength="12.59" lengthAdjust="spacingAndGlyphs" transform="rotate(-90 1876.55 969.06)">16</text>
<text x="1882.35" y="994.28" fill="#006464" stroke="#006464" font-size="12" text-anchor="end" textLength="20.4" lengthAdjust="spacingAndGlyphs" transform="rotate(-90 1882.35 989.24)">VCC</text>
<line x1="1882.35" y1="1210" x2="1882.35" y2="1240.12" stroke="#840000" stroke-width="1.5"/>
<text x="1876.55" y="1230.01" fill="#A90000" stroke="#A90000" font-size="11.8" text-anchor="middle" textLength="6.69" lengthAdjust="spacingAndGlyphs" transform="rotate(-90 1876.55 1225.06)">8</text>
<text x="1882.35" y="1209.92" fill="#006464" stroke="#006464" font-size="12" text-anchor="start" textLength="20.4" lengthAdjust="spacingAndGlyphs" transform="rotate(-90 1882.35 1204.88)">GND</text>
<path d="M1882.35 954L1882.35 938.94M1877.68 947.45L1882.35 938.94L1887.02 947.45" fill="none" stroke="#840000" stroke-width="1.6"/>
<text x="1882.35" y="928.92" fill="#006464" stroke="#006464" font-size="12" text-anchor="middle" textLength="20.4" lengthAdjust="spacingAndGlyphs">VCC</text>
<circle cx="1882.35" cy="954" r="3.4" fill="#009000"/>
<path d="M1882.35 1240.12L1882.35 1247.65M1874.82 1247.65L1889.88 1247.65L1882.35 1255.18Z" fill="none" stroke="#840000" stroke-width="1.6" stroke-linejoin="miter"/>
<text x="1882.35" y="1275.28" fill="#006464" stroke="#006464" font-size="12" text-anchor="middle" textLength="20.4" lengthAdjust="spacingAndGlyphs">GND</text>
<circle cx="1882.35" cy="1240.12" r="3.4" fill="#009000"/>
<line x1="1799.53" y1="954" x2="1882.35" y2="954" stroke="#009000" stroke-width="1.7"/>
<polyline points="1799.53,954 1799.53,1149.76 1807.06,1149.76" fill="none" stroke="#009000" stroke-width="1.7"/>
<line x1="1799.53" y1="1014.24" x2="1807.06" y2="1014.24" stroke="#009000" stroke-width="1.7"/>
<circle cx="1799.53" cy="1014.24" r="3.4" fill="#009000"/>
<line x1="1799.53" y1="1059.41" x2="1807.06" y2="1059.41" stroke="#009000" stroke-width="1.7"/>
<circle cx="1799.53" cy="1059.41" r="3.4" fill="#009000"/>
<line x1="1799.53" y1="1104.59" x2="1807.06" y2="1104.59" stroke="#009000" stroke-width="1.7"/>
<circle cx="1799.53" cy="1104.59" r="3.4" fill="#009000"/>
<line x1="1792" y1="999.18" x2="1807.06" y2="999.18" stroke="#009000" stroke-width="1.7"/>
<line x1="1792" y1="1044.35" x2="1807.06" y2="1044.35" stroke="#009000" stroke-width="1.7"/>
<line x1="1792" y1="1089.53" x2="1807.06" y2="1089.53" stroke="#009000" stroke-width="1.7"/>
<line x1="1792" y1="1134.71" x2="1807.06" y2="1134.71" stroke="#009000" stroke-width="1.7"/>
<polygon points="1792,999.18 1784.75,991.93 1756.65,991.93 1756.65,1006.43 1784.75,1006.43" fill="none" stroke="#840000" stroke-width="1.5"/>
<text x="1781.25" y="1004.22" fill="#840000" stroke="#840000" font-size="12" text-anchor="end" textLength="19.6" lengthAdjust="spacingAndGlyphs">A12</text>
<polygon points="1792,1044.35 1784.75,1037.1 1756.65,1037.1 1756.65,1051.6 1784.75,1051.6" fill="none" stroke="#840000" stroke-width="1.5"/>
<text x="1781.25" y="1049.39" fill="#840000" stroke="#840000" font-size="12" text-anchor="end" textLength="19.6" lengthAdjust="spacingAndGlyphs">A13</text>
<polygon points="1792,1089.53 1784.75,1082.28 1756.65,1082.28 1756.65,1096.78 1784.75,1096.78" fill="none" stroke="#840000" stroke-width="1.5"/>
<text x="1781.25" y="1094.57" fill="#840000" stroke="#840000" font-size="12" text-anchor="end" textLength="19.6" lengthAdjust="spacingAndGlyphs">A15</text>
<polygon points="1792,1134.71 1784.75,1127.46 1756.65,1127.46 1756.65,1141.96 1784.75,1141.96" fill="none" stroke="#840000" stroke-width="1.5"/>
<text x="1781.25" y="1139.75" fill="#840000" stroke="#840000" font-size="12" text-anchor="end" textLength="19.6" lengthAdjust="spacingAndGlyphs">A14</text>
<polygon points="1807.06,1179.88 1799.81,1172.63 1688.71,1172.63 1688.71,1187.13 1799.81,1187.13" fill="none" stroke="#840000" stroke-width="1.5"/>
<text x="1796.31" y="1184.92" fill="#840000" stroke="#840000" font-size="12" text-anchor="end" textLength="102.6" lengthAdjust="spacingAndGlyphs">AIM_BUS_STEERING</text>
<polyline points="1807.06,1194.94 1807.06,1240.12 1882.35,1240.12" fill="none" stroke="#009000" stroke-width="1.7"/>
<polygon points="1957.65,991.93 2040.95,991.93 2048.2,999.18 2040.95,1006.43 1957.65,1006.43" fill="none" stroke="#840000" stroke-width="1.5"/>
<text x="1962.65" y="1004.22" fill="#840000" stroke="#840000" font-size="12" text-anchor="start" textLength="74.8" lengthAdjust="spacingAndGlyphs">MODIFIED_A12</text>
<polygon points="1957.65,1037.1 2040.95,1037.1 2048.2,1044.35 2040.95,1051.6 1957.65,1051.6" fill="none" stroke="#840000" stroke-width="1.5"/>
<text x="1962.65" y="1049.39" fill="#840000" stroke="#840000" font-size="12" text-anchor="start" textLength="74.8" lengthAdjust="spacingAndGlyphs">MODIFIED_A13</text>
<polygon points="1957.65,1082.28 2040.95,1082.28 2048.2,1089.53 2040.95,1096.78 1957.65,1096.78" fill="none" stroke="#840000" stroke-width="1.5"/>
<text x="1962.65" y="1094.57" fill="#840000" stroke="#840000" font-size="12" text-anchor="start" textLength="74.8" lengthAdjust="spacingAndGlyphs">MODIFIED_A15</text>
<polygon points="1957.65,1127.46 2040.95,1127.46 2048.2,1134.71 2040.95,1141.96 1957.65,1141.96" fill="none" stroke="#840000" stroke-width="1.5"/>
<text x="1962.65" y="1139.75" fill="#840000" stroke="#840000" font-size="12" text-anchor="start" textLength="74.8" lengthAdjust="spacingAndGlyphs">MODIFIED_A14</text>
<text x="1895.91" y="959.04" fill="#006464" stroke="#006464" font-size="12" text-anchor="start" textLength="18.8" lengthAdjust="spacingAndGlyphs">U11</text>
<text x="1895.91" y="974.1" fill="#006464" stroke="#006464" font-size="12" text-anchor="start" textLength="46.2" lengthAdjust="spacingAndGlyphs">74LS157</text>
<rect x="2198.59" y="577.53" width="90.35" height="180.71" fill="#FFFFC2" stroke="#840000" stroke-width="2.0"/>
<line x1="2198.59" y1="592.59" x2="2168.47" y2="592.59" stroke="#840000" stroke-width="1.5"/>
<text x="2183.53" y="591.74" fill="#A90000" stroke="#A90000" font-size="11.8" text-anchor="middle" textLength="5.9" lengthAdjust="spacingAndGlyphs">1</text>
<text x="2203.71" y="597.63" fill="#006464" stroke="#006464" font-size="12" text-anchor="start" textLength="9.6" lengthAdjust="spacingAndGlyphs">I1</text>
<line x1="2198.59" y1="607.65" x2="2168.47" y2="607.65" stroke="#840000" stroke-width="1.5"/>
<text x="2183.53" y="606.8" fill="#A90000" stroke="#A90000" font-size="11.8" text-anchor="middle" textLength="6.69" lengthAdjust="spacingAndGlyphs">2</text>
<text x="2203.71" y="612.69" fill="#006464" stroke="#006464" font-size="12" text-anchor="start" textLength="10.4" lengthAdjust="spacingAndGlyphs">I2</text>
<line x1="2198.59" y1="622.71" x2="2168.47" y2="622.71" stroke="#840000" stroke-width="1.5"/>
<text x="2183.53" y="621.86" fill="#A90000" stroke="#A90000" font-size="11.8" text-anchor="middle" textLength="6.69" lengthAdjust="spacingAndGlyphs">3</text>
<text x="2203.71" y="627.75" fill="#006464" stroke="#006464" font-size="12" text-anchor="start" textLength="10.4" lengthAdjust="spacingAndGlyphs">I3</text>
<line x1="2198.59" y1="637.76" x2="2168.47" y2="637.76" stroke="#840000" stroke-width="1.5"/>
<text x="2183.53" y="636.92" fill="#A90000" stroke="#A90000" font-size="11.8" text-anchor="middle" textLength="6.69" lengthAdjust="spacingAndGlyphs">4</text>
<text x="2203.71" y="642.8" fill="#006464" stroke="#006464" font-size="12" text-anchor="start" textLength="10.4" lengthAdjust="spacingAndGlyphs">I4</text>
<line x1="2198.59" y1="652.82" x2="2168.47" y2="652.82" stroke="#840000" stroke-width="1.5"/>
<text x="2183.53" y="651.98" fill="#A90000" stroke="#A90000" font-size="11.8" text-anchor="middle" textLength="6.69" lengthAdjust="spacingAndGlyphs">5</text>
<text x="2203.71" y="657.86" fill="#006464" stroke="#006464" font-size="12" text-anchor="start" textLength="10.4" lengthAdjust="spacingAndGlyphs">I5</text>
<line x1="2198.59" y1="667.88" x2="2168.47" y2="667.88" stroke="#840000" stroke-width="1.5"/>
<text x="2183.53" y="667.04" fill="#A90000" stroke="#A90000" font-size="11.8" text-anchor="middle" textLength="6.69" lengthAdjust="spacingAndGlyphs">6</text>
<text x="2203.71" y="672.92" fill="#006464" stroke="#006464" font-size="12" text-anchor="start" textLength="10.4" lengthAdjust="spacingAndGlyphs">I6</text>
<line x1="2198.59" y1="682.94" x2="2168.47" y2="682.94" stroke="#840000" stroke-width="1.5"/>
<text x="2183.53" y="682.1" fill="#A90000" stroke="#A90000" font-size="11.8" text-anchor="middle" textLength="6.69" lengthAdjust="spacingAndGlyphs">7</text>
<text x="2203.71" y="687.98" fill="#006464" stroke="#006464" font-size="12" text-anchor="start" textLength="10.4" lengthAdjust="spacingAndGlyphs">I7</text>
<line x1="2198.59" y1="698" x2="2168.47" y2="698" stroke="#840000" stroke-width="1.5"/>
<text x="2183.53" y="697.16" fill="#A90000" stroke="#A90000" font-size="11.8" text-anchor="middle" textLength="6.69" lengthAdjust="spacingAndGlyphs">8</text>
<text x="2203.71" y="703.04" fill="#006464" stroke="#006464" font-size="12" text-anchor="start" textLength="10.4" lengthAdjust="spacingAndGlyphs">I8</text>
<line x1="2198.59" y1="713.06" x2="2168.47" y2="713.06" stroke="#840000" stroke-width="1.5"/>
<text x="2183.53" y="712.21" fill="#A90000" stroke="#A90000" font-size="11.8" text-anchor="middle" textLength="6.69" lengthAdjust="spacingAndGlyphs">9</text>
<text x="2203.71" y="718.1" fill="#006464" stroke="#006464" font-size="12" text-anchor="start" textLength="10.4" lengthAdjust="spacingAndGlyphs">I9</text>
<line x1="2198.59" y1="728.12" x2="2168.47" y2="728.12" stroke="#840000" stroke-width="1.5"/>
<text x="2183.53" y="727.27" fill="#A90000" stroke="#A90000" font-size="11.8" text-anchor="middle" textLength="11.8" lengthAdjust="spacingAndGlyphs">11</text>
<text x="2203.71" y="733.16" fill="#006464" stroke="#006464" font-size="12" text-anchor="start" textLength="15.6" lengthAdjust="spacingAndGlyphs">I11</text>
<line x1="2288.94" y1="592.59" x2="2319.06" y2="592.59" stroke="#840000" stroke-width="1.5"/>
<text x="2304" y="591.74" fill="#A90000" stroke="#A90000" font-size="11.8" text-anchor="middle" textLength="12.59" lengthAdjust="spacingAndGlyphs">19</text>
<text x="2283.82" y="597.63" fill="#006464" stroke="#006464" font-size="12" text-anchor="end" textLength="19.6" lengthAdjust="spacingAndGlyphs">O19</text>
<line x1="2288.94" y1="607.65" x2="2319.06" y2="607.65" stroke="#840000" stroke-width="1.5"/>
<text x="2304" y="606.8" fill="#A90000" stroke="#A90000" font-size="11.8" text-anchor="middle" textLength="12.59" lengthAdjust="spacingAndGlyphs">18</text>
<text x="2283.82" y="612.69" fill="#006464" stroke="#006464" font-size="12" text-anchor="end" textLength="19.6" lengthAdjust="spacingAndGlyphs">O18</text>
<line x1="2288.94" y1="622.71" x2="2319.06" y2="622.71" stroke="#840000" stroke-width="1.5"/>
<text x="2304" y="621.86" fill="#A90000" stroke="#A90000" font-size="11.8" text-anchor="middle" textLength="12.59" lengthAdjust="spacingAndGlyphs">17</text>
<text x="2283.82" y="627.75" fill="#006464" stroke="#006464" font-size="12" text-anchor="end" textLength="19.6" lengthAdjust="spacingAndGlyphs">O17</text>
<line x1="2288.94" y1="637.76" x2="2319.06" y2="637.76" stroke="#840000" stroke-width="1.5"/>
<text x="2304" y="636.92" fill="#A90000" stroke="#A90000" font-size="11.8" text-anchor="middle" textLength="12.59" lengthAdjust="spacingAndGlyphs">16</text>
<text x="2283.82" y="642.8" fill="#006464" stroke="#006464" font-size="12" text-anchor="end" textLength="19.6" lengthAdjust="spacingAndGlyphs">O16</text>
<line x1="2288.94" y1="652.82" x2="2319.06" y2="652.82" stroke="#840000" stroke-width="1.5"/>
<text x="2304" y="651.98" fill="#A90000" stroke="#A90000" font-size="11.8" text-anchor="middle" textLength="12.59" lengthAdjust="spacingAndGlyphs">15</text>
<text x="2283.82" y="657.86" fill="#006464" stroke="#006464" font-size="12" text-anchor="end" textLength="19.6" lengthAdjust="spacingAndGlyphs">O15</text>
<line x1="2288.94" y1="667.88" x2="2319.06" y2="667.88" stroke="#840000" stroke-width="1.5"/>
<text x="2304" y="667.04" fill="#A90000" stroke="#A90000" font-size="11.8" text-anchor="middle" textLength="12.59" lengthAdjust="spacingAndGlyphs">14</text>
<text x="2283.82" y="672.92" fill="#006464" stroke="#006464" font-size="12" text-anchor="end" textLength="19.6" lengthAdjust="spacingAndGlyphs">O14</text>
<line x1="2288.94" y1="682.94" x2="2319.06" y2="682.94" stroke="#840000" stroke-width="1.5"/>
<text x="2304" y="682.1" fill="#A90000" stroke="#A90000" font-size="11.8" text-anchor="middle" textLength="12.59" lengthAdjust="spacingAndGlyphs">13</text>
<text x="2283.82" y="687.98" fill="#006464" stroke="#006464" font-size="12" text-anchor="end" textLength="19.6" lengthAdjust="spacingAndGlyphs">O13</text>
<line x1="2288.94" y1="698" x2="2319.06" y2="698" stroke="#840000" stroke-width="1.5"/>
<text x="2304" y="697.16" fill="#A90000" stroke="#A90000" font-size="11.8" text-anchor="middle" textLength="12.59" lengthAdjust="spacingAndGlyphs">12</text>
<text x="2283.82" y="703.04" fill="#006464" stroke="#006464" font-size="12" text-anchor="end" textLength="19.6" lengthAdjust="spacingAndGlyphs">O12</text>
<line x1="2243.76" y1="577.53" x2="2243.76" y2="547.41" stroke="#840000" stroke-width="1.5"/>
<text x="2237.96" y="567.43" fill="#A90000" stroke="#A90000" font-size="11.8" text-anchor="middle" textLength="13.37" lengthAdjust="spacingAndGlyphs" transform="rotate(-90 2237.96 562.47)">20</text>
<text x="2243.76" y="587.69" fill="#006464" stroke="#006464" font-size="12" text-anchor="end" textLength="20.4" lengthAdjust="spacingAndGlyphs" transform="rotate(-90 2243.76 582.65)">VCC</text>
<line x1="2243.76" y1="758.24" x2="2243.76" y2="788.35" stroke="#840000" stroke-width="1.5"/>
<text x="2237.96" y="778.25" fill="#A90000" stroke="#A90000" font-size="11.8" text-anchor="middle" textLength="12.59" lengthAdjust="spacingAndGlyphs" transform="rotate(-90 2237.96 773.29)">10</text>
<text x="2243.76" y="758.16" fill="#006464" stroke="#006464" font-size="12" text-anchor="start" textLength="20.4" lengthAdjust="spacingAndGlyphs" transform="rotate(-90 2243.76 753.12)">GND</text>
<polyline points="2236.24,675.41 2248.28,675.41 2248.28,660.35" fill="none" stroke="#840000" stroke-width="1.3" stroke-linejoin="round"/>
<polyline points="2240.75,675.41 2240.75,660.35 2252.05,660.35" fill="none" stroke="#840000" stroke-width="1.3" stroke-linejoin="round"/>
<path d="M2243.76 547.41L2243.76 532.35M2239.1 540.86L2243.76 532.35L2248.43 540.86" fill="none" stroke="#840000" stroke-width="1.6"/>
<text x="2243.76" y="529.86" fill="#006464" stroke="#006464" font-size="12" text-anchor="middle" textLength="20.4" lengthAdjust="spacingAndGlyphs">VCC</text>
<path d="M2243.76 788.35L2243.76 795.88M2236.24 795.88L2251.29 795.88L2243.76 803.41Z" fill="none" stroke="#840000" stroke-width="1.6" stroke-linejoin="miter"/>
<text x="2243.76" y="823.51" fill="#006464" stroke="#006464" font-size="12" text-anchor="middle" textLength="20.4" lengthAdjust="spacingAndGlyphs">GND</text>
<circle cx="2243.76" cy="788.35" r="3.4" fill="#009000"/>
<polyline points="2168.47,592.59 2153.41,592.59 2153.41,517.29 2341.65,517.29 2341.65,592.59 2319.06,592.59" fill="none" stroke="#009000" stroke-width="1.7"/>
<polyline points="2319.06,607.65 2371.76,607.65 2371.76,577.53" fill="none" stroke="#009000" stroke-width="1.7"/>
<line x1="2371.76" y1="487.18" x2="2371.76" y2="494.71" stroke="#840000" stroke-width="1.5"/>
<line x1="2371.76" y1="524.82" x2="2371.76" y2="532.35" stroke="#840000" stroke-width="1.5"/>
<rect x="2365.74" y="494.71" width="12.05" height="30.12" fill="none" stroke="#840000" stroke-width="2.0"/>
<text x="2371.76" y="514.8" fill="#006464" stroke="#006464" font-size="12" text-anchor="middle" textLength="20.4" lengthAdjust="spacingAndGlyphs" transform="rotate(-90 2371.76 509.76)">330</text>
<text x="2380.05" y="508.25" fill="#006464" stroke="#006464" font-size="12" text-anchor="start" textLength="13.6" lengthAdjust="spacingAndGlyphs">R6</text>
<path d="M2371.76 487.18L2371.76 472.12M2367.1 480.63L2371.76 472.12L2376.43 480.63" fill="none" stroke="#840000" stroke-width="1.6"/>
<text x="2371.76" y="470.76" fill="#006464" stroke="#006464" font-size="12" text-anchor="middle" textLength="20.4" lengthAdjust="spacingAndGlyphs">VCC</text>
<line x1="2371.76" y1="532.35" x2="2371.76" y2="547.41" stroke="#840000" stroke-width="1.5"/>
<line x1="2371.76" y1="562.47" x2="2371.76" y2="577.53" stroke="#840000" stroke-width="1.5"/>
<polygon points="2363.86,547.41 2379.67,547.41 2371.76,562.47" fill="none" stroke="#840000" stroke-width="2.0"/>
<line x1="2363.86" y1="562.47" x2="2379.67" y2="562.47" stroke="#840000" stroke-width="2.0"/>
<line x1="2371.76" y1="547.41" x2="2371.76" y2="562.47" stroke="#840000" stroke-width="1.5"/>
<path d="M2375.68 565.33L2385.54 574.82M2380.34 574.82L2385.54 574.82L2385.54 569.62" fill="none" stroke="#840000" stroke-width="1.4"/>
<path d="M2375.3 573.01L2385.54 582.8M2380.34 582.8L2385.54 582.8L2385.54 577.6" fill="none" stroke="#840000" stroke-width="1.4"/>
<text x="2395.86" y="544.17" fill="#006464" stroke="#006464" font-size="12" text-anchor="start" textLength="12.8" lengthAdjust="spacingAndGlyphs">D1</text>
<text x="2395.86" y="556.82" fill="#006464" stroke="#006464" font-size="12" text-anchor="start" textLength="20.4" lengthAdjust="spacingAndGlyphs">RED</text>
<polygon points="2168.47,607.65 2161.22,600.4 2139.12,600.4 2139.12,614.9 2161.22,614.9" fill="none" stroke="#840000" stroke-width="1.5"/>
<text x="2157.72" y="612.69" fill="#840000" stroke="#840000" font-size="12" text-anchor="end" textLength="13.6" lengthAdjust="spacingAndGlyphs">A9</text>
<polygon points="2168.47,622.71 2161.22,615.46 2114.72,615.46 2114.72,629.96 2161.22,629.96" fill="none" stroke="#840000" stroke-width="1.5"/>
<text x="2157.72" y="627.75" fill="#840000" stroke="#840000" font-size="12" text-anchor="end" textLength="38" lengthAdjust="spacingAndGlyphs">AIM_ø2</text>
<polygon points="2168.47,637.76 2161.22,630.51 2094.32,630.51 2094.32,645.01 2161.22,645.01" fill="none" stroke="#840000" stroke-width="1.5"/>
<text x="2157.72" y="642.8" fill="#840000" stroke="#840000" font-size="12" text-anchor="end" textLength="58.4" lengthAdjust="spacingAndGlyphs">AIM_RESET</text>
<line x1="2099.32" y1="632.36" x2="2157.72" y2="632.36" stroke="#840000" stroke-width="1.2"/>
<polygon points="2168.47,652.82 2161.22,645.57 2133.32,645.57 2133.32,660.07 2161.22,660.07" fill="none" stroke="#840000" stroke-width="1.5"/>
<text x="2157.72" y="657.86" fill="#840000" stroke="#840000" font-size="12" text-anchor="end" textLength="19.4" lengthAdjust="spacingAndGlyphs">R/W</text>
<path d="M2164.33 663.74L2172.61 672.02M2164.33 672.02L2172.61 663.74" stroke="#000084" stroke-width="1.6"/>
<path d="M2164.33 678.8L2172.61 687.08M2164.33 687.08L2172.61 678.8" stroke="#000084" stroke-width="1.6"/>
<polygon points="2168.47,698 2161.22,690.75 2112.12,690.75 2112.12,705.25 2161.22,705.25" fill="none" stroke="#840000" stroke-width="1.5"/>
<text x="2157.72" y="703.04" fill="#840000" stroke="#840000" font-size="12" text-anchor="end" textLength="40.6" lengthAdjust="spacingAndGlyphs">Z22_OE</text>
<line x1="2117.12" y1="692.59" x2="2157.72" y2="692.59" stroke="#840000" stroke-width="1.2"/>
<polyline points="2168.47,713.06 2168.47,788.35 2243.76,788.35" fill="none" stroke="#009000" stroke-width="1.7"/>
<circle cx="2168.47" cy="728.12" r="3.4" fill="#009000"/>
<path d="M2314.92 618.56L2323.2 626.85M2314.92 626.85L2323.2 618.56" stroke="#000084" stroke-width="1.6"/>
<path d="M2314.92 633.62L2323.2 641.91M2314.92 641.91L2323.2 633.62" stroke="#000084" stroke-width="1.6"/>
<path d="M2314.92 648.68L2323.2 656.96M2314.92 656.96L2323.2 648.68" stroke="#000084" stroke-width="1.6"/>
<polyline points="2319.06,667.88 2401.88,667.88 2401.88,841.06 2085.65,841.06 2085.65,1104.59 2191.06,1104.59" fill="none" stroke="#009000" stroke-width="1.7"/>
<polygon points="2319.06,675.69 2368.76,675.69 2376.01,682.94 2368.76,690.19 2319.06,690.19" fill="none" stroke="#840000" stroke-width="1.5"/>
<text x="2324.06" y="687.98" fill="#840000" stroke="#840000" font-size="12" text-anchor="start" textLength="41.2" lengthAdjust="spacingAndGlyphs">RAM_OE</text>
<line x1="2324.06" y1="677.53" x2="2365.26" y2="677.53" stroke="#840000" stroke-width="1.2"/>
<polygon points="2319.06,690.75 2369.56,690.75 2376.81,698 2369.56,705.25 2319.06,705.25" fill="none" stroke="#840000" stroke-width="1.5"/>
<text x="2324.06" y="703.04" fill="#840000" stroke="#840000" font-size="12" text-anchor="start" textLength="42" lengthAdjust="spacingAndGlyphs">RAM_WE</text>
<line x1="2324.06" y1="692.59" x2="2366.06" y2="692.59" stroke="#840000" stroke-width="1.2"/>
<text x="2257.69" y="552.23" fill="#006464" stroke="#006464" font-size="12" text-anchor="start" textLength="19.6" lengthAdjust="spacingAndGlyphs">U14</text>
<text x="2257.69" y="566.91" fill="#006464" stroke="#006464" font-size="12" text-anchor="start" textLength="45.6" lengthAdjust="spacingAndGlyphs">PAL10L8</text>
<rect x="2206.12" y="938.94" width="90.35" height="286.12" fill="#FFFFC2" stroke="#840000" stroke-width="2.0"/>
<line x1="2206.12" y1="954" x2="2191.06" y2="954" stroke="#840000" stroke-width="1.5"/>
<text x="2198.59" y="953.16" fill="#A90000" stroke="#A90000" font-size="11.8" text-anchor="middle" textLength="6.69" lengthAdjust="spacingAndGlyphs">9</text>
<text x="2211.24" y="959.04" fill="#006464" stroke="#006464" font-size="12" text-anchor="start" textLength="10.4" lengthAdjust="spacingAndGlyphs">I0</text>
<line x1="2206.12" y1="969.06" x2="2191.06" y2="969.06" stroke="#840000" stroke-width="1.5"/>
<text x="2198.59" y="968.21" fill="#A90000" stroke="#A90000" font-size="11.8" text-anchor="middle" textLength="6.69" lengthAdjust="spacingAndGlyphs">8</text>
<text x="2211.24" y="974.1" fill="#006464" stroke="#006464" font-size="12" text-anchor="start" textLength="9.6" lengthAdjust="spacingAndGlyphs">I1</text>
<line x1="2206.12" y1="984.12" x2="2191.06" y2="984.12" stroke="#840000" stroke-width="1.5"/>
<text x="2198.59" y="983.27" fill="#A90000" stroke="#A90000" font-size="11.8" text-anchor="middle" textLength="6.69" lengthAdjust="spacingAndGlyphs">7</text>
<text x="2211.24" y="989.16" fill="#006464" stroke="#006464" font-size="12" text-anchor="start" textLength="10.4" lengthAdjust="spacingAndGlyphs">I2</text>
<line x1="2206.12" y1="999.18" x2="2191.06" y2="999.18" stroke="#840000" stroke-width="1.5"/>
<text x="2198.59" y="998.33" fill="#A90000" stroke="#A90000" font-size="11.8" text-anchor="middle" textLength="6.69" lengthAdjust="spacingAndGlyphs">6</text>
<text x="2211.24" y="1004.22" fill="#006464" stroke="#006464" font-size="12" text-anchor="start" textLength="10.4" lengthAdjust="spacingAndGlyphs">I3</text>
<line x1="2206.12" y1="1014.24" x2="2191.06" y2="1014.24" stroke="#840000" stroke-width="1.5"/>
<text x="2198.59" y="1013.39" fill="#A90000" stroke="#A90000" font-size="11.8" text-anchor="middle" textLength="6.69" lengthAdjust="spacingAndGlyphs">5</text>
<text x="2211.24" y="1019.28" fill="#006464" stroke="#006464" font-size="12" text-anchor="start" textLength="10.4" lengthAdjust="spacingAndGlyphs">I4</text>
<line x1="2206.12" y1="1029.29" x2="2191.06" y2="1029.29" stroke="#840000" stroke-width="1.5"/>
<text x="2198.59" y="1028.45" fill="#A90000" stroke="#A90000" font-size="11.8" text-anchor="middle" textLength="6.69" lengthAdjust="spacingAndGlyphs">4</text>
<text x="2211.24" y="1034.33" fill="#006464" stroke="#006464" font-size="12" text-anchor="start" textLength="10.4" lengthAdjust="spacingAndGlyphs">I5</text>
<line x1="2206.12" y1="1044.35" x2="2191.06" y2="1044.35" stroke="#840000" stroke-width="1.5"/>
<text x="2198.59" y="1043.51" fill="#A90000" stroke="#A90000" font-size="11.8" text-anchor="middle" textLength="6.69" lengthAdjust="spacingAndGlyphs">3</text>
<text x="2211.24" y="1049.39" fill="#006464" stroke="#006464" font-size="12" text-anchor="start" textLength="10.4" lengthAdjust="spacingAndGlyphs">I6</text>
<line x1="2206.12" y1="1059.41" x2="2191.06" y2="1059.41" stroke="#840000" stroke-width="1.5"/>
<text x="2198.59" y="1058.57" fill="#A90000" stroke="#A90000" font-size="11.8" text-anchor="middle" textLength="6.69" lengthAdjust="spacingAndGlyphs">2</text>
<text x="2211.24" y="1064.45" fill="#006464" stroke="#006464" font-size="12" text-anchor="start" textLength="10.4" lengthAdjust="spacingAndGlyphs">I7</text>
<line x1="2206.12" y1="1074.47" x2="2191.06" y2="1074.47" stroke="#840000" stroke-width="1.5"/>
<text x="2198.59" y="1073.63" fill="#A90000" stroke="#A90000" font-size="11.8" text-anchor="middle" textLength="13.37" lengthAdjust="spacingAndGlyphs">27</text>
<text x="2211.24" y="1079.51" fill="#006464" stroke="#006464" font-size="12" text-anchor="start" textLength="10.4" lengthAdjust="spacingAndGlyphs">I8</text>
<line x1="2206.12" y1="1089.53" x2="2191.06" y2="1089.53" stroke="#840000" stroke-width="1.5"/>
<text x="2198.59" y="1088.69" fill="#A90000" stroke="#A90000" font-size="11.8" text-anchor="middle" textLength="13.37" lengthAdjust="spacingAndGlyphs">26</text>
<text x="2211.24" y="1094.57" fill="#006464" stroke="#006464" font-size="12" text-anchor="start" textLength="10.4" lengthAdjust="spacingAndGlyphs">I9</text>
<line x1="2206.12" y1="1104.59" x2="2191.06" y2="1104.59" stroke="#840000" stroke-width="1.5"/>
<text x="2198.59" y="1103.74" fill="#A90000" stroke="#A90000" font-size="11.8" text-anchor="middle" textLength="13.37" lengthAdjust="spacingAndGlyphs">25</text>
<text x="2211.24" y="1109.63" fill="#006464" stroke="#006464" font-size="12" text-anchor="start" textLength="16.4" lengthAdjust="spacingAndGlyphs">I10</text>
<line x1="2206.12" y1="1119.65" x2="2191.06" y2="1119.65" stroke="#840000" stroke-width="1.5"/>
<text x="2198.59" y="1118.8" fill="#A90000" stroke="#A90000" font-size="11.8" text-anchor="middle" textLength="13.37" lengthAdjust="spacingAndGlyphs">24</text>
<text x="2211.24" y="1124.69" fill="#006464" stroke="#006464" font-size="12" text-anchor="start" textLength="15.6" lengthAdjust="spacingAndGlyphs">I11</text>
<line x1="2206.12" y1="1134.71" x2="2191.06" y2="1134.71" stroke="#840000" stroke-width="1.5"/>
<text x="2198.59" y="1133.86" fill="#A90000" stroke="#A90000" font-size="11.8" text-anchor="middle" textLength="13.37" lengthAdjust="spacingAndGlyphs">23</text>
<text x="2211.24" y="1139.75" fill="#006464" stroke="#006464" font-size="12" text-anchor="start" textLength="16.4" lengthAdjust="spacingAndGlyphs">I12</text>
<line x1="2206.12" y1="1149.76" x2="2191.06" y2="1149.76" stroke="#840000" stroke-width="1.5"/>
<text x="2198.59" y="1148.92" fill="#A90000" stroke="#A90000" font-size="11.8" text-anchor="middle" textLength="13.37" lengthAdjust="spacingAndGlyphs">22</text>
<text x="2211.24" y="1154.8" fill="#006464" stroke="#006464" font-size="12" text-anchor="start" textLength="16.4" lengthAdjust="spacingAndGlyphs">I13</text>
<line x1="2206.12" y1="1164.82" x2="2191.06" y2="1164.82" stroke="#840000" stroke-width="1.5"/>
<text x="2198.59" y="1163.98" fill="#A90000" stroke="#A90000" font-size="11.8" text-anchor="middle" textLength="12.59" lengthAdjust="spacingAndGlyphs">21</text>
<text x="2211.24" y="1169.86" fill="#006464" stroke="#006464" font-size="12" text-anchor="start" textLength="16.4" lengthAdjust="spacingAndGlyphs">I14</text>
<line x1="2206.12" y1="1179.88" x2="2191.06" y2="1179.88" stroke="#840000" stroke-width="1.5"/>
<text x="2198.59" y="1179.04" fill="#A90000" stroke="#A90000" font-size="11.8" text-anchor="middle" textLength="13.37" lengthAdjust="spacingAndGlyphs">20</text>
<text x="2211.24" y="1184.92" fill="#006464" stroke="#006464" font-size="12" text-anchor="start" textLength="16.4" lengthAdjust="spacingAndGlyphs">I15</text>
<line x1="2206.12" y1="1194.94" x2="2191.06" y2="1194.94" stroke="#840000" stroke-width="1.5"/>
<text x="2198.59" y="1194.1" fill="#A90000" stroke="#A90000" font-size="11.8" text-anchor="middle" textLength="12.59" lengthAdjust="spacingAndGlyphs">19</text>
<text x="2211.24" y="1199.98" fill="#006464" stroke="#006464" font-size="12" text-anchor="start" textLength="13.6" lengthAdjust="spacingAndGlyphs">CE</text>
<line x1="2211.24" y1="1189.53" x2="2224.84" y2="1189.53" stroke="#006464" stroke-width="1.2"/>
<line x1="2206.12" y1="1210" x2="2191.06" y2="1210" stroke="#840000" stroke-width="1.5"/>
<text x="2198.59" y="1209.16" fill="#A90000" stroke="#A90000" font-size="11.8" text-anchor="middle" textLength="5.9" lengthAdjust="spacingAndGlyphs">1</text>
<text x="2211.24" y="1215.04" fill="#006464" stroke="#006464" font-size="12" text-anchor="start" textLength="13.6" lengthAdjust="spacingAndGlyphs">FE</text>
<line x1="2296.47" y1="954" x2="2311.53" y2="954" stroke="#840000" stroke-width="1.5"/>
<text x="2304" y="953.16" fill="#A90000" stroke="#A90000" font-size="11.8" text-anchor="middle" textLength="12.59" lengthAdjust="spacingAndGlyphs">18</text>
<text x="2291.35" y="959.04" fill="#006464" stroke="#006464" font-size="12" text-anchor="end" textLength="13.6" lengthAdjust="spacingAndGlyphs">F0</text>
<line x1="2296.47" y1="969.06" x2="2311.53" y2="969.06" stroke="#840000" stroke-width="1.5"/>
<text x="2304" y="968.21" fill="#A90000" stroke="#A90000" font-size="11.8" text-anchor="middle" textLength="12.59" lengthAdjust="spacingAndGlyphs">17</text>
<text x="2291.35" y="974.1" fill="#006464" stroke="#006464" font-size="12" text-anchor="end" textLength="12.8" lengthAdjust="spacingAndGlyphs">F1</text>
<line x1="2296.47" y1="984.12" x2="2311.53" y2="984.12" stroke="#840000" stroke-width="1.5"/>
<text x="2304" y="983.27" fill="#A90000" stroke="#A90000" font-size="11.8" text-anchor="middle" textLength="12.59" lengthAdjust="spacingAndGlyphs">16</text>
<text x="2291.35" y="989.16" fill="#006464" stroke="#006464" font-size="12" text-anchor="end" textLength="13.6" lengthAdjust="spacingAndGlyphs">F2</text>
<line x1="2296.47" y1="999.18" x2="2311.53" y2="999.18" stroke="#840000" stroke-width="1.5"/>
<text x="2304" y="998.33" fill="#A90000" stroke="#A90000" font-size="11.8" text-anchor="middle" textLength="12.59" lengthAdjust="spacingAndGlyphs">15</text>
<text x="2291.35" y="1004.22" fill="#006464" stroke="#006464" font-size="12" text-anchor="end" textLength="13.6" lengthAdjust="spacingAndGlyphs">F3</text>
<line x1="2296.47" y1="1014.24" x2="2311.53" y2="1014.24" stroke="#840000" stroke-width="1.5"/>
<text x="2304" y="1013.39" fill="#A90000" stroke="#A90000" font-size="11.8" text-anchor="middle" textLength="12.59" lengthAdjust="spacingAndGlyphs">13</text>
<text x="2291.35" y="1019.28" fill="#006464" stroke="#006464" font-size="12" text-anchor="end" textLength="13.6" lengthAdjust="spacingAndGlyphs">F4</text>
<line x1="2296.47" y1="1029.29" x2="2311.53" y2="1029.29" stroke="#840000" stroke-width="1.5"/>
<text x="2304" y="1028.45" fill="#A90000" stroke="#A90000" font-size="11.8" text-anchor="middle" textLength="12.59" lengthAdjust="spacingAndGlyphs">12</text>
<text x="2291.35" y="1034.33" fill="#006464" stroke="#006464" font-size="12" text-anchor="end" textLength="13.6" lengthAdjust="spacingAndGlyphs">F5</text>
<line x1="2296.47" y1="1044.35" x2="2311.53" y2="1044.35" stroke="#840000" stroke-width="1.5"/>
<text x="2304" y="1043.51" fill="#A90000" stroke="#A90000" font-size="11.8" text-anchor="middle" textLength="11.8" lengthAdjust="spacingAndGlyphs">11</text>
<text x="2291.35" y="1049.39" fill="#006464" stroke="#006464" font-size="12" text-anchor="end" textLength="13.6" lengthAdjust="spacingAndGlyphs">F6</text>
<line x1="2296.47" y1="1059.41" x2="2311.53" y2="1059.41" stroke="#840000" stroke-width="1.5"/>
<text x="2304" y="1058.57" fill="#A90000" stroke="#A90000" font-size="11.8" text-anchor="middle" textLength="12.59" lengthAdjust="spacingAndGlyphs">10</text>
<text x="2291.35" y="1064.45" fill="#006464" stroke="#006464" font-size="12" text-anchor="end" textLength="13.6" lengthAdjust="spacingAndGlyphs">F7</text>
<line x1="2251.29" y1="938.94" x2="2251.29" y2="923.88" stroke="#840000" stroke-width="1.5"/>
<text x="2245.49" y="936.37" fill="#A90000" stroke="#A90000" font-size="11.8" text-anchor="middle" textLength="13.37" lengthAdjust="spacingAndGlyphs" transform="rotate(-90 2245.49 931.41)">28</text>
<text x="2251.29" y="949.1" fill="#006464" stroke="#006464" font-size="12" text-anchor="end" textLength="20.4" lengthAdjust="spacingAndGlyphs" transform="rotate(-90 2251.29 944.06)">VCC</text>
<line x1="2251.29" y1="1225.06" x2="2251.29" y2="1240.12" stroke="#840000" stroke-width="1.5"/>
<text x="2245.49" y="1237.54" fill="#A90000" stroke="#A90000" font-size="11.8" text-anchor="middle" textLength="12.59" lengthAdjust="spacingAndGlyphs" transform="rotate(-90 2245.49 1232.59)">14</text>
<text x="2251.29" y="1224.98" fill="#006464" stroke="#006464" font-size="12" text-anchor="start" textLength="20.4" lengthAdjust="spacingAndGlyphs" transform="rotate(-90 2251.29 1219.94)">GND</text>
<path d="M2251.29 923.88L2251.29 908.82M2246.63 917.33L2251.29 908.82L2255.96 917.33" fill="none" stroke="#840000" stroke-width="1.6"/>
<text x="2251.29" y="905.58" fill="#006464" stroke="#006464" font-size="12" text-anchor="middle" textLength="20.4" lengthAdjust="spacingAndGlyphs">VCC</text>
<path d="M2251.29 1240.12L2251.29 1247.65M2243.76 1247.65L2258.82 1247.65L2251.29 1255.18Z" fill="none" stroke="#840000" stroke-width="1.6" stroke-linejoin="miter"/>
<text x="2251.29" y="1275.28" fill="#006464" stroke="#006464" font-size="12" text-anchor="middle" textLength="20.4" lengthAdjust="spacingAndGlyphs">GND</text>
<circle cx="2251.29" cy="1240.12" r="3.4" fill="#009000"/>
<polyline points="2191.06,954 2168.47,954 2168.47,893.76 2454.59,893.76 2454.59,1059.41 2311.53,1059.41" fill="none" stroke="#009000" stroke-width="1.7"/>
<polygon points="2191.06,969.06 2183.81,961.81 2155.71,961.81 2155.71,976.31 2183.81,976.31" fill="none" stroke="#840000" stroke-width="1.5"/>
<text x="2180.31" y="974.1" fill="#840000" stroke="#840000" font-size="12" text-anchor="end" textLength="19.6" lengthAdjust="spacingAndGlyphs">A12</text>
<polygon points="2191.06,984.12 2183.81,976.87 2155.71,976.87 2155.71,991.37 2183.81,991.37" fill="none" stroke="#840000" stroke-width="1.5"/>
<text x="2180.31" y="989.16" fill="#840000" stroke="#840000" font-size="12" text-anchor="end" textLength="19.6" lengthAdjust="spacingAndGlyphs">A10</text>
<polygon points="2191.06,999.18 2183.81,991.93 2161.71,991.93 2161.71,1006.43 2183.81,1006.43" fill="none" stroke="#840000" stroke-width="1.5"/>
<text x="2180.31" y="1004.22" fill="#840000" stroke="#840000" font-size="12" text-anchor="end" textLength="13.6" lengthAdjust="spacingAndGlyphs">A8</text>
<polygon points="2191.06,1014.24 2183.81,1006.99 2161.71,1006.99 2161.71,1021.49 2183.81,1021.49" fill="none" stroke="#840000" stroke-width="1.5"/>
<text x="2180.31" y="1019.28" fill="#840000" stroke="#840000" font-size="12" text-anchor="end" textLength="13.6" lengthAdjust="spacingAndGlyphs">A7</text>
<polygon points="2191.06,1029.29 2183.81,1022.04 2161.71,1022.04 2161.71,1036.54 2183.81,1036.54" fill="none" stroke="#840000" stroke-width="1.5"/>
<text x="2180.31" y="1034.33" fill="#840000" stroke="#840000" font-size="12" text-anchor="end" textLength="13.6" lengthAdjust="spacingAndGlyphs">A6</text>
<polygon points="2191.06,1044.35 2183.81,1037.1 2161.71,1037.1 2161.71,1051.6 2183.81,1051.6" fill="none" stroke="#840000" stroke-width="1.5"/>
<text x="2180.31" y="1049.39" fill="#840000" stroke="#840000" font-size="12" text-anchor="end" textLength="13.6" lengthAdjust="spacingAndGlyphs">A5</text>
<polygon points="2191.06,1059.41 2183.81,1052.16 2161.71,1052.16 2161.71,1066.66 2183.81,1066.66" fill="none" stroke="#840000" stroke-width="1.5"/>
<text x="2180.31" y="1064.45" fill="#840000" stroke="#840000" font-size="12" text-anchor="end" textLength="13.6" lengthAdjust="spacingAndGlyphs">A4</text>
<polygon points="2191.06,1074.47 2183.81,1067.22 2168.51,1067.22 2168.51,1081.72 2183.81,1081.72" fill="none" stroke="#840000" stroke-width="1.5"/>
<text x="2180.31" y="1079.51" fill="#840000" stroke="#840000" font-size="12" text-anchor="end" textLength="6.8" lengthAdjust="spacingAndGlyphs">Q</text>
<polygon points="2191.06,1089.53 2183.81,1082.28 2137.31,1082.28 2137.31,1096.78 2183.81,1096.78" fill="none" stroke="#840000" stroke-width="1.5"/>
<text x="2180.31" y="1094.57" fill="#840000" stroke="#840000" font-size="12" text-anchor="end" textLength="38" lengthAdjust="spacingAndGlyphs">AIM_ø2</text>
<polygon points="2191.06,1119.65 2183.81,1112.4 2161.71,1112.4 2161.71,1126.9 2183.81,1126.9" fill="none" stroke="#840000" stroke-width="1.5"/>
<text x="2180.31" y="1124.69" fill="#840000" stroke="#840000" font-size="12" text-anchor="end" textLength="13.6" lengthAdjust="spacingAndGlyphs">A9</text>
<polygon points="2191.06,1149.76 2183.81,1142.51 2155.71,1142.51 2155.71,1157.01 2183.81,1157.01" fill="none" stroke="#840000" stroke-width="1.5"/>
<text x="2180.31" y="1154.8" fill="#840000" stroke="#840000" font-size="12" text-anchor="end" textLength="19.6" lengthAdjust="spacingAndGlyphs">A15</text>
<polygon points="2191.06,1164.82 2183.81,1157.57 2155.71,1157.57 2155.71,1172.07 2183.81,1172.07" fill="none" stroke="#840000" stroke-width="1.5"/>
<text x="2180.31" y="1169.86" fill="#840000" stroke="#840000" font-size="12" text-anchor="end" textLength="19.6" lengthAdjust="spacingAndGlyphs">A14</text>
<polygon points="2191.06,1179.88 2183.81,1172.63 2155.71,1172.63 2155.71,1187.13 2183.81,1187.13" fill="none" stroke="#840000" stroke-width="1.5"/>
<text x="2180.31" y="1184.92" fill="#840000" stroke="#840000" font-size="12" text-anchor="end" textLength="19.6" lengthAdjust="spacingAndGlyphs">A13</text>
<path d="M2186.92 1130.56L2195.2 1138.85M2186.92 1138.85L2195.2 1130.56" stroke="#000084" stroke-width="1.6"/>
<path d="M2186.92 1205.86L2195.2 1214.14M2186.92 1214.14L2195.2 1205.86" stroke="#000084" stroke-width="1.6"/>
<polyline points="2191.06,1194.94 2176,1194.94 2176,1240.12 2251.29,1240.12" fill="none" stroke="#009000" stroke-width="1.7"/>
<polygon points="2311.53,946.75 2360.63,946.75 2367.88,954 2360.63,961.25 2311.53,961.25" fill="none" stroke="#840000" stroke-width="1.5"/>
<text x="2316.53" y="959.04" fill="#840000" stroke="#840000" font-size="12" text-anchor="start" textLength="40.6" lengthAdjust="spacingAndGlyphs">Z23_OE</text>
<line x1="2316.53" y1="948.59" x2="2357.13" y2="948.59" stroke="#840000" stroke-width="1.2"/>
<polygon points="2311.53,961.81 2360.63,961.81 2367.88,969.06 2360.63,976.31 2311.53,976.31" fill="none" stroke="#840000" stroke-width="1.5"/>
<text x="2316.53" y="974.1" fill="#840000" stroke="#840000" font-size="12" text-anchor="start" textLength="40.6" lengthAdjust="spacingAndGlyphs">Z24_OE</text>
<line x1="2316.53" y1="963.65" x2="2357.13" y2="963.65" stroke="#840000" stroke-width="1.2"/>
<polygon points="2311.53,976.87 2360.63,976.87 2367.88,984.12 2360.63,991.37 2311.53,991.37" fill="none" stroke="#840000" stroke-width="1.5"/>
<text x="2316.53" y="989.16" fill="#840000" stroke="#840000" font-size="12" text-anchor="start" textLength="40.6" lengthAdjust="spacingAndGlyphs">Z25_OE</text>
<line x1="2316.53" y1="978.71" x2="2357.13" y2="978.71" stroke="#840000" stroke-width="1.2"/>
<polygon points="2311.53,991.93 2360.63,991.93 2367.88,999.18 2360.63,1006.43 2311.53,1006.43" fill="none" stroke="#840000" stroke-width="1.5"/>
<text x="2316.53" y="1004.22" fill="#840000" stroke="#840000" font-size="12" text-anchor="start" textLength="40.6" lengthAdjust="spacingAndGlyphs">Z26_OE</text>
<line x1="2316.53" y1="993.77" x2="2357.13" y2="993.77" stroke="#840000" stroke-width="1.2"/>
<polygon points="2311.53,1006.99 2360.63,1006.99 2367.88,1014.24 2360.63,1021.49 2311.53,1021.49" fill="none" stroke="#840000" stroke-width="1.5"/>
<text x="2316.53" y="1019.28" fill="#840000" stroke="#840000" font-size="12" text-anchor="start" textLength="40.6" lengthAdjust="spacingAndGlyphs">Z22_OE</text>
<line x1="2316.53" y1="1008.83" x2="2357.13" y2="1008.83" stroke="#840000" stroke-width="1.2"/>
<polygon points="2311.53,1022.04 2361.23,1022.04 2368.48,1029.29 2361.23,1036.54 2311.53,1036.54" fill="none" stroke="#840000" stroke-width="1.5"/>
<text x="2316.53" y="1034.33" fill="#840000" stroke="#840000" font-size="12" text-anchor="start" textLength="41.2" lengthAdjust="spacingAndGlyphs">RAM_CE</text>
<line x1="2316.53" y1="1023.89" x2="2357.73" y2="1023.89" stroke="#840000" stroke-width="1.2"/>
<polygon points="2311.53,1037.1 2422.63,1037.1 2429.88,1044.35 2422.63,1051.6 2311.53,1051.6" fill="none" stroke="#840000" stroke-width="1.5"/>
<text x="2316.53" y="1049.39" fill="#840000" stroke="#840000" font-size="12" text-anchor="start" textLength="102.6" lengthAdjust="spacingAndGlyphs">AIM_BUS_STEERING</text>
<text x="2265.6" y="913.86" fill="#006464" stroke="#006464" font-size="12" text-anchor="start" textLength="19.6" lengthAdjust="spacingAndGlyphs">U13</text>
<text x="2265.6" y="928.92" fill="#006464" stroke="#006464" font-size="12" text-anchor="start" textLength="40" lengthAdjust="spacingAndGlyphs">82S100</text>
<rect x="180.71" y="1383.18" width="120.47" height="240.94" fill="#FFFFC2" stroke="#840000" stroke-width="2.0"/>
<line x1="180.71" y1="1398.24" x2="165.65" y2="1398.24" stroke="#840000" stroke-width="1.5"/>
<text x="173.18" y="1397.39" fill="#A90000" stroke="#A90000" font-size="11.8" text-anchor="middle" textLength="6.69" lengthAdjust="spacingAndGlyphs">8</text>
<text x="185.83" y="1403.28" fill="#006464" stroke="#006464" font-size="12" text-anchor="start" textLength="13.6" lengthAdjust="spacingAndGlyphs">A0</text>
<line x1="180.71" y1="1413.29" x2="165.65" y2="1413.29" stroke="#840000" stroke-width="1.5"/>
<text x="173.18" y="1412.45" fill="#A90000" stroke="#A90000" font-size="11.8" text-anchor="middle" textLength="6.69" lengthAdjust="spacingAndGlyphs">7</text>
<text x="185.83" y="1418.33" fill="#006464" stroke="#006464" font-size="12" text-anchor="start" textLength="12.8" lengthAdjust="spacingAndGlyphs">A1</text>
<line x1="180.71" y1="1428.35" x2="165.65" y2="1428.35" stroke="#840000" stroke-width="1.5"/>
<text x="173.18" y="1427.51" fill="#A90000" stroke="#A90000" font-size="11.8" text-anchor="middle" textLength="6.69" lengthAdjust="spacingAndGlyphs">6</text>
<text x="185.83" y="1433.39" fill="#006464" stroke="#006464" font-size="12" text-anchor="start" textLength="13.6" lengthAdjust="spacingAndGlyphs">A2</text>
<line x1="180.71" y1="1443.41" x2="165.65" y2="1443.41" stroke="#840000" stroke-width="1.5"/>
<text x="173.18" y="1442.57" fill="#A90000" stroke="#A90000" font-size="11.8" text-anchor="middle" textLength="6.69" lengthAdjust="spacingAndGlyphs">5</text>
<text x="185.83" y="1448.45" fill="#006464" stroke="#006464" font-size="12" text-anchor="start" textLength="13.6" lengthAdjust="spacingAndGlyphs">A3</text>
<line x1="180.71" y1="1458.47" x2="165.65" y2="1458.47" stroke="#840000" stroke-width="1.5"/>
<text x="173.18" y="1457.63" fill="#A90000" stroke="#A90000" font-size="11.8" text-anchor="middle" textLength="6.69" lengthAdjust="spacingAndGlyphs">4</text>
<text x="185.83" y="1463.51" fill="#006464" stroke="#006464" font-size="12" text-anchor="start" textLength="13.6" lengthAdjust="spacingAndGlyphs">A4</text>
<line x1="180.71" y1="1473.53" x2="165.65" y2="1473.53" stroke="#840000" stroke-width="1.5"/>
<text x="173.18" y="1472.69" fill="#A90000" stroke="#A90000" font-size="11.8" text-anchor="middle" textLength="6.69" lengthAdjust="spacingAndGlyphs">3</text>
<text x="185.83" y="1478.57" fill="#006464" stroke="#006464" font-size="12" text-anchor="start" textLength="13.6" lengthAdjust="spacingAndGlyphs">A5</text>
<line x1="180.71" y1="1488.59" x2="165.65" y2="1488.59" stroke="#840000" stroke-width="1.5"/>
<text x="173.18" y="1487.74" fill="#A90000" stroke="#A90000" font-size="11.8" text-anchor="middle" textLength="6.69" lengthAdjust="spacingAndGlyphs">2</text>
<text x="185.83" y="1493.63" fill="#006464" stroke="#006464" font-size="12" text-anchor="start" textLength="13.6" lengthAdjust="spacingAndGlyphs">A6</text>
<line x1="180.71" y1="1503.65" x2="165.65" y2="1503.65" stroke="#840000" stroke-width="1.5"/>
<text x="173.18" y="1502.8" fill="#A90000" stroke="#A90000" font-size="11.8" text-anchor="middle" textLength="5.9" lengthAdjust="spacingAndGlyphs">1</text>
<text x="185.83" y="1508.69" fill="#006464" stroke="#006464" font-size="12" text-anchor="start" textLength="13.6" lengthAdjust="spacingAndGlyphs">A7</text>
<line x1="180.71" y1="1518.71" x2="165.65" y2="1518.71" stroke="#840000" stroke-width="1.5"/>
<text x="173.18" y="1517.86" fill="#A90000" stroke="#A90000" font-size="11.8" text-anchor="middle" textLength="13.37" lengthAdjust="spacingAndGlyphs">23</text>
<text x="185.83" y="1523.75" fill="#006464" stroke="#006464" font-size="12" text-anchor="start" textLength="13.6" lengthAdjust="spacingAndGlyphs">A8</text>
<line x1="180.71" y1="1533.76" x2="165.65" y2="1533.76" stroke="#840000" stroke-width="1.5"/>
<text x="173.18" y="1532.92" fill="#A90000" stroke="#A90000" font-size="11.8" text-anchor="middle" textLength="13.37" lengthAdjust="spacingAndGlyphs">22</text>
<text x="185.83" y="1538.8" fill="#006464" stroke="#006464" font-size="12" text-anchor="start" textLength="13.6" lengthAdjust="spacingAndGlyphs">A9</text>
<line x1="180.71" y1="1548.82" x2="165.65" y2="1548.82" stroke="#840000" stroke-width="1.5"/>
<text x="173.18" y="1547.98" fill="#A90000" stroke="#A90000" font-size="11.8" text-anchor="middle" textLength="12.59" lengthAdjust="spacingAndGlyphs">19</text>
<text x="185.83" y="1553.86" fill="#006464" stroke="#006464" font-size="12" text-anchor="start" textLength="19.6" lengthAdjust="spacingAndGlyphs">A10</text>
<line x1="180.71" y1="1563.88" x2="165.65" y2="1563.88" stroke="#840000" stroke-width="1.5"/>
<text x="173.18" y="1563.04" fill="#A90000" stroke="#A90000" font-size="11.8" text-anchor="middle" textLength="12.59" lengthAdjust="spacingAndGlyphs">18</text>
<text x="185.83" y="1568.92" fill="#006464" stroke="#006464" font-size="12" text-anchor="start" textLength="18.8" lengthAdjust="spacingAndGlyphs">A11</text>
<line x1="180.71" y1="1594" x2="165.65" y2="1594" stroke="#840000" stroke-width="1.5"/>
<text x="173.18" y="1593.16" fill="#A90000" stroke="#A90000" font-size="11.8" text-anchor="middle" textLength="12.59" lengthAdjust="spacingAndGlyphs">21</text>
<text x="185.83" y="1599.04" fill="#006464" stroke="#006464" font-size="12" text-anchor="start" textLength="20.4" lengthAdjust="spacingAndGlyphs">VPP</text>
<line x1="180.71" y1="1609.06" x2="165.65" y2="1609.06" stroke="#840000" stroke-width="1.5"/>
<text x="173.18" y="1608.21" fill="#A90000" stroke="#A90000" font-size="11.8" text-anchor="middle" textLength="13.37" lengthAdjust="spacingAndGlyphs">20</text>
<text x="185.83" y="1614.1" fill="#006464" stroke="#006464" font-size="12" text-anchor="start" textLength="13.6" lengthAdjust="spacingAndGlyphs">OE</text>
<line x1="185.83" y1="1603.65" x2="199.43" y2="1603.65" stroke="#006464" stroke-width="1.2"/>
<line x1="301.18" y1="1398.24" x2="316.24" y2="1398.24" stroke="#840000" stroke-width="1.5"/>
<text x="308.71" y="1397.39" fill="#A90000" stroke="#A90000" font-size="11.8" text-anchor="middle" textLength="6.69" lengthAdjust="spacingAndGlyphs">9</text>
<text x="296.06" y="1403.28" fill="#006464" stroke="#006464" font-size="12" text-anchor="end" textLength="13.6" lengthAdjust="spacingAndGlyphs">Q0</text>
<line x1="301.18" y1="1413.29" x2="316.24" y2="1413.29" stroke="#840000" stroke-width="1.5"/>
<text x="308.71" y="1412.45" fill="#A90000" stroke="#A90000" font-size="11.8" text-anchor="middle" textLength="12.59" lengthAdjust="spacingAndGlyphs">10</text>
<text x="296.06" y="1418.33" fill="#006464" stroke="#006464" font-size="12" text-anchor="end" textLength="12.8" lengthAdjust="spacingAndGlyphs">Q1</text>
<line x1="301.18" y1="1428.35" x2="316.24" y2="1428.35" stroke="#840000" stroke-width="1.5"/>
<text x="308.71" y="1427.51" fill="#A90000" stroke="#A90000" font-size="11.8" text-anchor="middle" textLength="11.8" lengthAdjust="spacingAndGlyphs">11</text>
<text x="296.06" y="1433.39" fill="#006464" stroke="#006464" font-size="12" text-anchor="end" textLength="13.6" lengthAdjust="spacingAndGlyphs">Q2</text>
<line x1="301.18" y1="1443.41" x2="316.24" y2="1443.41" stroke="#840000" stroke-width="1.5"/>
<text x="308.71" y="1442.57" fill="#A90000" stroke="#A90000" font-size="11.8" text-anchor="middle" textLength="12.59" lengthAdjust="spacingAndGlyphs">13</text>
<text x="296.06" y="1448.45" fill="#006464" stroke="#006464" font-size="12" text-anchor="end" textLength="13.6" lengthAdjust="spacingAndGlyphs">Q3</text>
<line x1="301.18" y1="1458.47" x2="316.24" y2="1458.47" stroke="#840000" stroke-width="1.5"/>
<text x="308.71" y="1457.63" fill="#A90000" stroke="#A90000" font-size="11.8" text-anchor="middle" textLength="12.59" lengthAdjust="spacingAndGlyphs">14</text>
<text x="296.06" y="1463.51" fill="#006464" stroke="#006464" font-size="12" text-anchor="end" textLength="13.6" lengthAdjust="spacingAndGlyphs">Q4</text>
<line x1="301.18" y1="1473.53" x2="316.24" y2="1473.53" stroke="#840000" stroke-width="1.5"/>
<text x="308.71" y="1472.69" fill="#A90000" stroke="#A90000" font-size="11.8" text-anchor="middle" textLength="12.59" lengthAdjust="spacingAndGlyphs">15</text>
<text x="296.06" y="1478.57" fill="#006464" stroke="#006464" font-size="12" text-anchor="end" textLength="13.6" lengthAdjust="spacingAndGlyphs">Q5</text>
<line x1="301.18" y1="1488.59" x2="316.24" y2="1488.59" stroke="#840000" stroke-width="1.5"/>
<text x="308.71" y="1487.74" fill="#A90000" stroke="#A90000" font-size="11.8" text-anchor="middle" textLength="12.59" lengthAdjust="spacingAndGlyphs">16</text>
<text x="296.06" y="1493.63" fill="#006464" stroke="#006464" font-size="12" text-anchor="end" textLength="13.6" lengthAdjust="spacingAndGlyphs">Q6</text>
<line x1="301.18" y1="1503.65" x2="316.24" y2="1503.65" stroke="#840000" stroke-width="1.5"/>
<text x="308.71" y="1502.8" fill="#A90000" stroke="#A90000" font-size="11.8" text-anchor="middle" textLength="12.59" lengthAdjust="spacingAndGlyphs">17</text>
<text x="296.06" y="1508.69" fill="#006464" stroke="#006464" font-size="12" text-anchor="end" textLength="13.6" lengthAdjust="spacingAndGlyphs">Q7</text>
<line x1="240.94" y1="1383.18" x2="240.94" y2="1368.12" stroke="#840000" stroke-width="1.5"/>
<text x="235.14" y="1380.6" fill="#A90000" stroke="#A90000" font-size="11.8" text-anchor="middle" textLength="13.37" lengthAdjust="spacingAndGlyphs" transform="rotate(-90 235.14 1375.65)">24</text>
<text x="240.94" y="1393.34" fill="#006464" stroke="#006464" font-size="12" text-anchor="end" textLength="20.4" lengthAdjust="spacingAndGlyphs" transform="rotate(-90 240.94 1388.3)">VCC</text>
<line x1="240.94" y1="1624.12" x2="240.94" y2="1639.18" stroke="#840000" stroke-width="1.5"/>
<text x="235.14" y="1636.6" fill="#A90000" stroke="#A90000" font-size="11.8" text-anchor="middle" textLength="12.59" lengthAdjust="spacingAndGlyphs" transform="rotate(-90 235.14 1631.65)">12</text>
<text x="240.94" y="1624.04" fill="#006464" stroke="#006464" font-size="12" text-anchor="start" textLength="20.4" lengthAdjust="spacingAndGlyphs" transform="rotate(-90 240.94 1619)">VSS</text>
<circle cx="240.94" cy="1368.12" r="3.4" fill="#009000"/>
<path d="M240.94 1368.12L240.94 1353.06M236.27 1361.57L240.94 1353.06L245.61 1361.57" fill="none" stroke="#840000" stroke-width="1.6"/>
<text x="240.94" y="1343.04" fill="#006464" stroke="#006464" font-size="12" text-anchor="middle" textLength="20.4" lengthAdjust="spacingAndGlyphs">VCC</text>
<path d="M240.94 1639.18L240.94 1646.71M233.41 1646.71L248.47 1646.71L240.94 1654.24Z" fill="none" stroke="#840000" stroke-width="1.6" stroke-linejoin="miter"/>
<text x="240.94" y="1674.33" fill="#006464" stroke="#006464" font-size="12" text-anchor="middle" textLength="20.4" lengthAdjust="spacingAndGlyphs">GND</text>
<polyline points="240.94,1368.12 120.47,1368.12 120.47,1594 165.65,1594" fill="none" stroke="#009000" stroke-width="1.7"/>
<polygon points="165.65,1398.24 158.4,1390.99 136.3,1390.99 136.3,1405.49 158.4,1405.49" fill="none" stroke="#840000" stroke-width="1.5"/>
<text x="154.9" y="1403.28" fill="#840000" stroke="#840000" font-size="12" text-anchor="end" textLength="13.6" lengthAdjust="spacingAndGlyphs">A0</text>
<polygon points="165.65,1413.29 158.4,1406.04 137.1,1406.04 137.1,1420.54 158.4,1420.54" fill="none" stroke="#840000" stroke-width="1.5"/>
<text x="154.9" y="1418.33" fill="#840000" stroke="#840000" font-size="12" text-anchor="end" textLength="12.8" lengthAdjust="spacingAndGlyphs">A1</text>
<polygon points="165.65,1428.35 158.4,1421.1 136.3,1421.1 136.3,1435.6 158.4,1435.6" fill="none" stroke="#840000" stroke-width="1.5"/>
<text x="154.9" y="1433.39" fill="#840000" stroke="#840000" font-size="12" text-anchor="end" textLength="13.6" lengthAdjust="spacingAndGlyphs">A2</text>
<polygon points="165.65,1443.41 158.4,1436.16 136.3,1436.16 136.3,1450.66 158.4,1450.66" fill="none" stroke="#840000" stroke-width="1.5"/>
<text x="154.9" y="1448.45" fill="#840000" stroke="#840000" font-size="12" text-anchor="end" textLength="13.6" lengthAdjust="spacingAndGlyphs">A3</text>
<polygon points="165.65,1458.47 158.4,1451.22 136.3,1451.22 136.3,1465.72 158.4,1465.72" fill="none" stroke="#840000" stroke-width="1.5"/>
<text x="154.9" y="1463.51" fill="#840000" stroke="#840000" font-size="12" text-anchor="end" textLength="13.6" lengthAdjust="spacingAndGlyphs">A4</text>
<polygon points="165.65,1473.53 158.4,1466.28 136.3,1466.28 136.3,1480.78 158.4,1480.78" fill="none" stroke="#840000" stroke-width="1.5"/>
<text x="154.9" y="1478.57" fill="#840000" stroke="#840000" font-size="12" text-anchor="end" textLength="13.6" lengthAdjust="spacingAndGlyphs">A5</text>
<polygon points="165.65,1488.59 158.4,1481.34 136.3,1481.34 136.3,1495.84 158.4,1495.84" fill="none" stroke="#840000" stroke-width="1.5"/>
<text x="154.9" y="1493.63" fill="#840000" stroke="#840000" font-size="12" text-anchor="end" textLength="13.6" lengthAdjust="spacingAndGlyphs">A6</text>
<polygon points="165.65,1503.65 158.4,1496.4 136.3,1496.4 136.3,1510.9 158.4,1510.9" fill="none" stroke="#840000" stroke-width="1.5"/>
<text x="154.9" y="1508.69" fill="#840000" stroke="#840000" font-size="12" text-anchor="end" textLength="13.6" lengthAdjust="spacingAndGlyphs">A7</text>
<polygon points="165.65,1518.71 158.4,1511.46 136.3,1511.46 136.3,1525.96 158.4,1525.96" fill="none" stroke="#840000" stroke-width="1.5"/>
<text x="154.9" y="1523.75" fill="#840000" stroke="#840000" font-size="12" text-anchor="end" textLength="13.6" lengthAdjust="spacingAndGlyphs">A8</text>
<polygon points="165.65,1533.76 158.4,1526.51 136.3,1526.51 136.3,1541.01 158.4,1541.01" fill="none" stroke="#840000" stroke-width="1.5"/>
<text x="154.9" y="1538.8" fill="#840000" stroke="#840000" font-size="12" text-anchor="end" textLength="13.6" lengthAdjust="spacingAndGlyphs">A9</text>
<polygon points="165.65,1548.82 158.4,1541.57 130.3,1541.57 130.3,1556.07 158.4,1556.07" fill="none" stroke="#840000" stroke-width="1.5"/>
<text x="154.9" y="1553.86" fill="#840000" stroke="#840000" font-size="12" text-anchor="end" textLength="19.6" lengthAdjust="spacingAndGlyphs">A10</text>
<polygon points="165.65,1563.88 158.4,1556.63 131.1,1556.63 131.1,1571.13 158.4,1571.13" fill="none" stroke="#840000" stroke-width="1.5"/>
<text x="154.9" y="1568.92" fill="#840000" stroke="#840000" font-size="12" text-anchor="end" textLength="18.8" lengthAdjust="spacingAndGlyphs">A11</text>
<polygon points="165.65,1609.06 158.4,1601.81 109.3,1601.81 109.3,1616.31 158.4,1616.31" fill="none" stroke="#840000" stroke-width="1.5"/>
<text x="154.9" y="1614.1" fill="#840000" stroke="#840000" font-size="12" text-anchor="end" textLength="40.6" lengthAdjust="spacingAndGlyphs">Z26_OE</text>
<line x1="114.3" y1="1603.65" x2="154.9" y2="1603.65" stroke="#840000" stroke-width="1.2"/>
<polygon points="316.24,1398.24 323.49,1390.99 344.09,1390.99 351.34,1398.24 344.09,1405.49 323.49,1405.49" fill="none" stroke="#840000" stroke-width="1.5"/>
<text x="326.99" y="1403.28" fill="#840000" stroke="#840000" font-size="12" text-anchor="start" textLength="13.6" lengthAdjust="spacingAndGlyphs">D0</text>
<polygon points="316.24,1413.29 323.49,1406.04 343.29,1406.04 350.54,1413.29 343.29,1420.54 323.49,1420.54" fill="none" stroke="#840000" stroke-width="1.5"/>
<text x="326.99" y="1418.33" fill="#840000" stroke="#840000" font-size="12" text-anchor="start" textLength="12.8" lengthAdjust="spacingAndGlyphs">D1</text>
<polygon points="316.24,1428.35 323.49,1421.1 344.09,1421.1 351.34,1428.35 344.09,1435.6 323.49,1435.6" fill="none" stroke="#840000" stroke-width="1.5"/>
<text x="326.99" y="1433.39" fill="#840000" stroke="#840000" font-size="12" text-anchor="start" textLength="13.6" lengthAdjust="spacingAndGlyphs">D2</text>
<polygon points="316.24,1443.41 323.49,1436.16 344.09,1436.16 351.34,1443.41 344.09,1450.66 323.49,1450.66" fill="none" stroke="#840000" stroke-width="1.5"/>
<text x="326.99" y="1448.45" fill="#840000" stroke="#840000" font-size="12" text-anchor="start" textLength="13.6" lengthAdjust="spacingAndGlyphs">D3</text>
<polygon points="316.24,1458.47 323.49,1451.22 344.09,1451.22 351.34,1458.47 344.09,1465.72 323.49,1465.72" fill="none" stroke="#840000" stroke-width="1.5"/>
<text x="326.99" y="1463.51" fill="#840000" stroke="#840000" font-size="12" text-anchor="start" textLength="13.6" lengthAdjust="spacingAndGlyphs">D4</text>
<polygon points="316.24,1473.53 323.49,1466.28 344.09,1466.28 351.34,1473.53 344.09,1480.78 323.49,1480.78" fill="none" stroke="#840000" stroke-width="1.5"/>
<text x="326.99" y="1478.57" fill="#840000" stroke="#840000" font-size="12" text-anchor="start" textLength="13.6" lengthAdjust="spacingAndGlyphs">D5</text>
<polygon points="316.24,1488.59 323.49,1481.34 344.09,1481.34 351.34,1488.59 344.09,1495.84 323.49,1495.84" fill="none" stroke="#840000" stroke-width="1.5"/>
<text x="326.99" y="1493.63" fill="#840000" stroke="#840000" font-size="12" text-anchor="start" textLength="13.6" lengthAdjust="spacingAndGlyphs">D6</text>
<polygon points="316.24,1503.65 323.49,1496.4 344.09,1496.4 351.34,1503.65 344.09,1510.9 323.49,1510.9" fill="none" stroke="#840000" stroke-width="1.5"/>
<text x="326.99" y="1508.69" fill="#840000" stroke="#840000" font-size="12" text-anchor="start" textLength="13.6" lengthAdjust="spacingAndGlyphs">D7</text>
<text x="254.49" y="1358.7" fill="#006464" stroke="#006464" font-size="12" text-anchor="start" textLength="20.4" lengthAdjust="spacingAndGlyphs">Z26</text>
<text x="254.49" y="1372.4" fill="#006464" stroke="#006464" font-size="12" text-anchor="start" textLength="67.8" lengthAdjust="spacingAndGlyphs">TMS2532-45</text>
<text x="242.82" y="1496.01" fill="#1a1ab4" stroke="#1a1ab4" font-size="10.5" text-anchor="middle" textLength="23.62" lengthAdjust="spacingAndGlyphs">M91B</text>
<rect x="617.41" y="1383.18" width="120.47" height="240.94" fill="#FFFFC2" stroke="#840000" stroke-width="2.0"/>
<line x1="617.41" y1="1398.24" x2="602.35" y2="1398.24" stroke="#840000" stroke-width="1.5"/>
<text x="609.88" y="1397.39" fill="#A90000" stroke="#A90000" font-size="11.8" text-anchor="middle" textLength="6.69" lengthAdjust="spacingAndGlyphs">8</text>
<text x="622.53" y="1403.28" fill="#006464" stroke="#006464" font-size="12" text-anchor="start" textLength="13.6" lengthAdjust="spacingAndGlyphs">A0</text>
<line x1="617.41" y1="1413.29" x2="602.35" y2="1413.29" stroke="#840000" stroke-width="1.5"/>
<text x="609.88" y="1412.45" fill="#A90000" stroke="#A90000" font-size="11.8" text-anchor="middle" textLength="6.69" lengthAdjust="spacingAndGlyphs">7</text>
<text x="622.53" y="1418.33" fill="#006464" stroke="#006464" font-size="12" text-anchor="start" textLength="12.8" lengthAdjust="spacingAndGlyphs">A1</text>
<line x1="617.41" y1="1428.35" x2="602.35" y2="1428.35" stroke="#840000" stroke-width="1.5"/>
<text x="609.88" y="1427.51" fill="#A90000" stroke="#A90000" font-size="11.8" text-anchor="middle" textLength="6.69" lengthAdjust="spacingAndGlyphs">6</text>
<text x="622.53" y="1433.39" fill="#006464" stroke="#006464" font-size="12" text-anchor="start" textLength="13.6" lengthAdjust="spacingAndGlyphs">A2</text>
<line x1="617.41" y1="1443.41" x2="602.35" y2="1443.41" stroke="#840000" stroke-width="1.5"/>
<text x="609.88" y="1442.57" fill="#A90000" stroke="#A90000" font-size="11.8" text-anchor="middle" textLength="6.69" lengthAdjust="spacingAndGlyphs">5</text>
<text x="622.53" y="1448.45" fill="#006464" stroke="#006464" font-size="12" text-anchor="start" textLength="13.6" lengthAdjust="spacingAndGlyphs">A3</text>
<line x1="617.41" y1="1458.47" x2="602.35" y2="1458.47" stroke="#840000" stroke-width="1.5"/>
<text x="609.88" y="1457.63" fill="#A90000" stroke="#A90000" font-size="11.8" text-anchor="middle" textLength="6.69" lengthAdjust="spacingAndGlyphs">4</text>
<text x="622.53" y="1463.51" fill="#006464" stroke="#006464" font-size="12" text-anchor="start" textLength="13.6" lengthAdjust="spacingAndGlyphs">A4</text>
<line x1="617.41" y1="1473.53" x2="602.35" y2="1473.53" stroke="#840000" stroke-width="1.5"/>
<text x="609.88" y="1472.69" fill="#A90000" stroke="#A90000" font-size="11.8" text-anchor="middle" textLength="6.69" lengthAdjust="spacingAndGlyphs">3</text>
<text x="622.53" y="1478.57" fill="#006464" stroke="#006464" font-size="12" text-anchor="start" textLength="13.6" lengthAdjust="spacingAndGlyphs">A5</text>
<line x1="617.41" y1="1488.59" x2="602.35" y2="1488.59" stroke="#840000" stroke-width="1.5"/>
<text x="609.88" y="1487.74" fill="#A90000" stroke="#A90000" font-size="11.8" text-anchor="middle" textLength="6.69" lengthAdjust="spacingAndGlyphs">2</text>
<text x="622.53" y="1493.63" fill="#006464" stroke="#006464" font-size="12" text-anchor="start" textLength="13.6" lengthAdjust="spacingAndGlyphs">A6</text>
<line x1="617.41" y1="1503.65" x2="602.35" y2="1503.65" stroke="#840000" stroke-width="1.5"/>
<text x="609.88" y="1502.8" fill="#A90000" stroke="#A90000" font-size="11.8" text-anchor="middle" textLength="5.9" lengthAdjust="spacingAndGlyphs">1</text>
<text x="622.53" y="1508.69" fill="#006464" stroke="#006464" font-size="12" text-anchor="start" textLength="13.6" lengthAdjust="spacingAndGlyphs">A7</text>
<line x1="617.41" y1="1518.71" x2="602.35" y2="1518.71" stroke="#840000" stroke-width="1.5"/>
<text x="609.88" y="1517.86" fill="#A90000" stroke="#A90000" font-size="11.8" text-anchor="middle" textLength="13.37" lengthAdjust="spacingAndGlyphs">23</text>
<text x="622.53" y="1523.75" fill="#006464" stroke="#006464" font-size="12" text-anchor="start" textLength="13.6" lengthAdjust="spacingAndGlyphs">A8</text>
<line x1="617.41" y1="1533.76" x2="602.35" y2="1533.76" stroke="#840000" stroke-width="1.5"/>
<text x="609.88" y="1532.92" fill="#A90000" stroke="#A90000" font-size="11.8" text-anchor="middle" textLength="13.37" lengthAdjust="spacingAndGlyphs">22</text>
<text x="622.53" y="1538.8" fill="#006464" stroke="#006464" font-size="12" text-anchor="start" textLength="13.6" lengthAdjust="spacingAndGlyphs">A9</text>
<line x1="617.41" y1="1548.82" x2="602.35" y2="1548.82" stroke="#840000" stroke-width="1.5"/>
<text x="609.88" y="1547.98" fill="#A90000" stroke="#A90000" font-size="11.8" text-anchor="middle" textLength="12.59" lengthAdjust="spacingAndGlyphs">19</text>
<text x="622.53" y="1553.86" fill="#006464" stroke="#006464" font-size="12" text-anchor="start" textLength="19.6" lengthAdjust="spacingAndGlyphs">A10</text>
<line x1="617.41" y1="1563.88" x2="602.35" y2="1563.88" stroke="#840000" stroke-width="1.5"/>
<text x="609.88" y="1563.04" fill="#A90000" stroke="#A90000" font-size="11.8" text-anchor="middle" textLength="12.59" lengthAdjust="spacingAndGlyphs">18</text>
<text x="622.53" y="1568.92" fill="#006464" stroke="#006464" font-size="12" text-anchor="start" textLength="18.8" lengthAdjust="spacingAndGlyphs">A11</text>
<line x1="617.41" y1="1594" x2="602.35" y2="1594" stroke="#840000" stroke-width="1.5"/>
<text x="609.88" y="1593.16" fill="#A90000" stroke="#A90000" font-size="11.8" text-anchor="middle" textLength="12.59" lengthAdjust="spacingAndGlyphs">21</text>
<text x="622.53" y="1599.04" fill="#006464" stroke="#006464" font-size="12" text-anchor="start" textLength="20.4" lengthAdjust="spacingAndGlyphs">VPP</text>
<line x1="617.41" y1="1609.06" x2="602.35" y2="1609.06" stroke="#840000" stroke-width="1.5"/>
<text x="609.88" y="1608.21" fill="#A90000" stroke="#A90000" font-size="11.8" text-anchor="middle" textLength="13.37" lengthAdjust="spacingAndGlyphs">20</text>
<text x="622.53" y="1614.1" fill="#006464" stroke="#006464" font-size="12" text-anchor="start" textLength="13.6" lengthAdjust="spacingAndGlyphs">OE</text>
<line x1="622.53" y1="1603.65" x2="636.13" y2="1603.65" stroke="#006464" stroke-width="1.2"/>
<line x1="737.88" y1="1398.24" x2="752.94" y2="1398.24" stroke="#840000" stroke-width="1.5"/>
<text x="745.41" y="1397.39" fill="#A90000" stroke="#A90000" font-size="11.8" text-anchor="middle" textLength="6.69" lengthAdjust="spacingAndGlyphs">9</text>
<text x="732.76" y="1403.28" fill="#006464" stroke="#006464" font-size="12" text-anchor="end" textLength="13.6" lengthAdjust="spacingAndGlyphs">Q0</text>
<line x1="737.88" y1="1413.29" x2="752.94" y2="1413.29" stroke="#840000" stroke-width="1.5"/>
<text x="745.41" y="1412.45" fill="#A90000" stroke="#A90000" font-size="11.8" text-anchor="middle" textLength="12.59" lengthAdjust="spacingAndGlyphs">10</text>
<text x="732.76" y="1418.33" fill="#006464" stroke="#006464" font-size="12" text-anchor="end" textLength="12.8" lengthAdjust="spacingAndGlyphs">Q1</text>
<line x1="737.88" y1="1428.35" x2="752.94" y2="1428.35" stroke="#840000" stroke-width="1.5"/>
<text x="745.41" y="1427.51" fill="#A90000" stroke="#A90000" font-size="11.8" text-anchor="middle" textLength="11.8" lengthAdjust="spacingAndGlyphs">11</text>
<text x="732.76" y="1433.39" fill="#006464" stroke="#006464" font-size="12" text-anchor="end" textLength="13.6" lengthAdjust="spacingAndGlyphs">Q2</text>
<line x1="737.88" y1="1443.41" x2="752.94" y2="1443.41" stroke="#840000" stroke-width="1.5"/>
<text x="745.41" y="1442.57" fill="#A90000" stroke="#A90000" font-size="11.8" text-anchor="middle" textLength="12.59" lengthAdjust="spacingAndGlyphs">13</text>
<text x="732.76" y="1448.45" fill="#006464" stroke="#006464" font-size="12" text-anchor="end" textLength="13.6" lengthAdjust="spacingAndGlyphs">Q3</text>
<line x1="737.88" y1="1458.47" x2="752.94" y2="1458.47" stroke="#840000" stroke-width="1.5"/>
<text x="745.41" y="1457.63" fill="#A90000" stroke="#A90000" font-size="11.8" text-anchor="middle" textLength="12.59" lengthAdjust="spacingAndGlyphs">14</text>
<text x="732.76" y="1463.51" fill="#006464" stroke="#006464" font-size="12" text-anchor="end" textLength="13.6" lengthAdjust="spacingAndGlyphs">Q4</text>
<line x1="737.88" y1="1473.53" x2="752.94" y2="1473.53" stroke="#840000" stroke-width="1.5"/>
<text x="745.41" y="1472.69" fill="#A90000" stroke="#A90000" font-size="11.8" text-anchor="middle" textLength="12.59" lengthAdjust="spacingAndGlyphs">15</text>
<text x="732.76" y="1478.57" fill="#006464" stroke="#006464" font-size="12" text-anchor="end" textLength="13.6" lengthAdjust="spacingAndGlyphs">Q5</text>
<line x1="737.88" y1="1488.59" x2="752.94" y2="1488.59" stroke="#840000" stroke-width="1.5"/>
<text x="745.41" y="1487.74" fill="#A90000" stroke="#A90000" font-size="11.8" text-anchor="middle" textLength="12.59" lengthAdjust="spacingAndGlyphs">16</text>
<text x="732.76" y="1493.63" fill="#006464" stroke="#006464" font-size="12" text-anchor="end" textLength="13.6" lengthAdjust="spacingAndGlyphs">Q6</text>
<line x1="737.88" y1="1503.65" x2="752.94" y2="1503.65" stroke="#840000" stroke-width="1.5"/>
<text x="745.41" y="1502.8" fill="#A90000" stroke="#A90000" font-size="11.8" text-anchor="middle" textLength="12.59" lengthAdjust="spacingAndGlyphs">17</text>
<text x="732.76" y="1508.69" fill="#006464" stroke="#006464" font-size="12" text-anchor="end" textLength="13.6" lengthAdjust="spacingAndGlyphs">Q7</text>
<line x1="677.65" y1="1383.18" x2="677.65" y2="1368.12" stroke="#840000" stroke-width="1.5"/>
<text x="671.85" y="1380.6" fill="#A90000" stroke="#A90000" font-size="11.8" text-anchor="middle" textLength="13.37" lengthAdjust="spacingAndGlyphs" transform="rotate(-90 671.85 1375.65)">24</text>
<text x="677.65" y="1393.34" fill="#006464" stroke="#006464" font-size="12" text-anchor="end" textLength="20.4" lengthAdjust="spacingAndGlyphs" transform="rotate(-90 677.65 1388.3)">VCC</text>
<line x1="677.65" y1="1624.12" x2="677.65" y2="1639.18" stroke="#840000" stroke-width="1.5"/>
<text x="671.85" y="1636.6" fill="#A90000" stroke="#A90000" font-size="11.8" text-anchor="middle" textLength="12.59" lengthAdjust="spacingAndGlyphs" transform="rotate(-90 671.85 1631.65)">12</text>
<text x="677.65" y="1624.04" fill="#006464" stroke="#006464" font-size="12" text-anchor="start" textLength="20.4" lengthAdjust="spacingAndGlyphs" transform="rotate(-90 677.65 1619)">VSS</text>
<circle cx="677.65" cy="1368.12" r="3.4" fill="#009000"/>
<path d="M677.65 1368.12L677.65 1353.06M672.98 1361.57L677.65 1353.06L682.32 1361.57" fill="none" stroke="#840000" stroke-width="1.6"/>
<text x="677.65" y="1343.04" fill="#006464" stroke="#006464" font-size="12" text-anchor="middle" textLength="20.4" lengthAdjust="spacingAndGlyphs">VCC</text>
<path d="M677.65 1639.18L677.65 1646.71M670.12 1646.71L685.18 1646.71L677.65 1654.24Z" fill="none" stroke="#840000" stroke-width="1.6" stroke-linejoin="miter"/>
<text x="677.65" y="1674.33" fill="#006464" stroke="#006464" font-size="12" text-anchor="middle" textLength="20.4" lengthAdjust="spacingAndGlyphs">GND</text>
<polyline points="677.65,1368.12 557.18,1368.12 557.18,1594 602.35,1594" fill="none" stroke="#009000" stroke-width="1.7"/>
<polygon points="602.35,1398.24 595.1,1390.99 573,1390.99 573,1405.49 595.1,1405.49" fill="none" stroke="#840000" stroke-width="1.5"/>
<text x="591.6" y="1403.28" fill="#840000" stroke="#840000" font-size="12" text-anchor="end" textLength="13.6" lengthAdjust="spacingAndGlyphs">A0</text>
<polygon points="602.35,1413.29 595.1,1406.04 573.8,1406.04 573.8,1420.54 595.1,1420.54" fill="none" stroke="#840000" stroke-width="1.5"/>
<text x="591.6" y="1418.33" fill="#840000" stroke="#840000" font-size="12" text-anchor="end" textLength="12.8" lengthAdjust="spacingAndGlyphs">A1</text>
<polygon points="602.35,1428.35 595.1,1421.1 573,1421.1 573,1435.6 595.1,1435.6" fill="none" stroke="#840000" stroke-width="1.5"/>
<text x="591.6" y="1433.39" fill="#840000" stroke="#840000" font-size="12" text-anchor="end" textLength="13.6" lengthAdjust="spacingAndGlyphs">A2</text>
<polygon points="602.35,1443.41 595.1,1436.16 573,1436.16 573,1450.66 595.1,1450.66" fill="none" stroke="#840000" stroke-width="1.5"/>
<text x="591.6" y="1448.45" fill="#840000" stroke="#840000" font-size="12" text-anchor="end" textLength="13.6" lengthAdjust="spacingAndGlyphs">A3</text>
<polygon points="602.35,1458.47 595.1,1451.22 573,1451.22 573,1465.72 595.1,1465.72" fill="none" stroke="#840000" stroke-width="1.5"/>
<text x="591.6" y="1463.51" fill="#840000" stroke="#840000" font-size="12" text-anchor="end" textLength="13.6" lengthAdjust="spacingAndGlyphs">A4</text>
<polygon points="602.35,1473.53 595.1,1466.28 573,1466.28 573,1480.78 595.1,1480.78" fill="none" stroke="#840000" stroke-width="1.5"/>
<text x="591.6" y="1478.57" fill="#840000" stroke="#840000" font-size="12" text-anchor="end" textLength="13.6" lengthAdjust="spacingAndGlyphs">A5</text>
<polygon points="602.35,1488.59 595.1,1481.34 573,1481.34 573,1495.84 595.1,1495.84" fill="none" stroke="#840000" stroke-width="1.5"/>
<text x="591.6" y="1493.63" fill="#840000" stroke="#840000" font-size="12" text-anchor="end" textLength="13.6" lengthAdjust="spacingAndGlyphs">A6</text>
<polygon points="602.35,1503.65 595.1,1496.4 573,1496.4 573,1510.9 595.1,1510.9" fill="none" stroke="#840000" stroke-width="1.5"/>
<text x="591.6" y="1508.69" fill="#840000" stroke="#840000" font-size="12" text-anchor="end" textLength="13.6" lengthAdjust="spacingAndGlyphs">A7</text>
<polygon points="602.35,1518.71 595.1,1511.46 573,1511.46 573,1525.96 595.1,1525.96" fill="none" stroke="#840000" stroke-width="1.5"/>
<text x="591.6" y="1523.75" fill="#840000" stroke="#840000" font-size="12" text-anchor="end" textLength="13.6" lengthAdjust="spacingAndGlyphs">A8</text>
<polygon points="602.35,1533.76 595.1,1526.51 573,1526.51 573,1541.01 595.1,1541.01" fill="none" stroke="#840000" stroke-width="1.5"/>
<text x="591.6" y="1538.8" fill="#840000" stroke="#840000" font-size="12" text-anchor="end" textLength="13.6" lengthAdjust="spacingAndGlyphs">A9</text>
<polygon points="602.35,1548.82 595.1,1541.57 567,1541.57 567,1556.07 595.1,1556.07" fill="none" stroke="#840000" stroke-width="1.5"/>
<text x="591.6" y="1553.86" fill="#840000" stroke="#840000" font-size="12" text-anchor="end" textLength="19.6" lengthAdjust="spacingAndGlyphs">A10</text>
<polygon points="602.35,1563.88 595.1,1556.63 567.8,1556.63 567.8,1571.13 595.1,1571.13" fill="none" stroke="#840000" stroke-width="1.5"/>
<text x="591.6" y="1568.92" fill="#840000" stroke="#840000" font-size="12" text-anchor="end" textLength="18.8" lengthAdjust="spacingAndGlyphs">A11</text>
<polygon points="602.35,1609.06 595.1,1601.81 546,1601.81 546,1616.31 595.1,1616.31" fill="none" stroke="#840000" stroke-width="1.5"/>
<text x="591.6" y="1614.1" fill="#840000" stroke="#840000" font-size="12" text-anchor="end" textLength="40.6" lengthAdjust="spacingAndGlyphs">Z25_OE</text>
<line x1="551" y1="1603.65" x2="591.6" y2="1603.65" stroke="#840000" stroke-width="1.2"/>
<polygon points="752.94,1398.24 760.19,1390.99 780.79,1390.99 788.04,1398.24 780.79,1405.49 760.19,1405.49" fill="none" stroke="#840000" stroke-width="1.5"/>
<text x="763.69" y="1403.28" fill="#840000" stroke="#840000" font-size="12" text-anchor="start" textLength="13.6" lengthAdjust="spacingAndGlyphs">D0</text>
<polygon points="752.94,1413.29 760.19,1406.04 779.99,1406.04 787.24,1413.29 779.99,1420.54 760.19,1420.54" fill="none" stroke="#840000" stroke-width="1.5"/>
<text x="763.69" y="1418.33" fill="#840000" stroke="#840000" font-size="12" text-anchor="start" textLength="12.8" lengthAdjust="spacingAndGlyphs">D1</text>
<polygon points="752.94,1428.35 760.19,1421.1 780.79,1421.1 788.04,1428.35 780.79,1435.6 760.19,1435.6" fill="none" stroke="#840000" stroke-width="1.5"/>
<text x="763.69" y="1433.39" fill="#840000" stroke="#840000" font-size="12" text-anchor="start" textLength="13.6" lengthAdjust="spacingAndGlyphs">D2</text>
<polygon points="752.94,1443.41 760.19,1436.16 780.79,1436.16 788.04,1443.41 780.79,1450.66 760.19,1450.66" fill="none" stroke="#840000" stroke-width="1.5"/>
<text x="763.69" y="1448.45" fill="#840000" stroke="#840000" font-size="12" text-anchor="start" textLength="13.6" lengthAdjust="spacingAndGlyphs">D3</text>
<polygon points="752.94,1458.47 760.19,1451.22 780.79,1451.22 788.04,1458.47 780.79,1465.72 760.19,1465.72" fill="none" stroke="#840000" stroke-width="1.5"/>
<text x="763.69" y="1463.51" fill="#840000" stroke="#840000" font-size="12" text-anchor="start" textLength="13.6" lengthAdjust="spacingAndGlyphs">D4</text>
<polygon points="752.94,1473.53 760.19,1466.28 780.79,1466.28 788.04,1473.53 780.79,1480.78 760.19,1480.78" fill="none" stroke="#840000" stroke-width="1.5"/>
<text x="763.69" y="1478.57" fill="#840000" stroke="#840000" font-size="12" text-anchor="start" textLength="13.6" lengthAdjust="spacingAndGlyphs">D5</text>
<polygon points="752.94,1488.59 760.19,1481.34 780.79,1481.34 788.04,1488.59 780.79,1495.84 760.19,1495.84" fill="none" stroke="#840000" stroke-width="1.5"/>
<text x="763.69" y="1493.63" fill="#840000" stroke="#840000" font-size="12" text-anchor="start" textLength="13.6" lengthAdjust="spacingAndGlyphs">D6</text>
<polygon points="752.94,1503.65 760.19,1496.4 780.79,1496.4 788.04,1503.65 780.79,1510.9 760.19,1510.9" fill="none" stroke="#840000" stroke-width="1.5"/>
<text x="763.69" y="1508.69" fill="#840000" stroke="#840000" font-size="12" text-anchor="start" textLength="13.6" lengthAdjust="spacingAndGlyphs">D7</text>
<text x="691.2" y="1358.7" fill="#006464" stroke="#006464" font-size="12" text-anchor="start" textLength="20.4" lengthAdjust="spacingAndGlyphs">Z25</text>
<text x="691.2" y="1372.4" fill="#006464" stroke="#006464" font-size="12" text-anchor="start" textLength="67.8" lengthAdjust="spacingAndGlyphs">TMS2532-45</text>
<text x="679.53" y="1496.01" fill="#1a1ab4" stroke="#1a1ab4" font-size="10.5" text-anchor="middle" textLength="23.62" lengthAdjust="spacingAndGlyphs">M91C</text>
<rect x="1046.59" y="1383.18" width="120.47" height="240.94" fill="#FFFFC2" stroke="#840000" stroke-width="2.0"/>
<line x1="1046.59" y1="1398.24" x2="1031.53" y2="1398.24" stroke="#840000" stroke-width="1.5"/>
<text x="1039.06" y="1397.39" fill="#A90000" stroke="#A90000" font-size="11.8" text-anchor="middle" textLength="6.69" lengthAdjust="spacingAndGlyphs">8</text>
<text x="1051.71" y="1403.28" fill="#006464" stroke="#006464" font-size="12" text-anchor="start" textLength="13.6" lengthAdjust="spacingAndGlyphs">A0</text>
<line x1="1046.59" y1="1413.29" x2="1031.53" y2="1413.29" stroke="#840000" stroke-width="1.5"/>
<text x="1039.06" y="1412.45" fill="#A90000" stroke="#A90000" font-size="11.8" text-anchor="middle" textLength="6.69" lengthAdjust="spacingAndGlyphs">7</text>
<text x="1051.71" y="1418.33" fill="#006464" stroke="#006464" font-size="12" text-anchor="start" textLength="12.8" lengthAdjust="spacingAndGlyphs">A1</text>
<line x1="1046.59" y1="1428.35" x2="1031.53" y2="1428.35" stroke="#840000" stroke-width="1.5"/>
<text x="1039.06" y="1427.51" fill="#A90000" stroke="#A90000" font-size="11.8" text-anchor="middle" textLength="6.69" lengthAdjust="spacingAndGlyphs">6</text>
<text x="1051.71" y="1433.39" fill="#006464" stroke="#006464" font-size="12" text-anchor="start" textLength="13.6" lengthAdjust="spacingAndGlyphs">A2</text>
<line x1="1046.59" y1="1443.41" x2="1031.53" y2="1443.41" stroke="#840000" stroke-width="1.5"/>
<text x="1039.06" y="1442.57" fill="#A90000" stroke="#A90000" font-size="11.8" text-anchor="middle" textLength="6.69" lengthAdjust="spacingAndGlyphs">5</text>
<text x="1051.71" y="1448.45" fill="#006464" stroke="#006464" font-size="12" text-anchor="start" textLength="13.6" lengthAdjust="spacingAndGlyphs">A3</text>
<line x1="1046.59" y1="1458.47" x2="1031.53" y2="1458.47" stroke="#840000" stroke-width="1.5"/>
<text x="1039.06" y="1457.63" fill="#A90000" stroke="#A90000" font-size="11.8" text-anchor="middle" textLength="6.69" lengthAdjust="spacingAndGlyphs">4</text>
<text x="1051.71" y="1463.51" fill="#006464" stroke="#006464" font-size="12" text-anchor="start" textLength="13.6" lengthAdjust="spacingAndGlyphs">A4</text>
<line x1="1046.59" y1="1473.53" x2="1031.53" y2="1473.53" stroke="#840000" stroke-width="1.5"/>
<text x="1039.06" y="1472.69" fill="#A90000" stroke="#A90000" font-size="11.8" text-anchor="middle" textLength="6.69" lengthAdjust="spacingAndGlyphs">3</text>
<text x="1051.71" y="1478.57" fill="#006464" stroke="#006464" font-size="12" text-anchor="start" textLength="13.6" lengthAdjust="spacingAndGlyphs">A5</text>
<line x1="1046.59" y1="1488.59" x2="1031.53" y2="1488.59" stroke="#840000" stroke-width="1.5"/>
<text x="1039.06" y="1487.74" fill="#A90000" stroke="#A90000" font-size="11.8" text-anchor="middle" textLength="6.69" lengthAdjust="spacingAndGlyphs">2</text>
<text x="1051.71" y="1493.63" fill="#006464" stroke="#006464" font-size="12" text-anchor="start" textLength="13.6" lengthAdjust="spacingAndGlyphs">A6</text>
<line x1="1046.59" y1="1503.65" x2="1031.53" y2="1503.65" stroke="#840000" stroke-width="1.5"/>
<text x="1039.06" y="1502.8" fill="#A90000" stroke="#A90000" font-size="11.8" text-anchor="middle" textLength="5.9" lengthAdjust="spacingAndGlyphs">1</text>
<text x="1051.71" y="1508.69" fill="#006464" stroke="#006464" font-size="12" text-anchor="start" textLength="13.6" lengthAdjust="spacingAndGlyphs">A7</text>
<line x1="1046.59" y1="1518.71" x2="1031.53" y2="1518.71" stroke="#840000" stroke-width="1.5"/>
<text x="1039.06" y="1517.86" fill="#A90000" stroke="#A90000" font-size="11.8" text-anchor="middle" textLength="13.37" lengthAdjust="spacingAndGlyphs">23</text>
<text x="1051.71" y="1523.75" fill="#006464" stroke="#006464" font-size="12" text-anchor="start" textLength="13.6" lengthAdjust="spacingAndGlyphs">A8</text>
<line x1="1046.59" y1="1533.76" x2="1031.53" y2="1533.76" stroke="#840000" stroke-width="1.5"/>
<text x="1039.06" y="1532.92" fill="#A90000" stroke="#A90000" font-size="11.8" text-anchor="middle" textLength="13.37" lengthAdjust="spacingAndGlyphs">22</text>
<text x="1051.71" y="1538.8" fill="#006464" stroke="#006464" font-size="12" text-anchor="start" textLength="13.6" lengthAdjust="spacingAndGlyphs">A9</text>
<line x1="1046.59" y1="1548.82" x2="1031.53" y2="1548.82" stroke="#840000" stroke-width="1.5"/>
<text x="1039.06" y="1547.98" fill="#A90000" stroke="#A90000" font-size="11.8" text-anchor="middle" textLength="12.59" lengthAdjust="spacingAndGlyphs">19</text>
<text x="1051.71" y="1553.86" fill="#006464" stroke="#006464" font-size="12" text-anchor="start" textLength="19.6" lengthAdjust="spacingAndGlyphs">A10</text>
<line x1="1046.59" y1="1563.88" x2="1031.53" y2="1563.88" stroke="#840000" stroke-width="1.5"/>
<text x="1039.06" y="1563.04" fill="#A90000" stroke="#A90000" font-size="11.8" text-anchor="middle" textLength="12.59" lengthAdjust="spacingAndGlyphs">18</text>
<text x="1051.71" y="1568.92" fill="#006464" stroke="#006464" font-size="12" text-anchor="start" textLength="18.8" lengthAdjust="spacingAndGlyphs">A11</text>
<line x1="1046.59" y1="1594" x2="1031.53" y2="1594" stroke="#840000" stroke-width="1.5"/>
<text x="1039.06" y="1593.16" fill="#A90000" stroke="#A90000" font-size="11.8" text-anchor="middle" textLength="12.59" lengthAdjust="spacingAndGlyphs">21</text>
<text x="1051.71" y="1599.04" fill="#006464" stroke="#006464" font-size="12" text-anchor="start" textLength="20.4" lengthAdjust="spacingAndGlyphs">VPP</text>
<line x1="1046.59" y1="1609.06" x2="1031.53" y2="1609.06" stroke="#840000" stroke-width="1.5"/>
<text x="1039.06" y="1608.21" fill="#A90000" stroke="#A90000" font-size="11.8" text-anchor="middle" textLength="13.37" lengthAdjust="spacingAndGlyphs">20</text>
<text x="1051.71" y="1614.1" fill="#006464" stroke="#006464" font-size="12" text-anchor="start" textLength="13.6" lengthAdjust="spacingAndGlyphs">OE</text>
<line x1="1051.71" y1="1603.65" x2="1065.31" y2="1603.65" stroke="#006464" stroke-width="1.2"/>
<line x1="1167.06" y1="1398.24" x2="1182.12" y2="1398.24" stroke="#840000" stroke-width="1.5"/>
<text x="1174.59" y="1397.39" fill="#A90000" stroke="#A90000" font-size="11.8" text-anchor="middle" textLength="6.69" lengthAdjust="spacingAndGlyphs">9</text>
<text x="1161.94" y="1403.28" fill="#006464" stroke="#006464" font-size="12" text-anchor="end" textLength="13.6" lengthAdjust="spacingAndGlyphs">Q0</text>
<line x1="1167.06" y1="1413.29" x2="1182.12" y2="1413.29" stroke="#840000" stroke-width="1.5"/>
<text x="1174.59" y="1412.45" fill="#A90000" stroke="#A90000" font-size="11.8" text-anchor="middle" textLength="12.59" lengthAdjust="spacingAndGlyphs">10</text>
<text x="1161.94" y="1418.33" fill="#006464" stroke="#006464" font-size="12" text-anchor="end" textLength="12.8" lengthAdjust="spacingAndGlyphs">Q1</text>
<line x1="1167.06" y1="1428.35" x2="1182.12" y2="1428.35" stroke="#840000" stroke-width="1.5"/>
<text x="1174.59" y="1427.51" fill="#A90000" stroke="#A90000" font-size="11.8" text-anchor="middle" textLength="11.8" lengthAdjust="spacingAndGlyphs">11</text>
<text x="1161.94" y="1433.39" fill="#006464" stroke="#006464" font-size="12" text-anchor="end" textLength="13.6" lengthAdjust="spacingAndGlyphs">Q2</text>
<line x1="1167.06" y1="1443.41" x2="1182.12" y2="1443.41" stroke="#840000" stroke-width="1.5"/>
<text x="1174.59" y="1442.57" fill="#A90000" stroke="#A90000" font-size="11.8" text-anchor="middle" textLength="12.59" lengthAdjust="spacingAndGlyphs">13</text>
<text x="1161.94" y="1448.45" fill="#006464" stroke="#006464" font-size="12" text-anchor="end" textLength="13.6" lengthAdjust="spacingAndGlyphs">Q3</text>
<line x1="1167.06" y1="1458.47" x2="1182.12" y2="1458.47" stroke="#840000" stroke-width="1.5"/>
<text x="1174.59" y="1457.63" fill="#A90000" stroke="#A90000" font-size="11.8" text-anchor="middle" textLength="12.59" lengthAdjust="spacingAndGlyphs">14</text>
<text x="1161.94" y="1463.51" fill="#006464" stroke="#006464" font-size="12" text-anchor="end" textLength="13.6" lengthAdjust="spacingAndGlyphs">Q4</text>
<line x1="1167.06" y1="1473.53" x2="1182.12" y2="1473.53" stroke="#840000" stroke-width="1.5"/>
<text x="1174.59" y="1472.69" fill="#A90000" stroke="#A90000" font-size="11.8" text-anchor="middle" textLength="12.59" lengthAdjust="spacingAndGlyphs">15</text>
<text x="1161.94" y="1478.57" fill="#006464" stroke="#006464" font-size="12" text-anchor="end" textLength="13.6" lengthAdjust="spacingAndGlyphs">Q5</text>
<line x1="1167.06" y1="1488.59" x2="1182.12" y2="1488.59" stroke="#840000" stroke-width="1.5"/>
<text x="1174.59" y="1487.74" fill="#A90000" stroke="#A90000" font-size="11.8" text-anchor="middle" textLength="12.59" lengthAdjust="spacingAndGlyphs">16</text>
<text x="1161.94" y="1493.63" fill="#006464" stroke="#006464" font-size="12" text-anchor="end" textLength="13.6" lengthAdjust="spacingAndGlyphs">Q6</text>
<line x1="1167.06" y1="1503.65" x2="1182.12" y2="1503.65" stroke="#840000" stroke-width="1.5"/>
<text x="1174.59" y="1502.8" fill="#A90000" stroke="#A90000" font-size="11.8" text-anchor="middle" textLength="12.59" lengthAdjust="spacingAndGlyphs">17</text>
<text x="1161.94" y="1508.69" fill="#006464" stroke="#006464" font-size="12" text-anchor="end" textLength="13.6" lengthAdjust="spacingAndGlyphs">Q7</text>
<line x1="1106.82" y1="1383.18" x2="1106.82" y2="1368.12" stroke="#840000" stroke-width="1.5"/>
<text x="1101.02" y="1380.6" fill="#A90000" stroke="#A90000" font-size="11.8" text-anchor="middle" textLength="13.37" lengthAdjust="spacingAndGlyphs" transform="rotate(-90 1101.02 1375.65)">24</text>
<text x="1106.82" y="1393.34" fill="#006464" stroke="#006464" font-size="12" text-anchor="end" textLength="20.4" lengthAdjust="spacingAndGlyphs" transform="rotate(-90 1106.82 1388.3)">VCC</text>
<line x1="1106.82" y1="1624.12" x2="1106.82" y2="1639.18" stroke="#840000" stroke-width="1.5"/>
<text x="1101.02" y="1636.6" fill="#A90000" stroke="#A90000" font-size="11.8" text-anchor="middle" textLength="12.59" lengthAdjust="spacingAndGlyphs" transform="rotate(-90 1101.02 1631.65)">12</text>
<text x="1106.82" y="1624.04" fill="#006464" stroke="#006464" font-size="12" text-anchor="start" textLength="20.4" lengthAdjust="spacingAndGlyphs" transform="rotate(-90 1106.82 1619)">VSS</text>
<circle cx="1106.82" cy="1368.12" r="3.4" fill="#009000"/>
<path d="M1106.82 1368.12L1106.82 1353.06M1102.16 1361.57L1106.82 1353.06L1111.49 1361.57" fill="none" stroke="#840000" stroke-width="1.6"/>
<text x="1106.82" y="1343.04" fill="#006464" stroke="#006464" font-size="12" text-anchor="middle" textLength="20.4" lengthAdjust="spacingAndGlyphs">VCC</text>
<path d="M1106.82 1639.18L1106.82 1646.71M1099.29 1646.71L1114.35 1646.71L1106.82 1654.24Z" fill="none" stroke="#840000" stroke-width="1.6" stroke-linejoin="miter"/>
<text x="1106.82" y="1674.33" fill="#006464" stroke="#006464" font-size="12" text-anchor="middle" textLength="20.4" lengthAdjust="spacingAndGlyphs">GND</text>
<polyline points="1106.82,1368.12 986.35,1368.12 986.35,1594 1031.53,1594" fill="none" stroke="#009000" stroke-width="1.7"/>
<polygon points="1031.53,1398.24 1024.28,1390.99 1002.18,1390.99 1002.18,1405.49 1024.28,1405.49" fill="none" stroke="#840000" stroke-width="1.5"/>
<text x="1020.78" y="1403.28" fill="#840000" stroke="#840000" font-size="12" text-anchor="end" textLength="13.6" lengthAdjust="spacingAndGlyphs">A0</text>
<polygon points="1031.53,1413.29 1024.28,1406.04 1002.98,1406.04 1002.98,1420.54 1024.28,1420.54" fill="none" stroke="#840000" stroke-width="1.5"/>
<text x="1020.78" y="1418.33" fill="#840000" stroke="#840000" font-size="12" text-anchor="end" textLength="12.8" lengthAdjust="spacingAndGlyphs">A1</text>
<polygon points="1031.53,1428.35 1024.28,1421.1 1002.18,1421.1 1002.18,1435.6 1024.28,1435.6" fill="none" stroke="#840000" stroke-width="1.5"/>
<text x="1020.78" y="1433.39" fill="#840000" stroke="#840000" font-size="12" text-anchor="end" textLength="13.6" lengthAdjust="spacingAndGlyphs">A2</text>
<polygon points="1031.53,1443.41 1024.28,1436.16 1002.18,1436.16 1002.18,1450.66 1024.28,1450.66" fill="none" stroke="#840000" stroke-width="1.5"/>
<text x="1020.78" y="1448.45" fill="#840000" stroke="#840000" font-size="12" text-anchor="end" textLength="13.6" lengthAdjust="spacingAndGlyphs">A3</text>
<polygon points="1031.53,1458.47 1024.28,1451.22 1002.18,1451.22 1002.18,1465.72 1024.28,1465.72" fill="none" stroke="#840000" stroke-width="1.5"/>
<text x="1020.78" y="1463.51" fill="#840000" stroke="#840000" font-size="12" text-anchor="end" textLength="13.6" lengthAdjust="spacingAndGlyphs">A4</text>
<polygon points="1031.53,1473.53 1024.28,1466.28 1002.18,1466.28 1002.18,1480.78 1024.28,1480.78" fill="none" stroke="#840000" stroke-width="1.5"/>
<text x="1020.78" y="1478.57" fill="#840000" stroke="#840000" font-size="12" text-anchor="end" textLength="13.6" lengthAdjust="spacingAndGlyphs">A5</text>
<polygon points="1031.53,1488.59 1024.28,1481.34 1002.18,1481.34 1002.18,1495.84 1024.28,1495.84" fill="none" stroke="#840000" stroke-width="1.5"/>
<text x="1020.78" y="1493.63" fill="#840000" stroke="#840000" font-size="12" text-anchor="end" textLength="13.6" lengthAdjust="spacingAndGlyphs">A6</text>
<polygon points="1031.53,1503.65 1024.28,1496.4 1002.18,1496.4 1002.18,1510.9 1024.28,1510.9" fill="none" stroke="#840000" stroke-width="1.5"/>
<text x="1020.78" y="1508.69" fill="#840000" stroke="#840000" font-size="12" text-anchor="end" textLength="13.6" lengthAdjust="spacingAndGlyphs">A7</text>
<polygon points="1031.53,1518.71 1024.28,1511.46 1002.18,1511.46 1002.18,1525.96 1024.28,1525.96" fill="none" stroke="#840000" stroke-width="1.5"/>
<text x="1020.78" y="1523.75" fill="#840000" stroke="#840000" font-size="12" text-anchor="end" textLength="13.6" lengthAdjust="spacingAndGlyphs">A8</text>
<polygon points="1031.53,1533.76 1024.28,1526.51 1002.18,1526.51 1002.18,1541.01 1024.28,1541.01" fill="none" stroke="#840000" stroke-width="1.5"/>
<text x="1020.78" y="1538.8" fill="#840000" stroke="#840000" font-size="12" text-anchor="end" textLength="13.6" lengthAdjust="spacingAndGlyphs">A9</text>
<polygon points="1031.53,1548.82 1024.28,1541.57 996.18,1541.57 996.18,1556.07 1024.28,1556.07" fill="none" stroke="#840000" stroke-width="1.5"/>
<text x="1020.78" y="1553.86" fill="#840000" stroke="#840000" font-size="12" text-anchor="end" textLength="19.6" lengthAdjust="spacingAndGlyphs">A10</text>
<polygon points="1031.53,1563.88 1024.28,1556.63 996.98,1556.63 996.98,1571.13 1024.28,1571.13" fill="none" stroke="#840000" stroke-width="1.5"/>
<text x="1020.78" y="1568.92" fill="#840000" stroke="#840000" font-size="12" text-anchor="end" textLength="18.8" lengthAdjust="spacingAndGlyphs">A11</text>
<polygon points="1031.53,1609.06 1024.28,1601.81 975.18,1601.81 975.18,1616.31 1024.28,1616.31" fill="none" stroke="#840000" stroke-width="1.5"/>
<text x="1020.78" y="1614.1" fill="#840000" stroke="#840000" font-size="12" text-anchor="end" textLength="40.6" lengthAdjust="spacingAndGlyphs">Z24_OE</text>
<line x1="980.18" y1="1603.65" x2="1020.78" y2="1603.65" stroke="#840000" stroke-width="1.2"/>
<polygon points="1182.12,1398.24 1189.37,1390.99 1209.97,1390.99 1217.22,1398.24 1209.97,1405.49 1189.37,1405.49" fill="none" stroke="#840000" stroke-width="1.5"/>
<text x="1192.87" y="1403.28" fill="#840000" stroke="#840000" font-size="12" text-anchor="start" textLength="13.6" lengthAdjust="spacingAndGlyphs">D0</text>
<polygon points="1182.12,1413.29 1189.37,1406.04 1209.17,1406.04 1216.42,1413.29 1209.17,1420.54 1189.37,1420.54" fill="none" stroke="#840000" stroke-width="1.5"/>
<text x="1192.87" y="1418.33" fill="#840000" stroke="#840000" font-size="12" text-anchor="start" textLength="12.8" lengthAdjust="spacingAndGlyphs">D1</text>
<polygon points="1182.12,1428.35 1189.37,1421.1 1209.97,1421.1 1217.22,1428.35 1209.97,1435.6 1189.37,1435.6" fill="none" stroke="#840000" stroke-width="1.5"/>
<text x="1192.87" y="1433.39" fill="#840000" stroke="#840000" font-size="12" text-anchor="start" textLength="13.6" lengthAdjust="spacingAndGlyphs">D2</text>
<polygon points="1182.12,1443.41 1189.37,1436.16 1209.97,1436.16 1217.22,1443.41 1209.97,1450.66 1189.37,1450.66" fill="none" stroke="#840000" stroke-width="1.5"/>
<text x="1192.87" y="1448.45" fill="#840000" stroke="#840000" font-size="12" text-anchor="start" textLength="13.6" lengthAdjust="spacingAndGlyphs">D3</text>
<polygon points="1182.12,1458.47 1189.37,1451.22 1209.97,1451.22 1217.22,1458.47 1209.97,1465.72 1189.37,1465.72" fill="none" stroke="#840000" stroke-width="1.5"/>
<text x="1192.87" y="1463.51" fill="#840000" stroke="#840000" font-size="12" text-anchor="start" textLength="13.6" lengthAdjust="spacingAndGlyphs">D4</text>
<polygon points="1182.12,1473.53 1189.37,1466.28 1209.97,1466.28 1217.22,1473.53 1209.97,1480.78 1189.37,1480.78" fill="none" stroke="#840000" stroke-width="1.5"/>
<text x="1192.87" y="1478.57" fill="#840000" stroke="#840000" font-size="12" text-anchor="start" textLength="13.6" lengthAdjust="spacingAndGlyphs">D5</text>
<polygon points="1182.12,1488.59 1189.37,1481.34 1209.97,1481.34 1217.22,1488.59 1209.97,1495.84 1189.37,1495.84" fill="none" stroke="#840000" stroke-width="1.5"/>
<text x="1192.87" y="1493.63" fill="#840000" stroke="#840000" font-size="12" text-anchor="start" textLength="13.6" lengthAdjust="spacingAndGlyphs">D6</text>
<polygon points="1182.12,1503.65 1189.37,1496.4 1209.97,1496.4 1217.22,1503.65 1209.97,1510.9 1189.37,1510.9" fill="none" stroke="#840000" stroke-width="1.5"/>
<text x="1192.87" y="1508.69" fill="#840000" stroke="#840000" font-size="12" text-anchor="start" textLength="13.6" lengthAdjust="spacingAndGlyphs">D7</text>
<text x="1120.38" y="1358.7" fill="#006464" stroke="#006464" font-size="12" text-anchor="start" textLength="20.4" lengthAdjust="spacingAndGlyphs">Z24</text>
<text x="1120.38" y="1372.4" fill="#006464" stroke="#006464" font-size="12" text-anchor="start" textLength="67.8" lengthAdjust="spacingAndGlyphs">TMS2532-45</text>
<text x="1108.71" y="1496.01" fill="#1a1ab4" stroke="#1a1ab4" font-size="10.5" text-anchor="middle" textLength="23.62" lengthAdjust="spacingAndGlyphs">M91D</text>
<rect x="1475.76" y="1375.65" width="120.47" height="240.94" fill="#FFFFC2" stroke="#840000" stroke-width="2.0"/>
<line x1="1475.76" y1="1390.71" x2="1460.71" y2="1390.71" stroke="#840000" stroke-width="1.5"/>
<text x="1468.24" y="1389.86" fill="#A90000" stroke="#A90000" font-size="11.8" text-anchor="middle" textLength="6.69" lengthAdjust="spacingAndGlyphs">8</text>
<text x="1480.88" y="1395.75" fill="#006464" stroke="#006464" font-size="12" text-anchor="start" textLength="13.6" lengthAdjust="spacingAndGlyphs">A0</text>
<line x1="1475.76" y1="1405.76" x2="1460.71" y2="1405.76" stroke="#840000" stroke-width="1.5"/>
<text x="1468.24" y="1404.92" fill="#A90000" stroke="#A90000" font-size="11.8" text-anchor="middle" textLength="6.69" lengthAdjust="spacingAndGlyphs">7</text>
<text x="1480.88" y="1410.8" fill="#006464" stroke="#006464" font-size="12" text-anchor="start" textLength="12.8" lengthAdjust="spacingAndGlyphs">A1</text>
<line x1="1475.76" y1="1420.82" x2="1460.71" y2="1420.82" stroke="#840000" stroke-width="1.5"/>
<text x="1468.24" y="1419.98" fill="#A90000" stroke="#A90000" font-size="11.8" text-anchor="middle" textLength="6.69" lengthAdjust="spacingAndGlyphs">6</text>
<text x="1480.88" y="1425.86" fill="#006464" stroke="#006464" font-size="12" text-anchor="start" textLength="13.6" lengthAdjust="spacingAndGlyphs">A2</text>
<line x1="1475.76" y1="1435.88" x2="1460.71" y2="1435.88" stroke="#840000" stroke-width="1.5"/>
<text x="1468.24" y="1435.04" fill="#A90000" stroke="#A90000" font-size="11.8" text-anchor="middle" textLength="6.69" lengthAdjust="spacingAndGlyphs">5</text>
<text x="1480.88" y="1440.92" fill="#006464" stroke="#006464" font-size="12" text-anchor="start" textLength="13.6" lengthAdjust="spacingAndGlyphs">A3</text>
<line x1="1475.76" y1="1450.94" x2="1460.71" y2="1450.94" stroke="#840000" stroke-width="1.5"/>
<text x="1468.24" y="1450.1" fill="#A90000" stroke="#A90000" font-size="11.8" text-anchor="middle" textLength="6.69" lengthAdjust="spacingAndGlyphs">4</text>
<text x="1480.88" y="1455.98" fill="#006464" stroke="#006464" font-size="12" text-anchor="start" textLength="13.6" lengthAdjust="spacingAndGlyphs">A4</text>
<line x1="1475.76" y1="1466" x2="1460.71" y2="1466" stroke="#840000" stroke-width="1.5"/>
<text x="1468.24" y="1465.16" fill="#A90000" stroke="#A90000" font-size="11.8" text-anchor="middle" textLength="6.69" lengthAdjust="spacingAndGlyphs">3</text>
<text x="1480.88" y="1471.04" fill="#006464" stroke="#006464" font-size="12" text-anchor="start" textLength="13.6" lengthAdjust="spacingAndGlyphs">A5</text>
<line x1="1475.76" y1="1481.06" x2="1460.71" y2="1481.06" stroke="#840000" stroke-width="1.5"/>
<text x="1468.24" y="1480.21" fill="#A90000" stroke="#A90000" font-size="11.8" text-anchor="middle" textLength="6.69" lengthAdjust="spacingAndGlyphs">2</text>
<text x="1480.88" y="1486.1" fill="#006464" stroke="#006464" font-size="12" text-anchor="start" textLength="13.6" lengthAdjust="spacingAndGlyphs">A6</text>
<line x1="1475.76" y1="1496.12" x2="1460.71" y2="1496.12" stroke="#840000" stroke-width="1.5"/>
<text x="1468.24" y="1495.27" fill="#A90000" stroke="#A90000" font-size="11.8" text-anchor="middle" textLength="5.9" lengthAdjust="spacingAndGlyphs">1</text>
<text x="1480.88" y="1501.16" fill="#006464" stroke="#006464" font-size="12" text-anchor="start" textLength="13.6" lengthAdjust="spacingAndGlyphs">A7</text>
<line x1="1475.76" y1="1511.18" x2="1460.71" y2="1511.18" stroke="#840000" stroke-width="1.5"/>
<text x="1468.24" y="1510.33" fill="#A90000" stroke="#A90000" font-size="11.8" text-anchor="middle" textLength="13.37" lengthAdjust="spacingAndGlyphs">23</text>
<text x="1480.88" y="1516.22" fill="#006464" stroke="#006464" font-size="12" text-anchor="start" textLength="13.6" lengthAdjust="spacingAndGlyphs">A8</text>
<line x1="1475.76" y1="1526.24" x2="1460.71" y2="1526.24" stroke="#840000" stroke-width="1.5"/>
<text x="1468.24" y="1525.39" fill="#A90000" stroke="#A90000" font-size="11.8" text-anchor="middle" textLength="13.37" lengthAdjust="spacingAndGlyphs">22</text>
<text x="1480.88" y="1531.28" fill="#006464" stroke="#006464" font-size="12" text-anchor="start" textLength="13.6" lengthAdjust="spacingAndGlyphs">A9</text>
<line x1="1475.76" y1="1541.29" x2="1460.71" y2="1541.29" stroke="#840000" stroke-width="1.5"/>
<text x="1468.24" y="1540.45" fill="#A90000" stroke="#A90000" font-size="11.8" text-anchor="middle" textLength="12.59" lengthAdjust="spacingAndGlyphs">19</text>
<text x="1480.88" y="1546.33" fill="#006464" stroke="#006464" font-size="12" text-anchor="start" textLength="19.6" lengthAdjust="spacingAndGlyphs">A10</text>
<line x1="1475.76" y1="1556.35" x2="1460.71" y2="1556.35" stroke="#840000" stroke-width="1.5"/>
<text x="1468.24" y="1555.51" fill="#A90000" stroke="#A90000" font-size="11.8" text-anchor="middle" textLength="12.59" lengthAdjust="spacingAndGlyphs">18</text>
<text x="1480.88" y="1561.39" fill="#006464" stroke="#006464" font-size="12" text-anchor="start" textLength="18.8" lengthAdjust="spacingAndGlyphs">A11</text>
<line x1="1475.76" y1="1586.47" x2="1460.71" y2="1586.47" stroke="#840000" stroke-width="1.5"/>
<text x="1468.24" y="1585.63" fill="#A90000" stroke="#A90000" font-size="11.8" text-anchor="middle" textLength="12.59" lengthAdjust="spacingAndGlyphs">21</text>
<text x="1480.88" y="1591.51" fill="#006464" stroke="#006464" font-size="12" text-anchor="start" textLength="20.4" lengthAdjust="spacingAndGlyphs">VPP</text>
<line x1="1475.76" y1="1601.53" x2="1460.71" y2="1601.53" stroke="#840000" stroke-width="1.5"/>
<text x="1468.24" y="1600.69" fill="#A90000" stroke="#A90000" font-size="11.8" text-anchor="middle" textLength="13.37" lengthAdjust="spacingAndGlyphs">20</text>
<text x="1480.88" y="1606.57" fill="#006464" stroke="#006464" font-size="12" text-anchor="start" textLength="13.6" lengthAdjust="spacingAndGlyphs">OE</text>
<line x1="1480.88" y1="1596.12" x2="1494.48" y2="1596.12" stroke="#006464" stroke-width="1.2"/>
<line x1="1596.24" y1="1390.71" x2="1611.29" y2="1390.71" stroke="#840000" stroke-width="1.5"/>
<text x="1603.76" y="1389.86" fill="#A90000" stroke="#A90000" font-size="11.8" text-anchor="middle" textLength="6.69" lengthAdjust="spacingAndGlyphs">9</text>
<text x="1591.12" y="1395.75" fill="#006464" stroke="#006464" font-size="12" text-anchor="end" textLength="13.6" lengthAdjust="spacingAndGlyphs">Q0</text>
<line x1="1596.24" y1="1405.76" x2="1611.29" y2="1405.76" stroke="#840000" stroke-width="1.5"/>
<text x="1603.76" y="1404.92" fill="#A90000" stroke="#A90000" font-size="11.8" text-anchor="middle" textLength="12.59" lengthAdjust="spacingAndGlyphs">10</text>
<text x="1591.12" y="1410.8" fill="#006464" stroke="#006464" font-size="12" text-anchor="end" textLength="12.8" lengthAdjust="spacingAndGlyphs">Q1</text>
<line x1="1596.24" y1="1420.82" x2="1611.29" y2="1420.82" stroke="#840000" stroke-width="1.5"/>
<text x="1603.76" y="1419.98" fill="#A90000" stroke="#A90000" font-size="11.8" text-anchor="middle" textLength="11.8" lengthAdjust="spacingAndGlyphs">11</text>
<text x="1591.12" y="1425.86" fill="#006464" stroke="#006464" font-size="12" text-anchor="end" textLength="13.6" lengthAdjust="spacingAndGlyphs">Q2</text>
<line x1="1596.24" y1="1435.88" x2="1611.29" y2="1435.88" stroke="#840000" stroke-width="1.5"/>
<text x="1603.76" y="1435.04" fill="#A90000" stroke="#A90000" font-size="11.8" text-anchor="middle" textLength="12.59" lengthAdjust="spacingAndGlyphs">13</text>
<text x="1591.12" y="1440.92" fill="#006464" stroke="#006464" font-size="12" text-anchor="end" textLength="13.6" lengthAdjust="spacingAndGlyphs">Q3</text>
<line x1="1596.24" y1="1450.94" x2="1611.29" y2="1450.94" stroke="#840000" stroke-width="1.5"/>
<text x="1603.76" y="1450.1" fill="#A90000" stroke="#A90000" font-size="11.8" text-anchor="middle" textLength="12.59" lengthAdjust="spacingAndGlyphs">14</text>
<text x="1591.12" y="1455.98" fill="#006464" stroke="#006464" font-size="12" text-anchor="end" textLength="13.6" lengthAdjust="spacingAndGlyphs">Q4</text>
<line x1="1596.24" y1="1466" x2="1611.29" y2="1466" stroke="#840000" stroke-width="1.5"/>
<text x="1603.76" y="1465.16" fill="#A90000" stroke="#A90000" font-size="11.8" text-anchor="middle" textLength="12.59" lengthAdjust="spacingAndGlyphs">15</text>
<text x="1591.12" y="1471.04" fill="#006464" stroke="#006464" font-size="12" text-anchor="end" textLength="13.6" lengthAdjust="spacingAndGlyphs">Q5</text>
<line x1="1596.24" y1="1481.06" x2="1611.29" y2="1481.06" stroke="#840000" stroke-width="1.5"/>
<text x="1603.76" y="1480.21" fill="#A90000" stroke="#A90000" font-size="11.8" text-anchor="middle" textLength="12.59" lengthAdjust="spacingAndGlyphs">16</text>
<text x="1591.12" y="1486.1" fill="#006464" stroke="#006464" font-size="12" text-anchor="end" textLength="13.6" lengthAdjust="spacingAndGlyphs">Q6</text>
<line x1="1596.24" y1="1496.12" x2="1611.29" y2="1496.12" stroke="#840000" stroke-width="1.5"/>
<text x="1603.76" y="1495.27" fill="#A90000" stroke="#A90000" font-size="11.8" text-anchor="middle" textLength="12.59" lengthAdjust="spacingAndGlyphs">17</text>
<text x="1591.12" y="1501.16" fill="#006464" stroke="#006464" font-size="12" text-anchor="end" textLength="13.6" lengthAdjust="spacingAndGlyphs">Q7</text>
<line x1="1536" y1="1375.65" x2="1536" y2="1360.59" stroke="#840000" stroke-width="1.5"/>
<text x="1530.2" y="1373.07" fill="#A90000" stroke="#A90000" font-size="11.8" text-anchor="middle" textLength="13.37" lengthAdjust="spacingAndGlyphs" transform="rotate(-90 1530.2 1368.12)">24</text>
<text x="1536" y="1385.81" fill="#006464" stroke="#006464" font-size="12" text-anchor="end" textLength="20.4" lengthAdjust="spacingAndGlyphs" transform="rotate(-90 1536 1380.77)">VCC</text>
<line x1="1536" y1="1616.59" x2="1536" y2="1631.65" stroke="#840000" stroke-width="1.5"/>
<text x="1530.2" y="1629.07" fill="#A90000" stroke="#A90000" font-size="11.8" text-anchor="middle" textLength="12.59" lengthAdjust="spacingAndGlyphs" transform="rotate(-90 1530.2 1624.12)">12</text>
<text x="1536" y="1616.51" fill="#006464" stroke="#006464" font-size="12" text-anchor="start" textLength="20.4" lengthAdjust="spacingAndGlyphs" transform="rotate(-90 1536 1611.47)">VSS</text>
<circle cx="1536" cy="1360.59" r="3.4" fill="#009000"/>
<path d="M1536 1360.59L1536 1345.53M1531.33 1354.04L1536 1345.53L1540.67 1354.04" fill="none" stroke="#840000" stroke-width="1.6"/>
<text x="1536" y="1335.51" fill="#006464" stroke="#006464" font-size="12" text-anchor="middle" textLength="20.4" lengthAdjust="spacingAndGlyphs">VCC</text>
<path d="M1536 1631.65L1536 1639.18M1528.47 1639.18L1543.53 1639.18L1536 1646.71Z" fill="none" stroke="#840000" stroke-width="1.6" stroke-linejoin="miter"/>
<text x="1536" y="1666.8" fill="#006464" stroke="#006464" font-size="12" text-anchor="middle" textLength="20.4" lengthAdjust="spacingAndGlyphs">GND</text>
<polyline points="1536,1360.59 1415.53,1360.59 1415.53,1586.47 1460.71,1586.47" fill="none" stroke="#009000" stroke-width="1.7"/>
<polygon points="1460.71,1390.71 1453.46,1383.46 1431.36,1383.46 1431.36,1397.96 1453.46,1397.96" fill="none" stroke="#840000" stroke-width="1.5"/>
<text x="1449.96" y="1395.75" fill="#840000" stroke="#840000" font-size="12" text-anchor="end" textLength="13.6" lengthAdjust="spacingAndGlyphs">A0</text>
<polygon points="1460.71,1405.76 1453.46,1398.51 1432.16,1398.51 1432.16,1413.01 1453.46,1413.01" fill="none" stroke="#840000" stroke-width="1.5"/>
<text x="1449.96" y="1410.8" fill="#840000" stroke="#840000" font-size="12" text-anchor="end" textLength="12.8" lengthAdjust="spacingAndGlyphs">A1</text>
<polygon points="1460.71,1420.82 1453.46,1413.57 1431.36,1413.57 1431.36,1428.07 1453.46,1428.07" fill="none" stroke="#840000" stroke-width="1.5"/>
<text x="1449.96" y="1425.86" fill="#840000" stroke="#840000" font-size="12" text-anchor="end" textLength="13.6" lengthAdjust="spacingAndGlyphs">A2</text>
<polygon points="1460.71,1435.88 1453.46,1428.63 1431.36,1428.63 1431.36,1443.13 1453.46,1443.13" fill="none" stroke="#840000" stroke-width="1.5"/>
<text x="1449.96" y="1440.92" fill="#840000" stroke="#840000" font-size="12" text-anchor="end" textLength="13.6" lengthAdjust="spacingAndGlyphs">A3</text>
<polygon points="1460.71,1450.94 1453.46,1443.69 1431.36,1443.69 1431.36,1458.19 1453.46,1458.19" fill="none" stroke="#840000" stroke-width="1.5"/>
<text x="1449.96" y="1455.98" fill="#840000" stroke="#840000" font-size="12" text-anchor="end" textLength="13.6" lengthAdjust="spacingAndGlyphs">A4</text>
<polygon points="1460.71,1466 1453.46,1458.75 1431.36,1458.75 1431.36,1473.25 1453.46,1473.25" fill="none" stroke="#840000" stroke-width="1.5"/>
<text x="1449.96" y="1471.04" fill="#840000" stroke="#840000" font-size="12" text-anchor="end" textLength="13.6" lengthAdjust="spacingAndGlyphs">A5</text>
<polygon points="1460.71,1481.06 1453.46,1473.81 1431.36,1473.81 1431.36,1488.31 1453.46,1488.31" fill="none" stroke="#840000" stroke-width="1.5"/>
<text x="1449.96" y="1486.1" fill="#840000" stroke="#840000" font-size="12" text-anchor="end" textLength="13.6" lengthAdjust="spacingAndGlyphs">A6</text>
<polygon points="1460.71,1496.12 1453.46,1488.87 1431.36,1488.87 1431.36,1503.37 1453.46,1503.37" fill="none" stroke="#840000" stroke-width="1.5"/>
<text x="1449.96" y="1501.16" fill="#840000" stroke="#840000" font-size="12" text-anchor="end" textLength="13.6" lengthAdjust="spacingAndGlyphs">A7</text>
<polygon points="1460.71,1511.18 1453.46,1503.93 1431.36,1503.93 1431.36,1518.43 1453.46,1518.43" fill="none" stroke="#840000" stroke-width="1.5"/>
<text x="1449.96" y="1516.22" fill="#840000" stroke="#840000" font-size="12" text-anchor="end" textLength="13.6" lengthAdjust="spacingAndGlyphs">A8</text>
<polygon points="1460.71,1526.24 1453.46,1518.99 1431.36,1518.99 1431.36,1533.49 1453.46,1533.49" fill="none" stroke="#840000" stroke-width="1.5"/>
<text x="1449.96" y="1531.28" fill="#840000" stroke="#840000" font-size="12" text-anchor="end" textLength="13.6" lengthAdjust="spacingAndGlyphs">A9</text>
<polygon points="1460.71,1541.29 1453.46,1534.04 1425.36,1534.04 1425.36,1548.54 1453.46,1548.54" fill="none" stroke="#840000" stroke-width="1.5"/>
<text x="1449.96" y="1546.33" fill="#840000" stroke="#840000" font-size="12" text-anchor="end" textLength="19.6" lengthAdjust="spacingAndGlyphs">A10</text>
<polygon points="1460.71,1556.35 1453.46,1549.1 1426.16,1549.1 1426.16,1563.6 1453.46,1563.6" fill="none" stroke="#840000" stroke-width="1.5"/>
<text x="1449.96" y="1561.39" fill="#840000" stroke="#840000" font-size="12" text-anchor="end" textLength="18.8" lengthAdjust="spacingAndGlyphs">A11</text>
<polygon points="1460.71,1601.53 1453.46,1594.28 1404.36,1594.28 1404.36,1608.78 1453.46,1608.78" fill="none" stroke="#840000" stroke-width="1.5"/>
<text x="1449.96" y="1606.57" fill="#840000" stroke="#840000" font-size="12" text-anchor="end" textLength="40.6" lengthAdjust="spacingAndGlyphs">Z23_OE</text>
<line x1="1409.36" y1="1596.12" x2="1449.96" y2="1596.12" stroke="#840000" stroke-width="1.2"/>
<polygon points="1611.29,1390.71 1618.54,1383.46 1639.14,1383.46 1646.39,1390.71 1639.14,1397.96 1618.54,1397.96" fill="none" stroke="#840000" stroke-width="1.5"/>
<text x="1622.04" y="1395.75" fill="#840000" stroke="#840000" font-size="12" text-anchor="start" textLength="13.6" lengthAdjust="spacingAndGlyphs">D0</text>
<polygon points="1611.29,1405.76 1618.54,1398.51 1638.34,1398.51 1645.59,1405.76 1638.34,1413.01 1618.54,1413.01" fill="none" stroke="#840000" stroke-width="1.5"/>
<text x="1622.04" y="1410.8" fill="#840000" stroke="#840000" font-size="12" text-anchor="start" textLength="12.8" lengthAdjust="spacingAndGlyphs">D1</text>
<polygon points="1611.29,1420.82 1618.54,1413.57 1639.14,1413.57 1646.39,1420.82 1639.14,1428.07 1618.54,1428.07" fill="none" stroke="#840000" stroke-width="1.5"/>
<text x="1622.04" y="1425.86" fill="#840000" stroke="#840000" font-size="12" text-anchor="start" textLength="13.6" lengthAdjust="spacingAndGlyphs">D2</text>
<polygon points="1611.29,1435.88 1618.54,1428.63 1639.14,1428.63 1646.39,1435.88 1639.14,1443.13 1618.54,1443.13" fill="none" stroke="#840000" stroke-width="1.5"/>
<text x="1622.04" y="1440.92" fill="#840000" stroke="#840000" font-size="12" text-anchor="start" textLength="13.6" lengthAdjust="spacingAndGlyphs">D3</text>
<polygon points="1611.29,1450.94 1618.54,1443.69 1639.14,1443.69 1646.39,1450.94 1639.14,1458.19 1618.54,1458.19" fill="none" stroke="#840000" stroke-width="1.5"/>
<text x="1622.04" y="1455.98" fill="#840000" stroke="#840000" font-size="12" text-anchor="start" textLength="13.6" lengthAdjust="spacingAndGlyphs">D4</text>
<polygon points="1611.29,1466 1618.54,1458.75 1639.14,1458.75 1646.39,1466 1639.14,1473.25 1618.54,1473.25" fill="none" stroke="#840000" stroke-width="1.5"/>
<text x="1622.04" y="1471.04" fill="#840000" stroke="#840000" font-size="12" text-anchor="start" textLength="13.6" lengthAdjust="spacingAndGlyphs">D5</text>
<polygon points="1611.29,1481.06 1618.54,1473.81 1639.14,1473.81 1646.39,1481.06 1639.14,1488.31 1618.54,1488.31" fill="none" stroke="#840000" stroke-width="1.5"/>
<text x="1622.04" y="1486.1" fill="#840000" stroke="#840000" font-size="12" text-anchor="start" textLength="13.6" lengthAdjust="spacingAndGlyphs">D6</text>
<polygon points="1611.29,1496.12 1618.54,1488.87 1639.14,1488.87 1646.39,1496.12 1639.14,1503.37 1618.54,1503.37" fill="none" stroke="#840000" stroke-width="1.5"/>
<text x="1622.04" y="1501.16" fill="#840000" stroke="#840000" font-size="12" text-anchor="start" textLength="13.6" lengthAdjust="spacingAndGlyphs">D7</text>
<text x="1549.55" y="1351.17" fill="#006464" stroke="#006464" font-size="12" text-anchor="start" textLength="20.4" lengthAdjust="spacingAndGlyphs">Z23</text>
<text x="1549.55" y="1364.88" fill="#006464" stroke="#006464" font-size="12" text-anchor="start" textLength="67.8" lengthAdjust="spacingAndGlyphs">TMS2532-45</text>
<text x="1537.88" y="1488.48" fill="#1a1ab4" stroke="#1a1ab4" font-size="10.5" text-anchor="middle" textLength="23.62" lengthAdjust="spacingAndGlyphs">M91E</text>
<rect x="1882.35" y="1368.12" width="120.47" height="240.94" fill="#FFFFC2" stroke="#840000" stroke-width="2.0"/>
<line x1="1882.35" y1="1383.18" x2="1867.29" y2="1383.18" stroke="#840000" stroke-width="1.5"/>
<text x="1874.82" y="1382.33" fill="#A90000" stroke="#A90000" font-size="11.8" text-anchor="middle" textLength="6.69" lengthAdjust="spacingAndGlyphs">8</text>
<text x="1887.47" y="1388.22" fill="#006464" stroke="#006464" font-size="12" text-anchor="start" textLength="13.6" lengthAdjust="spacingAndGlyphs">A0</text>
<line x1="1882.35" y1="1398.24" x2="1867.29" y2="1398.24" stroke="#840000" stroke-width="1.5"/>
<text x="1874.82" y="1397.39" fill="#A90000" stroke="#A90000" font-size="11.8" text-anchor="middle" textLength="6.69" lengthAdjust="spacingAndGlyphs">7</text>
<text x="1887.47" y="1403.28" fill="#006464" stroke="#006464" font-size="12" text-anchor="start" textLength="12.8" lengthAdjust="spacingAndGlyphs">A1</text>
<line x1="1882.35" y1="1413.29" x2="1867.29" y2="1413.29" stroke="#840000" stroke-width="1.5"/>
<text x="1874.82" y="1412.45" fill="#A90000" stroke="#A90000" font-size="11.8" text-anchor="middle" textLength="6.69" lengthAdjust="spacingAndGlyphs">6</text>
<text x="1887.47" y="1418.33" fill="#006464" stroke="#006464" font-size="12" text-anchor="start" textLength="13.6" lengthAdjust="spacingAndGlyphs">A2</text>
<line x1="1882.35" y1="1428.35" x2="1867.29" y2="1428.35" stroke="#840000" stroke-width="1.5"/>
<text x="1874.82" y="1427.51" fill="#A90000" stroke="#A90000" font-size="11.8" text-anchor="middle" textLength="6.69" lengthAdjust="spacingAndGlyphs">5</text>
<text x="1887.47" y="1433.39" fill="#006464" stroke="#006464" font-size="12" text-anchor="start" textLength="13.6" lengthAdjust="spacingAndGlyphs">A3</text>
<line x1="1882.35" y1="1443.41" x2="1867.29" y2="1443.41" stroke="#840000" stroke-width="1.5"/>
<text x="1874.82" y="1442.57" fill="#A90000" stroke="#A90000" font-size="11.8" text-anchor="middle" textLength="6.69" lengthAdjust="spacingAndGlyphs">4</text>
<text x="1887.47" y="1448.45" fill="#006464" stroke="#006464" font-size="12" text-anchor="start" textLength="13.6" lengthAdjust="spacingAndGlyphs">A4</text>
<line x1="1882.35" y1="1458.47" x2="1867.29" y2="1458.47" stroke="#840000" stroke-width="1.5"/>
<text x="1874.82" y="1457.63" fill="#A90000" stroke="#A90000" font-size="11.8" text-anchor="middle" textLength="6.69" lengthAdjust="spacingAndGlyphs">3</text>
<text x="1887.47" y="1463.51" fill="#006464" stroke="#006464" font-size="12" text-anchor="start" textLength="13.6" lengthAdjust="spacingAndGlyphs">A5</text>
<line x1="1882.35" y1="1473.53" x2="1867.29" y2="1473.53" stroke="#840000" stroke-width="1.5"/>
<text x="1874.82" y="1472.69" fill="#A90000" stroke="#A90000" font-size="11.8" text-anchor="middle" textLength="6.69" lengthAdjust="spacingAndGlyphs">2</text>
<text x="1887.47" y="1478.57" fill="#006464" stroke="#006464" font-size="12" text-anchor="start" textLength="13.6" lengthAdjust="spacingAndGlyphs">A6</text>
<line x1="1882.35" y1="1488.59" x2="1867.29" y2="1488.59" stroke="#840000" stroke-width="1.5"/>
<text x="1874.82" y="1487.74" fill="#A90000" stroke="#A90000" font-size="11.8" text-anchor="middle" textLength="5.9" lengthAdjust="spacingAndGlyphs">1</text>
<text x="1887.47" y="1493.63" fill="#006464" stroke="#006464" font-size="12" text-anchor="start" textLength="13.6" lengthAdjust="spacingAndGlyphs">A7</text>
<line x1="1882.35" y1="1503.65" x2="1867.29" y2="1503.65" stroke="#840000" stroke-width="1.5"/>
<text x="1874.82" y="1502.8" fill="#A90000" stroke="#A90000" font-size="11.8" text-anchor="middle" textLength="13.37" lengthAdjust="spacingAndGlyphs">23</text>
<text x="1887.47" y="1508.69" fill="#006464" stroke="#006464" font-size="12" text-anchor="start" textLength="13.6" lengthAdjust="spacingAndGlyphs">A8</text>
<line x1="1882.35" y1="1518.71" x2="1867.29" y2="1518.71" stroke="#840000" stroke-width="1.5"/>
<text x="1874.82" y="1517.86" fill="#A90000" stroke="#A90000" font-size="11.8" text-anchor="middle" textLength="13.37" lengthAdjust="spacingAndGlyphs">22</text>
<text x="1887.47" y="1523.75" fill="#006464" stroke="#006464" font-size="12" text-anchor="start" textLength="13.6" lengthAdjust="spacingAndGlyphs">A9</text>
<line x1="1882.35" y1="1533.76" x2="1867.29" y2="1533.76" stroke="#840000" stroke-width="1.5"/>
<text x="1874.82" y="1532.92" fill="#A90000" stroke="#A90000" font-size="11.8" text-anchor="middle" textLength="12.59" lengthAdjust="spacingAndGlyphs">19</text>
<text x="1887.47" y="1538.8" fill="#006464" stroke="#006464" font-size="12" text-anchor="start" textLength="19.6" lengthAdjust="spacingAndGlyphs">A10</text>
<line x1="1882.35" y1="1548.82" x2="1867.29" y2="1548.82" stroke="#840000" stroke-width="1.5"/>
<text x="1874.82" y="1547.98" fill="#A90000" stroke="#A90000" font-size="11.8" text-anchor="middle" textLength="12.59" lengthAdjust="spacingAndGlyphs">18</text>
<text x="1887.47" y="1553.86" fill="#006464" stroke="#006464" font-size="12" text-anchor="start" textLength="18.8" lengthAdjust="spacingAndGlyphs">A11</text>
<line x1="1882.35" y1="1578.94" x2="1867.29" y2="1578.94" stroke="#840000" stroke-width="1.5"/>
<text x="1874.82" y="1578.1" fill="#A90000" stroke="#A90000" font-size="11.8" text-anchor="middle" textLength="12.59" lengthAdjust="spacingAndGlyphs">21</text>
<text x="1887.47" y="1583.98" fill="#006464" stroke="#006464" font-size="12" text-anchor="start" textLength="20.4" lengthAdjust="spacingAndGlyphs">VPP</text>
<line x1="1882.35" y1="1594" x2="1867.29" y2="1594" stroke="#840000" stroke-width="1.5"/>
<text x="1874.82" y="1593.16" fill="#A90000" stroke="#A90000" font-size="11.8" text-anchor="middle" textLength="13.37" lengthAdjust="spacingAndGlyphs">20</text>
<text x="1887.47" y="1599.04" fill="#006464" stroke="#006464" font-size="12" text-anchor="start" textLength="13.6" lengthAdjust="spacingAndGlyphs">OE</text>
<line x1="1887.47" y1="1588.59" x2="1901.07" y2="1588.59" stroke="#006464" stroke-width="1.2"/>
<line x1="2002.82" y1="1383.18" x2="2017.88" y2="1383.18" stroke="#840000" stroke-width="1.5"/>
<text x="2010.35" y="1382.33" fill="#A90000" stroke="#A90000" font-size="11.8" text-anchor="middle" textLength="6.69" lengthAdjust="spacingAndGlyphs">9</text>
<text x="1997.7" y="1388.22" fill="#006464" stroke="#006464" font-size="12" text-anchor="end" textLength="13.6" lengthAdjust="spacingAndGlyphs">Q0</text>
<line x1="2002.82" y1="1398.24" x2="2017.88" y2="1398.24" stroke="#840000" stroke-width="1.5"/>
<text x="2010.35" y="1397.39" fill="#A90000" stroke="#A90000" font-size="11.8" text-anchor="middle" textLength="12.59" lengthAdjust="spacingAndGlyphs">10</text>
<text x="1997.7" y="1403.28" fill="#006464" stroke="#006464" font-size="12" text-anchor="end" textLength="12.8" lengthAdjust="spacingAndGlyphs">Q1</text>
<line x1="2002.82" y1="1413.29" x2="2017.88" y2="1413.29" stroke="#840000" stroke-width="1.5"/>
<text x="2010.35" y="1412.45" fill="#A90000" stroke="#A90000" font-size="11.8" text-anchor="middle" textLength="11.8" lengthAdjust="spacingAndGlyphs">11</text>
<text x="1997.7" y="1418.33" fill="#006464" stroke="#006464" font-size="12" text-anchor="end" textLength="13.6" lengthAdjust="spacingAndGlyphs">Q2</text>
<line x1="2002.82" y1="1428.35" x2="2017.88" y2="1428.35" stroke="#840000" stroke-width="1.5"/>
<text x="2010.35" y="1427.51" fill="#A90000" stroke="#A90000" font-size="11.8" text-anchor="middle" textLength="12.59" lengthAdjust="spacingAndGlyphs">13</text>
<text x="1997.7" y="1433.39" fill="#006464" stroke="#006464" font-size="12" text-anchor="end" textLength="13.6" lengthAdjust="spacingAndGlyphs">Q3</text>
<line x1="2002.82" y1="1443.41" x2="2017.88" y2="1443.41" stroke="#840000" stroke-width="1.5"/>
<text x="2010.35" y="1442.57" fill="#A90000" stroke="#A90000" font-size="11.8" text-anchor="middle" textLength="12.59" lengthAdjust="spacingAndGlyphs">14</text>
<text x="1997.7" y="1448.45" fill="#006464" stroke="#006464" font-size="12" text-anchor="end" textLength="13.6" lengthAdjust="spacingAndGlyphs">Q4</text>
<line x1="2002.82" y1="1458.47" x2="2017.88" y2="1458.47" stroke="#840000" stroke-width="1.5"/>
<text x="2010.35" y="1457.63" fill="#A90000" stroke="#A90000" font-size="11.8" text-anchor="middle" textLength="12.59" lengthAdjust="spacingAndGlyphs">15</text>
<text x="1997.7" y="1463.51" fill="#006464" stroke="#006464" font-size="12" text-anchor="end" textLength="13.6" lengthAdjust="spacingAndGlyphs">Q5</text>
<line x1="2002.82" y1="1473.53" x2="2017.88" y2="1473.53" stroke="#840000" stroke-width="1.5"/>
<text x="2010.35" y="1472.69" fill="#A90000" stroke="#A90000" font-size="11.8" text-anchor="middle" textLength="12.59" lengthAdjust="spacingAndGlyphs">16</text>
<text x="1997.7" y="1478.57" fill="#006464" stroke="#006464" font-size="12" text-anchor="end" textLength="13.6" lengthAdjust="spacingAndGlyphs">Q6</text>
<line x1="2002.82" y1="1488.59" x2="2017.88" y2="1488.59" stroke="#840000" stroke-width="1.5"/>
<text x="2010.35" y="1487.74" fill="#A90000" stroke="#A90000" font-size="11.8" text-anchor="middle" textLength="12.59" lengthAdjust="spacingAndGlyphs">17</text>
<text x="1997.7" y="1493.63" fill="#006464" stroke="#006464" font-size="12" text-anchor="end" textLength="13.6" lengthAdjust="spacingAndGlyphs">Q7</text>
<line x1="1942.59" y1="1368.12" x2="1942.59" y2="1353.06" stroke="#840000" stroke-width="1.5"/>
<text x="1936.79" y="1365.54" fill="#A90000" stroke="#A90000" font-size="11.8" text-anchor="middle" textLength="13.37" lengthAdjust="spacingAndGlyphs" transform="rotate(-90 1936.79 1360.59)">24</text>
<text x="1942.59" y="1378.28" fill="#006464" stroke="#006464" font-size="12" text-anchor="end" textLength="20.4" lengthAdjust="spacingAndGlyphs" transform="rotate(-90 1942.59 1373.24)">VCC</text>
<line x1="1942.59" y1="1609.06" x2="1942.59" y2="1624.12" stroke="#840000" stroke-width="1.5"/>
<text x="1936.79" y="1621.54" fill="#A90000" stroke="#A90000" font-size="11.8" text-anchor="middle" textLength="12.59" lengthAdjust="spacingAndGlyphs" transform="rotate(-90 1936.79 1616.59)">12</text>
<text x="1942.59" y="1608.98" fill="#006464" stroke="#006464" font-size="12" text-anchor="start" textLength="20.4" lengthAdjust="spacingAndGlyphs" transform="rotate(-90 1942.59 1603.94)">VSS</text>
<circle cx="1942.59" cy="1353.06" r="3.4" fill="#009000"/>
<path d="M1942.59 1353.06L1942.59 1338M1937.92 1346.51L1942.59 1338L1947.26 1346.51" fill="none" stroke="#840000" stroke-width="1.6"/>
<text x="1942.59" y="1327.98" fill="#006464" stroke="#006464" font-size="12" text-anchor="middle" textLength="20.4" lengthAdjust="spacingAndGlyphs">VCC</text>
<path d="M1942.59 1624.12L1942.59 1631.65M1935.06 1631.65L1950.12 1631.65L1942.59 1639.18Z" fill="none" stroke="#840000" stroke-width="1.6" stroke-linejoin="miter"/>
<text x="1942.59" y="1659.28" fill="#006464" stroke="#006464" font-size="12" text-anchor="middle" textLength="20.4" lengthAdjust="spacingAndGlyphs">GND</text>
<polyline points="1942.59,1353.06 1822.12,1353.06 1822.12,1578.94 1867.29,1578.94" fill="none" stroke="#009000" stroke-width="1.7"/>
<polygon points="1867.29,1383.18 1860.04,1375.93 1837.94,1375.93 1837.94,1390.43 1860.04,1390.43" fill="none" stroke="#840000" stroke-width="1.5"/>
<text x="1856.54" y="1388.22" fill="#840000" stroke="#840000" font-size="12" text-anchor="end" textLength="13.6" lengthAdjust="spacingAndGlyphs">A0</text>
<polygon points="1867.29,1398.24 1860.04,1390.99 1838.74,1390.99 1838.74,1405.49 1860.04,1405.49" fill="none" stroke="#840000" stroke-width="1.5"/>
<text x="1856.54" y="1403.28" fill="#840000" stroke="#840000" font-size="12" text-anchor="end" textLength="12.8" lengthAdjust="spacingAndGlyphs">A1</text>
<polygon points="1867.29,1413.29 1860.04,1406.04 1837.94,1406.04 1837.94,1420.54 1860.04,1420.54" fill="none" stroke="#840000" stroke-width="1.5"/>
<text x="1856.54" y="1418.33" fill="#840000" stroke="#840000" font-size="12" text-anchor="end" textLength="13.6" lengthAdjust="spacingAndGlyphs">A2</text>
<polygon points="1867.29,1428.35 1860.04,1421.1 1837.94,1421.1 1837.94,1435.6 1860.04,1435.6" fill="none" stroke="#840000" stroke-width="1.5"/>
<text x="1856.54" y="1433.39" fill="#840000" stroke="#840000" font-size="12" text-anchor="end" textLength="13.6" lengthAdjust="spacingAndGlyphs">A3</text>
<polygon points="1867.29,1443.41 1860.04,1436.16 1837.94,1436.16 1837.94,1450.66 1860.04,1450.66" fill="none" stroke="#840000" stroke-width="1.5"/>
<text x="1856.54" y="1448.45" fill="#840000" stroke="#840000" font-size="12" text-anchor="end" textLength="13.6" lengthAdjust="spacingAndGlyphs">A4</text>
<polygon points="1867.29,1458.47 1860.04,1451.22 1837.94,1451.22 1837.94,1465.72 1860.04,1465.72" fill="none" stroke="#840000" stroke-width="1.5"/>
<text x="1856.54" y="1463.51" fill="#840000" stroke="#840000" font-size="12" text-anchor="end" textLength="13.6" lengthAdjust="spacingAndGlyphs">A5</text>
<polygon points="1867.29,1473.53 1860.04,1466.28 1837.94,1466.28 1837.94,1480.78 1860.04,1480.78" fill="none" stroke="#840000" stroke-width="1.5"/>
<text x="1856.54" y="1478.57" fill="#840000" stroke="#840000" font-size="12" text-anchor="end" textLength="13.6" lengthAdjust="spacingAndGlyphs">A6</text>
<polygon points="1867.29,1488.59 1860.04,1481.34 1837.94,1481.34 1837.94,1495.84 1860.04,1495.84" fill="none" stroke="#840000" stroke-width="1.5"/>
<text x="1856.54" y="1493.63" fill="#840000" stroke="#840000" font-size="12" text-anchor="end" textLength="13.6" lengthAdjust="spacingAndGlyphs">A7</text>
<polygon points="1867.29,1503.65 1860.04,1496.4 1837.94,1496.4 1837.94,1510.9 1860.04,1510.9" fill="none" stroke="#840000" stroke-width="1.5"/>
<text x="1856.54" y="1508.69" fill="#840000" stroke="#840000" font-size="12" text-anchor="end" textLength="13.6" lengthAdjust="spacingAndGlyphs">A8</text>
<polygon points="1867.29,1518.71 1860.04,1511.46 1837.94,1511.46 1837.94,1525.96 1860.04,1525.96" fill="none" stroke="#840000" stroke-width="1.5"/>
<text x="1856.54" y="1523.75" fill="#840000" stroke="#840000" font-size="12" text-anchor="end" textLength="13.6" lengthAdjust="spacingAndGlyphs">A9</text>
<polygon points="1867.29,1533.76 1860.04,1526.51 1831.94,1526.51 1831.94,1541.01 1860.04,1541.01" fill="none" stroke="#840000" stroke-width="1.5"/>
<text x="1856.54" y="1538.8" fill="#840000" stroke="#840000" font-size="12" text-anchor="end" textLength="19.6" lengthAdjust="spacingAndGlyphs">A10</text>
<polygon points="1867.29,1548.82 1860.04,1541.57 1832.74,1541.57 1832.74,1556.07 1860.04,1556.07" fill="none" stroke="#840000" stroke-width="1.5"/>
<text x="1856.54" y="1553.86" fill="#840000" stroke="#840000" font-size="12" text-anchor="end" textLength="18.8" lengthAdjust="spacingAndGlyphs">A11</text>
<polygon points="1867.29,1594 1860.04,1586.75 1810.94,1586.75 1810.94,1601.25 1860.04,1601.25" fill="none" stroke="#840000" stroke-width="1.5"/>
<text x="1856.54" y="1599.04" fill="#840000" stroke="#840000" font-size="12" text-anchor="end" textLength="40.6" lengthAdjust="spacingAndGlyphs">Z22_OE</text>
<line x1="1815.94" y1="1588.59" x2="1856.54" y2="1588.59" stroke="#840000" stroke-width="1.2"/>
<polygon points="2017.88,1383.18 2025.13,1375.93 2045.73,1375.93 2052.98,1383.18 2045.73,1390.43 2025.13,1390.43" fill="none" stroke="#840000" stroke-width="1.5"/>
<text x="2028.63" y="1388.22" fill="#840000" stroke="#840000" font-size="12" text-anchor="start" textLength="13.6" lengthAdjust="spacingAndGlyphs">D0</text>
<polygon points="2017.88,1398.24 2025.13,1390.99 2044.93,1390.99 2052.18,1398.24 2044.93,1405.49 2025.13,1405.49" fill="none" stroke="#840000" stroke-width="1.5"/>
<text x="2028.63" y="1403.28" fill="#840000" stroke="#840000" font-size="12" text-anchor="start" textLength="12.8" lengthAdjust="spacingAndGlyphs">D1</text>
<polygon points="2017.88,1413.29 2025.13,1406.04 2045.73,1406.04 2052.98,1413.29 2045.73,1420.54 2025.13,1420.54" fill="none" stroke="#840000" stroke-width="1.5"/>
<text x="2028.63" y="1418.33" fill="#840000" stroke="#840000" font-size="12" text-anchor="start" textLength="13.6" lengthAdjust="spacingAndGlyphs">D2</text>
<polygon points="2017.88,1428.35 2025.13,1421.1 2045.73,1421.1 2052.98,1428.35 2045.73,1435.6 2025.13,1435.6" fill="none" stroke="#840000" stroke-width="1.5"/>
<text x="2028.63" y="1433.39" fill="#840000" stroke="#840000" font-size="12" text-anchor="start" textLength="13.6" lengthAdjust="spacingAndGlyphs">D3</text>
<polygon points="2017.88,1443.41 2025.13,1436.16 2045.73,1436.16 2052.98,1443.41 2045.73,1450.66 2025.13,1450.66" fill="none" stroke="#840000" stroke-width="1.5"/>
<text x="2028.63" y="1448.45" fill="#840000" stroke="#840000" font-size="12" text-anchor="start" textLength="13.6" lengthAdjust="spacingAndGlyphs">D4</text>
<polygon points="2017.88,1458.47 2025.13,1451.22 2045.73,1451.22 2052.98,1458.47 2045.73,1465.72 2025.13,1465.72" fill="none" stroke="#840000" stroke-width="1.5"/>
<text x="2028.63" y="1463.51" fill="#840000" stroke="#840000" font-size="12" text-anchor="start" textLength="13.6" lengthAdjust="spacingAndGlyphs">D5</text>
<polygon points="2017.88,1473.53 2025.13,1466.28 2045.73,1466.28 2052.98,1473.53 2045.73,1480.78 2025.13,1480.78" fill="none" stroke="#840000" stroke-width="1.5"/>
<text x="2028.63" y="1478.57" fill="#840000" stroke="#840000" font-size="12" text-anchor="start" textLength="13.6" lengthAdjust="spacingAndGlyphs">D6</text>
<polygon points="2017.88,1488.59 2025.13,1481.34 2045.73,1481.34 2052.98,1488.59 2045.73,1495.84 2025.13,1495.84" fill="none" stroke="#840000" stroke-width="1.5"/>
<text x="2028.63" y="1493.63" fill="#840000" stroke="#840000" font-size="12" text-anchor="start" textLength="13.6" lengthAdjust="spacingAndGlyphs">D7</text>
<text x="1956.14" y="1343.64" fill="#006464" stroke="#006464" font-size="12" text-anchor="start" textLength="20.4" lengthAdjust="spacingAndGlyphs">Z22</text>
<text x="1956.14" y="1357.35" fill="#006464" stroke="#006464" font-size="12" text-anchor="start" textLength="67.8" lengthAdjust="spacingAndGlyphs">TMS2532-45</text>
<text x="1944.47" y="1480.95" fill="#1a1ab4" stroke="#1a1ab4" font-size="10.5" text-anchor="middle" textLength="23.62" lengthAdjust="spacingAndGlyphs">M91F</text>
<rect x="2251.29" y="1368.12" width="120.47" height="240.94" fill="#FFFFC2" stroke="#840000" stroke-width="2.0"/>
<line x1="2251.29" y1="1383.18" x2="2236.24" y2="1383.18" stroke="#840000" stroke-width="1.5"/>
<text x="2243.76" y="1382.33" fill="#A90000" stroke="#A90000" font-size="11.8" text-anchor="middle" textLength="6.69" lengthAdjust="spacingAndGlyphs">8</text>
<text x="2256.41" y="1388.22" fill="#006464" stroke="#006464" font-size="12" text-anchor="start" textLength="13.6" lengthAdjust="spacingAndGlyphs">A0</text>
<line x1="2251.29" y1="1398.24" x2="2236.24" y2="1398.24" stroke="#840000" stroke-width="1.5"/>
<text x="2243.76" y="1397.39" fill="#A90000" stroke="#A90000" font-size="11.8" text-anchor="middle" textLength="6.69" lengthAdjust="spacingAndGlyphs">7</text>
<text x="2256.41" y="1403.28" fill="#006464" stroke="#006464" font-size="12" text-anchor="start" textLength="12.8" lengthAdjust="spacingAndGlyphs">A1</text>
<line x1="2251.29" y1="1413.29" x2="2236.24" y2="1413.29" stroke="#840000" stroke-width="1.5"/>
<text x="2243.76" y="1412.45" fill="#A90000" stroke="#A90000" font-size="11.8" text-anchor="middle" textLength="6.69" lengthAdjust="spacingAndGlyphs">6</text>
<text x="2256.41" y="1418.33" fill="#006464" stroke="#006464" font-size="12" text-anchor="start" textLength="13.6" lengthAdjust="spacingAndGlyphs">A2</text>
<line x1="2251.29" y1="1428.35" x2="2236.24" y2="1428.35" stroke="#840000" stroke-width="1.5"/>
<text x="2243.76" y="1427.51" fill="#A90000" stroke="#A90000" font-size="11.8" text-anchor="middle" textLength="6.69" lengthAdjust="spacingAndGlyphs">5</text>
<text x="2256.41" y="1433.39" fill="#006464" stroke="#006464" font-size="12" text-anchor="start" textLength="13.6" lengthAdjust="spacingAndGlyphs">A3</text>
<line x1="2251.29" y1="1443.41" x2="2236.24" y2="1443.41" stroke="#840000" stroke-width="1.5"/>
<text x="2243.76" y="1442.57" fill="#A90000" stroke="#A90000" font-size="11.8" text-anchor="middle" textLength="6.69" lengthAdjust="spacingAndGlyphs">4</text>
<text x="2256.41" y="1448.45" fill="#006464" stroke="#006464" font-size="12" text-anchor="start" textLength="13.6" lengthAdjust="spacingAndGlyphs">A4</text>
<line x1="2251.29" y1="1458.47" x2="2236.24" y2="1458.47" stroke="#840000" stroke-width="1.5"/>
<text x="2243.76" y="1457.63" fill="#A90000" stroke="#A90000" font-size="11.8" text-anchor="middle" textLength="6.69" lengthAdjust="spacingAndGlyphs">3</text>
<text x="2256.41" y="1463.51" fill="#006464" stroke="#006464" font-size="12" text-anchor="start" textLength="13.6" lengthAdjust="spacingAndGlyphs">A5</text>
<line x1="2251.29" y1="1473.53" x2="2236.24" y2="1473.53" stroke="#840000" stroke-width="1.5"/>
<text x="2243.76" y="1472.69" fill="#A90000" stroke="#A90000" font-size="11.8" text-anchor="middle" textLength="6.69" lengthAdjust="spacingAndGlyphs">2</text>
<text x="2256.41" y="1478.57" fill="#006464" stroke="#006464" font-size="12" text-anchor="start" textLength="13.6" lengthAdjust="spacingAndGlyphs">A6</text>
<line x1="2251.29" y1="1488.59" x2="2236.24" y2="1488.59" stroke="#840000" stroke-width="1.5"/>
<text x="2243.76" y="1487.74" fill="#A90000" stroke="#A90000" font-size="11.8" text-anchor="middle" textLength="5.9" lengthAdjust="spacingAndGlyphs">1</text>
<text x="2256.41" y="1493.63" fill="#006464" stroke="#006464" font-size="12" text-anchor="start" textLength="13.6" lengthAdjust="spacingAndGlyphs">A7</text>
<line x1="2251.29" y1="1503.65" x2="2236.24" y2="1503.65" stroke="#840000" stroke-width="1.5"/>
<text x="2243.76" y="1502.8" fill="#A90000" stroke="#A90000" font-size="11.8" text-anchor="middle" textLength="13.37" lengthAdjust="spacingAndGlyphs">23</text>
<text x="2256.41" y="1508.69" fill="#006464" stroke="#006464" font-size="12" text-anchor="start" textLength="13.6" lengthAdjust="spacingAndGlyphs">A8</text>
<line x1="2251.29" y1="1518.71" x2="2236.24" y2="1518.71" stroke="#840000" stroke-width="1.5"/>
<text x="2243.76" y="1517.86" fill="#A90000" stroke="#A90000" font-size="11.8" text-anchor="middle" textLength="13.37" lengthAdjust="spacingAndGlyphs">22</text>
<text x="2256.41" y="1523.75" fill="#006464" stroke="#006464" font-size="12" text-anchor="start" textLength="13.6" lengthAdjust="spacingAndGlyphs">A9</text>
<line x1="2251.29" y1="1533.76" x2="2236.24" y2="1533.76" stroke="#840000" stroke-width="1.5"/>
<text x="2243.76" y="1532.92" fill="#A90000" stroke="#A90000" font-size="11.8" text-anchor="middle" textLength="12.59" lengthAdjust="spacingAndGlyphs">19</text>
<text x="2256.41" y="1538.8" fill="#006464" stroke="#006464" font-size="12" text-anchor="start" textLength="19.6" lengthAdjust="spacingAndGlyphs">A10</text>
<line x1="2251.29" y1="1563.88" x2="2236.24" y2="1563.88" stroke="#840000" stroke-width="1.5"/>
<text x="2243.76" y="1563.04" fill="#A90000" stroke="#A90000" font-size="11.8" text-anchor="middle" textLength="12.59" lengthAdjust="spacingAndGlyphs">21</text>
<text x="2256.41" y="1568.92" fill="#006464" stroke="#006464" font-size="12" text-anchor="start" textLength="14.4" lengthAdjust="spacingAndGlyphs">WE</text>
<line x1="2256.41" y1="1558.47" x2="2270.81" y2="1558.47" stroke="#006464" stroke-width="1.2"/>
<line x1="2251.29" y1="1578.94" x2="2236.24" y2="1578.94" stroke="#840000" stroke-width="1.5"/>
<text x="2243.76" y="1578.1" fill="#A90000" stroke="#A90000" font-size="11.8" text-anchor="middle" textLength="12.59" lengthAdjust="spacingAndGlyphs">18</text>
<text x="2256.41" y="1583.98" fill="#006464" stroke="#006464" font-size="12" text-anchor="start" textLength="6.8" lengthAdjust="spacingAndGlyphs">E</text>
<line x1="2256.41" y1="1573.53" x2="2263.21" y2="1573.53" stroke="#006464" stroke-width="1.2"/>
<line x1="2251.29" y1="1594" x2="2236.24" y2="1594" stroke="#840000" stroke-width="1.5"/>
<text x="2243.76" y="1593.16" fill="#A90000" stroke="#A90000" font-size="11.8" text-anchor="middle" textLength="13.37" lengthAdjust="spacingAndGlyphs">20</text>
<text x="2256.41" y="1599.04" fill="#006464" stroke="#006464" font-size="12" text-anchor="start" textLength="13.6" lengthAdjust="spacingAndGlyphs">OE</text>
<line x1="2256.41" y1="1588.59" x2="2270.01" y2="1588.59" stroke="#006464" stroke-width="1.2"/>
<line x1="2371.76" y1="1383.18" x2="2386.82" y2="1383.18" stroke="#840000" stroke-width="1.5"/>
<text x="2379.29" y="1382.33" fill="#A90000" stroke="#A90000" font-size="11.8" text-anchor="middle" textLength="6.69" lengthAdjust="spacingAndGlyphs">9</text>
<text x="2366.64" y="1388.22" fill="#006464" stroke="#006464" font-size="12" text-anchor="end" textLength="20.4" lengthAdjust="spacingAndGlyphs">DQ0</text>
<line x1="2371.76" y1="1398.24" x2="2386.82" y2="1398.24" stroke="#840000" stroke-width="1.5"/>
<text x="2379.29" y="1397.39" fill="#A90000" stroke="#A90000" font-size="11.8" text-anchor="middle" textLength="12.59" lengthAdjust="spacingAndGlyphs">10</text>
<text x="2366.64" y="1403.28" fill="#006464" stroke="#006464" font-size="12" text-anchor="end" textLength="19.6" lengthAdjust="spacingAndGlyphs">DQ1</text>
<line x1="2371.76" y1="1413.29" x2="2386.82" y2="1413.29" stroke="#840000" stroke-width="1.5"/>
<text x="2379.29" y="1412.45" fill="#A90000" stroke="#A90000" font-size="11.8" text-anchor="middle" textLength="11.8" lengthAdjust="spacingAndGlyphs">11</text>
<text x="2366.64" y="1418.33" fill="#006464" stroke="#006464" font-size="12" text-anchor="end" textLength="20.4" lengthAdjust="spacingAndGlyphs">DQ2</text>
<line x1="2371.76" y1="1428.35" x2="2386.82" y2="1428.35" stroke="#840000" stroke-width="1.5"/>
<text x="2379.29" y="1427.51" fill="#A90000" stroke="#A90000" font-size="11.8" text-anchor="middle" textLength="12.59" lengthAdjust="spacingAndGlyphs">13</text>
<text x="2366.64" y="1433.39" fill="#006464" stroke="#006464" font-size="12" text-anchor="end" textLength="20.4" lengthAdjust="spacingAndGlyphs">DQ3</text>
<line x1="2371.76" y1="1443.41" x2="2386.82" y2="1443.41" stroke="#840000" stroke-width="1.5"/>
<text x="2379.29" y="1442.57" fill="#A90000" stroke="#A90000" font-size="11.8" text-anchor="middle" textLength="12.59" lengthAdjust="spacingAndGlyphs">14</text>
<text x="2366.64" y="1448.45" fill="#006464" stroke="#006464" font-size="12" text-anchor="end" textLength="20.4" lengthAdjust="spacingAndGlyphs">DQ4</text>
<line x1="2371.76" y1="1458.47" x2="2386.82" y2="1458.47" stroke="#840000" stroke-width="1.5"/>
<text x="2379.29" y="1457.63" fill="#A90000" stroke="#A90000" font-size="11.8" text-anchor="middle" textLength="12.59" lengthAdjust="spacingAndGlyphs">15</text>
<text x="2366.64" y="1463.51" fill="#006464" stroke="#006464" font-size="12" text-anchor="end" textLength="20.4" lengthAdjust="spacingAndGlyphs">DQ5</text>
<line x1="2371.76" y1="1473.53" x2="2386.82" y2="1473.53" stroke="#840000" stroke-width="1.5"/>
<text x="2379.29" y="1472.69" fill="#A90000" stroke="#A90000" font-size="11.8" text-anchor="middle" textLength="12.59" lengthAdjust="spacingAndGlyphs">16</text>
<text x="2366.64" y="1478.57" fill="#006464" stroke="#006464" font-size="12" text-anchor="end" textLength="20.4" lengthAdjust="spacingAndGlyphs">DQ6</text>
<line x1="2371.76" y1="1488.59" x2="2386.82" y2="1488.59" stroke="#840000" stroke-width="1.5"/>
<text x="2379.29" y="1487.74" fill="#A90000" stroke="#A90000" font-size="11.8" text-anchor="middle" textLength="12.59" lengthAdjust="spacingAndGlyphs">17</text>
<text x="2366.64" y="1493.63" fill="#006464" stroke="#006464" font-size="12" text-anchor="end" textLength="20.4" lengthAdjust="spacingAndGlyphs">DQ7</text>
<line x1="2311.53" y1="1368.12" x2="2311.53" y2="1353.06" stroke="#840000" stroke-width="1.5"/>
<text x="2305.73" y="1365.54" fill="#A90000" stroke="#A90000" font-size="11.8" text-anchor="middle" textLength="13.37" lengthAdjust="spacingAndGlyphs" transform="rotate(-90 2305.73 1360.59)">24</text>
<text x="2311.53" y="1378.28" fill="#006464" stroke="#006464" font-size="12" text-anchor="end" textLength="20.4" lengthAdjust="spacingAndGlyphs" transform="rotate(-90 2311.53 1373.24)">VCC</text>
<line x1="2311.53" y1="1609.06" x2="2311.53" y2="1624.12" stroke="#840000" stroke-width="1.5"/>
<text x="2305.73" y="1621.54" fill="#A90000" stroke="#A90000" font-size="11.8" text-anchor="middle" textLength="12.59" lengthAdjust="spacingAndGlyphs" transform="rotate(-90 2305.73 1616.59)">12</text>
<text x="2311.53" y="1608.98" fill="#006464" stroke="#006464" font-size="12" text-anchor="start" textLength="20.4" lengthAdjust="spacingAndGlyphs" transform="rotate(-90 2311.53 1603.94)">VSS</text>
<path d="M2311.53 1353.06L2311.53 1338M2306.86 1346.51L2311.53 1338L2316.2 1346.51" fill="none" stroke="#840000" stroke-width="1.6"/>
<text x="2311.53" y="1327.98" fill="#006464" stroke="#006464" font-size="12" text-anchor="middle" textLength="20.4" lengthAdjust="spacingAndGlyphs">VCC</text>
<path d="M2311.53 1624.12L2311.53 1631.65M2304 1631.65L2319.06 1631.65L2311.53 1639.18Z" fill="none" stroke="#840000" stroke-width="1.6" stroke-linejoin="miter"/>
<text x="2311.53" y="1659.28" fill="#006464" stroke="#006464" font-size="12" text-anchor="middle" textLength="20.4" lengthAdjust="spacingAndGlyphs">GND</text>
<polygon points="2236.24,1383.18 2228.99,1375.93 2206.89,1375.93 2206.89,1390.43 2228.99,1390.43" fill="none" stroke="#840000" stroke-width="1.5"/>
<text x="2225.49" y="1388.22" fill="#840000" stroke="#840000" font-size="12" text-anchor="end" textLength="13.6" lengthAdjust="spacingAndGlyphs">A0</text>
<polygon points="2236.24,1398.24 2228.99,1390.99 2207.69,1390.99 2207.69,1405.49 2228.99,1405.49" fill="none" stroke="#840000" stroke-width="1.5"/>
<text x="2225.49" y="1403.28" fill="#840000" stroke="#840000" font-size="12" text-anchor="end" textLength="12.8" lengthAdjust="spacingAndGlyphs">A1</text>
<polygon points="2236.24,1413.29 2228.99,1406.04 2206.89,1406.04 2206.89,1420.54 2228.99,1420.54" fill="none" stroke="#840000" stroke-width="1.5"/>
<text x="2225.49" y="1418.33" fill="#840000" stroke="#840000" font-size="12" text-anchor="end" textLength="13.6" lengthAdjust="spacingAndGlyphs">A2</text>
<polygon points="2236.24,1428.35 2228.99,1421.1 2206.89,1421.1 2206.89,1435.6 2228.99,1435.6" fill="none" stroke="#840000" stroke-width="1.5"/>
<text x="2225.49" y="1433.39" fill="#840000" stroke="#840000" font-size="12" text-anchor="end" textLength="13.6" lengthAdjust="spacingAndGlyphs">A3</text>
<polygon points="2236.24,1443.41 2228.99,1436.16 2206.89,1436.16 2206.89,1450.66 2228.99,1450.66" fill="none" stroke="#840000" stroke-width="1.5"/>
<text x="2225.49" y="1448.45" fill="#840000" stroke="#840000" font-size="12" text-anchor="end" textLength="13.6" lengthAdjust="spacingAndGlyphs">A4</text>
<polygon points="2236.24,1458.47 2228.99,1451.22 2206.89,1451.22 2206.89,1465.72 2228.99,1465.72" fill="none" stroke="#840000" stroke-width="1.5"/>
<text x="2225.49" y="1463.51" fill="#840000" stroke="#840000" font-size="12" text-anchor="end" textLength="13.6" lengthAdjust="spacingAndGlyphs">A5</text>
<polygon points="2236.24,1473.53 2228.99,1466.28 2206.89,1466.28 2206.89,1480.78 2228.99,1480.78" fill="none" stroke="#840000" stroke-width="1.5"/>
<text x="2225.49" y="1478.57" fill="#840000" stroke="#840000" font-size="12" text-anchor="end" textLength="13.6" lengthAdjust="spacingAndGlyphs">A6</text>
<polygon points="2236.24,1488.59 2228.99,1481.34 2206.89,1481.34 2206.89,1495.84 2228.99,1495.84" fill="none" stroke="#840000" stroke-width="1.5"/>
<text x="2225.49" y="1493.63" fill="#840000" stroke="#840000" font-size="12" text-anchor="end" textLength="13.6" lengthAdjust="spacingAndGlyphs">A7</text>
<polygon points="2236.24,1503.65 2228.99,1496.4 2206.89,1496.4 2206.89,1510.9 2228.99,1510.9" fill="none" stroke="#840000" stroke-width="1.5"/>
<text x="2225.49" y="1508.69" fill="#840000" stroke="#840000" font-size="12" text-anchor="end" textLength="13.6" lengthAdjust="spacingAndGlyphs">A8</text>
<polygon points="2236.24,1518.71 2228.99,1511.46 2206.89,1511.46 2206.89,1525.96 2228.99,1525.96" fill="none" stroke="#840000" stroke-width="1.5"/>
<text x="2225.49" y="1523.75" fill="#840000" stroke="#840000" font-size="12" text-anchor="end" textLength="13.6" lengthAdjust="spacingAndGlyphs">A9</text>
<polygon points="2236.24,1533.76 2228.99,1526.51 2201.69,1526.51 2201.69,1541.01 2228.99,1541.01" fill="none" stroke="#840000" stroke-width="1.5"/>
<text x="2225.49" y="1538.8" fill="#840000" stroke="#840000" font-size="12" text-anchor="end" textLength="18.8" lengthAdjust="spacingAndGlyphs">A11</text>
<polygon points="2236.24,1563.88 2228.99,1556.63 2178.49,1556.63 2178.49,1571.13 2228.99,1571.13" fill="none" stroke="#840000" stroke-width="1.5"/>
<text x="2225.49" y="1568.92" fill="#840000" stroke="#840000" font-size="12" text-anchor="end" textLength="42" lengthAdjust="spacingAndGlyphs">RAM_WE</text>
<line x1="2183.49" y1="1558.47" x2="2225.49" y2="1558.47" stroke="#840000" stroke-width="1.2"/>
<polygon points="2236.24,1578.94 2228.99,1571.69 2179.29,1571.69 2179.29,1586.19 2228.99,1586.19" fill="none" stroke="#840000" stroke-width="1.5"/>
<text x="2225.49" y="1583.98" fill="#840000" stroke="#840000" font-size="12" text-anchor="end" textLength="41.2" lengthAdjust="spacingAndGlyphs">RAM_CE</text>
<line x1="2184.29" y1="1573.53" x2="2225.49" y2="1573.53" stroke="#840000" stroke-width="1.2"/>
<polygon points="2236.24,1594 2228.99,1586.75 2179.29,1586.75 2179.29,1601.25 2228.99,1601.25" fill="none" stroke="#840000" stroke-width="1.5"/>
<text x="2225.49" y="1599.04" fill="#840000" stroke="#840000" font-size="12" text-anchor="end" textLength="41.2" lengthAdjust="spacingAndGlyphs">RAM_OE</text>
<line x1="2184.29" y1="1588.59" x2="2225.49" y2="1588.59" stroke="#840000" stroke-width="1.2"/>
<polygon points="2386.82,1383.18 2394.07,1375.93 2414.67,1375.93 2421.92,1383.18 2414.67,1390.43 2394.07,1390.43" fill="none" stroke="#840000" stroke-width="1.5"/>
<text x="2397.57" y="1388.22" fill="#840000" stroke="#840000" font-size="12" text-anchor="start" textLength="13.6" lengthAdjust="spacingAndGlyphs">D0</text>
<polygon points="2386.82,1398.24 2394.07,1390.99 2413.87,1390.99 2421.12,1398.24 2413.87,1405.49 2394.07,1405.49" fill="none" stroke="#840000" stroke-width="1.5"/>
<text x="2397.57" y="1403.28" fill="#840000" stroke="#840000" font-size="12" text-anchor="start" textLength="12.8" lengthAdjust="spacingAndGlyphs">D1</text>
<polygon points="2386.82,1413.29 2394.07,1406.04 2414.67,1406.04 2421.92,1413.29 2414.67,1420.54 2394.07,1420.54" fill="none" stroke="#840000" stroke-width="1.5"/>
<text x="2397.57" y="1418.33" fill="#840000" stroke="#840000" font-size="12" text-anchor="start" textLength="13.6" lengthAdjust="spacingAndGlyphs">D2</text>
<polygon points="2386.82,1428.35 2394.07,1421.1 2414.67,1421.1 2421.92,1428.35 2414.67,1435.6 2394.07,1435.6" fill="none" stroke="#840000" stroke-width="1.5"/>
<text x="2397.57" y="1433.39" fill="#840000" stroke="#840000" font-size="12" text-anchor="start" textLength="13.6" lengthAdjust="spacingAndGlyphs">D3</text>
<polygon points="2386.82,1443.41 2394.07,1436.16 2414.67,1436.16 2421.92,1443.41 2414.67,1450.66 2394.07,1450.66" fill="none" stroke="#840000" stroke-width="1.5"/>
<text x="2397.57" y="1448.45" fill="#840000" stroke="#840000" font-size="12" text-anchor="start" textLength="13.6" lengthAdjust="spacingAndGlyphs">D4</text>
<polygon points="2386.82,1458.47 2394.07,1451.22 2414.67,1451.22 2421.92,1458.47 2414.67,1465.72 2394.07,1465.72" fill="none" stroke="#840000" stroke-width="1.5"/>
<text x="2397.57" y="1463.51" fill="#840000" stroke="#840000" font-size="12" text-anchor="start" textLength="13.6" lengthAdjust="spacingAndGlyphs">D5</text>
<polygon points="2386.82,1473.53 2394.07,1466.28 2414.67,1466.28 2421.92,1473.53 2414.67,1480.78 2394.07,1480.78" fill="none" stroke="#840000" stroke-width="1.5"/>
<text x="2397.57" y="1478.57" fill="#840000" stroke="#840000" font-size="12" text-anchor="start" textLength="13.6" lengthAdjust="spacingAndGlyphs">D6</text>
<polygon points="2386.82,1488.59 2394.07,1481.34 2414.67,1481.34 2421.92,1488.59 2414.67,1495.84 2394.07,1495.84" fill="none" stroke="#840000" stroke-width="1.5"/>
<text x="2397.57" y="1493.63" fill="#840000" stroke="#840000" font-size="12" text-anchor="start" textLength="13.6" lengthAdjust="spacingAndGlyphs">D7</text>
<text x="2325.38" y="1343.04" fill="#006464" stroke="#006464" font-size="12" text-anchor="start" textLength="19.6" lengthAdjust="spacingAndGlyphs">U15</text>
<text x="2325.38" y="1358.4" fill="#006464" stroke="#006464" font-size="12" text-anchor="start" textLength="60.2" lengthAdjust="spacingAndGlyphs">AM9128-20</text>
<text x="2310.02" y="1486.22" fill="#1a1ab4" stroke="#1a1ab4" font-size="10.5" text-anchor="middle" textLength="18.38" lengthAdjust="spacingAndGlyphs">RAM</text>
<rect x="850.82" y="1737.06" width="60.24" height="90.35" fill="#FFFFC2" stroke="#840000" stroke-width="2.0"/>
<line x1="880.94" y1="1737.06" x2="880.94" y2="1706.94" stroke="#840000" stroke-width="1.5"/>
<text x="875.14" y="1726.96" fill="#A90000" stroke="#A90000" font-size="11.8" text-anchor="middle" textLength="12.59" lengthAdjust="spacingAndGlyphs" transform="rotate(-90 875.14 1722)">14</text>
<text x="880.94" y="1747.22" fill="#006464" stroke="#006464" font-size="12" text-anchor="end" textLength="20.4" lengthAdjust="spacingAndGlyphs" transform="rotate(-90 880.94 1742.18)">VCC</text>
<line x1="880.94" y1="1827.41" x2="880.94" y2="1857.53" stroke="#840000" stroke-width="1.5"/>
<text x="875.14" y="1847.43" fill="#A90000" stroke="#A90000" font-size="11.8" text-anchor="middle" textLength="6.69" lengthAdjust="spacingAndGlyphs" transform="rotate(-90 875.14 1842.47)">7</text>
<text x="880.94" y="1827.33" fill="#006464" stroke="#006464" font-size="12" text-anchor="start" textLength="20.4" lengthAdjust="spacingAndGlyphs" transform="rotate(-90 880.94 1822.29)">GND</text>
<path d="M880.94 1706.94L880.94 1691.88M876.27 1700.39L880.94 1691.88L885.61 1700.39" fill="none" stroke="#840000" stroke-width="1.6"/>
<text x="880.94" y="1689.39" fill="#006464" stroke="#006464" font-size="12" text-anchor="middle" textLength="20.4" lengthAdjust="spacingAndGlyphs">VCC</text>
<path d="M880.94 1857.53L880.94 1865.06M873.41 1865.06L888.47 1865.06L880.94 1872.59Z" fill="none" stroke="#840000" stroke-width="1.6" stroke-linejoin="miter"/>
<text x="880.94" y="1885.16" fill="#006464" stroke="#006464" font-size="12" text-anchor="middle" textLength="20.4" lengthAdjust="spacingAndGlyphs">GND</text>
<text x="918.96" y="1779.75" fill="#006464" stroke="#006464" font-size="12" text-anchor="start" textLength="19.6" lengthAdjust="spacingAndGlyphs">U1G</text>
<text x="918.96" y="1794.58" fill="#006464" stroke="#006464" font-size="12" text-anchor="start" textLength="39.4" lengthAdjust="spacingAndGlyphs">74LS14</text>
<rect x="978.82" y="1737.06" width="60.24" height="90.35" fill="#FFFFC2" stroke="#840000" stroke-width="2.0"/>
<line x1="1008.94" y1="1737.06" x2="1008.94" y2="1722" stroke="#840000" stroke-width="1.5"/>
<text x="1003.14" y="1734.49" fill="#A90000" stroke="#A90000" font-size="11.8" text-anchor="middle" textLength="12.59" lengthAdjust="spacingAndGlyphs" transform="rotate(-90 1003.14 1729.53)">14</text>
<text x="1008.94" y="1747.22" fill="#006464" stroke="#006464" font-size="12" text-anchor="end" textLength="20.4" lengthAdjust="spacingAndGlyphs" transform="rotate(-90 1008.94 1742.18)">VCC</text>
<line x1="1008.94" y1="1827.41" x2="1008.94" y2="1842.47" stroke="#840000" stroke-width="1.5"/>
<text x="1003.14" y="1839.9" fill="#A90000" stroke="#A90000" font-size="11.8" text-anchor="middle" textLength="6.69" lengthAdjust="spacingAndGlyphs" transform="rotate(-90 1003.14 1834.94)">7</text>
<text x="1008.94" y="1827.33" fill="#006464" stroke="#006464" font-size="12" text-anchor="start" textLength="20.4" lengthAdjust="spacingAndGlyphs" transform="rotate(-90 1008.94 1822.29)">GND</text>
<path d="M1008.94 1722L1008.94 1706.94M1004.27 1715.45L1008.94 1706.94L1013.61 1715.45" fill="none" stroke="#840000" stroke-width="1.6"/>
<text x="1008.94" y="1704.45" fill="#006464" stroke="#006464" font-size="12" text-anchor="middle" textLength="20.4" lengthAdjust="spacingAndGlyphs">VCC</text>
<path d="M1008.94 1842.47L1008.94 1850M1001.41 1850L1016.47 1850L1008.94 1857.53Z" fill="none" stroke="#840000" stroke-width="1.6" stroke-linejoin="miter"/>
<text x="1008.94" y="1870.1" fill="#006464" stroke="#006464" font-size="12" text-anchor="middle" textLength="20.4" lengthAdjust="spacingAndGlyphs">GND</text>
<text x="1046.96" y="1779.75" fill="#006464" stroke="#006464" font-size="12" text-anchor="start" textLength="20.4" lengthAdjust="spacingAndGlyphs">U2C</text>
<text x="1046.96" y="1794.58" fill="#006464" stroke="#006464" font-size="12" text-anchor="start" textLength="40.2" lengthAdjust="spacingAndGlyphs">74LS74</text>
<rect x="1106.82" y="1737.06" width="60.24" height="90.35" fill="#FFFFC2" stroke="#840000" stroke-width="2.0"/>
<line x1="1136.94" y1="1737.06" x2="1136.94" y2="1722" stroke="#840000" stroke-width="1.5"/>
<text x="1131.14" y="1734.49" fill="#A90000" stroke="#A90000" font-size="11.8" text-anchor="middle" textLength="12.59" lengthAdjust="spacingAndGlyphs" transform="rotate(-90 1131.14 1729.53)">14</text>
<text x="1136.94" y="1747.22" fill="#006464" stroke="#006464" font-size="12" text-anchor="end" textLength="20.4" lengthAdjust="spacingAndGlyphs" transform="rotate(-90 1136.94 1742.18)">VCC</text>
<line x1="1136.94" y1="1827.41" x2="1136.94" y2="1842.47" stroke="#840000" stroke-width="1.5"/>
<text x="1131.14" y="1839.9" fill="#A90000" stroke="#A90000" font-size="11.8" text-anchor="middle" textLength="6.69" lengthAdjust="spacingAndGlyphs" transform="rotate(-90 1131.14 1834.94)">7</text>
<text x="1136.94" y="1827.33" fill="#006464" stroke="#006464" font-size="12" text-anchor="start" textLength="20.4" lengthAdjust="spacingAndGlyphs" transform="rotate(-90 1136.94 1822.29)">GND</text>
<path d="M1136.94 1722L1136.94 1706.94M1132.27 1715.45L1136.94 1706.94L1141.61 1715.45" fill="none" stroke="#840000" stroke-width="1.6"/>
<text x="1136.94" y="1704.45" fill="#006464" stroke="#006464" font-size="12" text-anchor="middle" textLength="20.4" lengthAdjust="spacingAndGlyphs">VCC</text>
<path d="M1136.94 1842.47L1136.94 1850M1129.41 1850L1144.47 1850L1136.94 1857.53Z" fill="none" stroke="#840000" stroke-width="1.6" stroke-linejoin="miter"/>
<text x="1136.94" y="1870.1" fill="#006464" stroke="#006464" font-size="12" text-anchor="middle" textLength="20.4" lengthAdjust="spacingAndGlyphs">GND</text>
<text x="1174.96" y="1779.75" fill="#006464" stroke="#006464" font-size="12" text-anchor="start" textLength="20.4" lengthAdjust="spacingAndGlyphs">U3C</text>
<text x="1174.96" y="1794.58" fill="#006464" stroke="#006464" font-size="12" text-anchor="start" textLength="40.2" lengthAdjust="spacingAndGlyphs">74LS74</text>
<rect x="1227.29" y="1737.06" width="60.24" height="90.35" fill="#FFFFC2" stroke="#840000" stroke-width="2.0"/>
<line x1="1257.41" y1="1737.06" x2="1257.41" y2="1706.94" stroke="#840000" stroke-width="1.5"/>
<text x="1251.61" y="1726.96" fill="#A90000" stroke="#A90000" font-size="11.8" text-anchor="middle" textLength="12.59" lengthAdjust="spacingAndGlyphs" transform="rotate(-90 1251.61 1722)">14</text>
<text x="1257.41" y="1747.22" fill="#006464" stroke="#006464" font-size="12" text-anchor="end" textLength="20.4" lengthAdjust="spacingAndGlyphs" transform="rotate(-90 1257.41 1742.18)">VCC</text>
<line x1="1257.41" y1="1827.41" x2="1257.41" y2="1857.53" stroke="#840000" stroke-width="1.5"/>
<text x="1251.61" y="1847.43" fill="#A90000" stroke="#A90000" font-size="11.8" text-anchor="middle" textLength="6.69" lengthAdjust="spacingAndGlyphs" transform="rotate(-90 1251.61 1842.47)">7</text>
<text x="1257.41" y="1827.33" fill="#006464" stroke="#006464" font-size="12" text-anchor="start" textLength="20.4" lengthAdjust="spacingAndGlyphs" transform="rotate(-90 1257.41 1822.29)">GND</text>
<path d="M1257.41 1706.94L1257.41 1691.88M1252.74 1700.39L1257.41 1691.88L1262.08 1700.39" fill="none" stroke="#840000" stroke-width="1.6"/>
<text x="1257.41" y="1689.39" fill="#006464" stroke="#006464" font-size="12" text-anchor="middle" textLength="20.4" lengthAdjust="spacingAndGlyphs">VCC</text>
<path d="M1257.41 1857.53L1257.41 1865.06M1249.88 1865.06L1264.94 1865.06L1257.41 1872.59Z" fill="none" stroke="#840000" stroke-width="1.6" stroke-linejoin="miter"/>
<text x="1257.41" y="1885.16" fill="#006464" stroke="#006464" font-size="12" text-anchor="middle" textLength="20.4" lengthAdjust="spacingAndGlyphs">GND</text>
<text x="1295.44" y="1779.75" fill="#006464" stroke="#006464" font-size="12" text-anchor="start" textLength="20.4" lengthAdjust="spacingAndGlyphs">U4D</text>
<text x="1295.44" y="1794.58" fill="#006464" stroke="#006464" font-size="12" text-anchor="start" textLength="39.4" lengthAdjust="spacingAndGlyphs">74LS10</text>
<line x1="1370.35" y1="1774.71" x2="1370.35" y2="1786.9" stroke="#840000" stroke-width="1.5"/>
<line x1="1370.35" y1="1792.63" x2="1370.35" y2="1804.82" stroke="#840000" stroke-width="1.5"/>
<line x1="1360.19" y1="1786.9" x2="1380.52" y2="1786.9" stroke="#840000" stroke-width="2.8"/>
<line x1="1360.19" y1="1792.63" x2="1380.52" y2="1792.63" stroke="#840000" stroke-width="2.8"/>
<path d="M1370.35 1774.71L1370.35 1759.65M1365.68 1768.16L1370.35 1759.65L1375.02 1768.16" fill="none" stroke="#840000" stroke-width="1.6"/>
<text x="1370.35" y="1757.16" fill="#006464" stroke="#006464" font-size="12" text-anchor="middle" textLength="20.4" lengthAdjust="spacingAndGlyphs">VCC</text>
<path d="M1370.35 1804.82L1370.35 1812.35M1362.82 1812.35L1377.88 1812.35L1370.35 1819.88Z" fill="none" stroke="#840000" stroke-width="1.6" stroke-linejoin="miter"/>
<text x="1370.35" y="1832.45" fill="#006464" stroke="#006464" font-size="12" text-anchor="middle" textLength="20.4" lengthAdjust="spacingAndGlyphs">GND</text>
<text x="1386.92" y="1787.28" fill="#006464" stroke="#006464" font-size="12" text-anchor="start" textLength="13.6" lengthAdjust="spacingAndGlyphs">C2</text>
<text x="1386.92" y="1802.33" fill="#006464" stroke="#006464" font-size="12" text-anchor="start" textLength="29.6" lengthAdjust="spacingAndGlyphs">0.1uF</text>
<line x1="1445.65" y1="1774.71" x2="1445.65" y2="1786.9" stroke="#840000" stroke-width="1.5"/>
<line x1="1445.65" y1="1792.63" x2="1445.65" y2="1804.82" stroke="#840000" stroke-width="1.5"/>
<line x1="1435.48" y1="1786.9" x2="1455.81" y2="1786.9" stroke="#840000" stroke-width="2.8"/>
<line x1="1435.48" y1="1792.63" x2="1455.81" y2="1792.63" stroke="#840000" stroke-width="2.8"/>
<path d="M1445.65 1774.71L1445.65 1759.65M1440.98 1768.16L1445.65 1759.65L1450.32 1768.16" fill="none" stroke="#840000" stroke-width="1.6"/>
<text x="1445.65" y="1757.16" fill="#006464" stroke="#006464" font-size="12" text-anchor="middle" textLength="20.4" lengthAdjust="spacingAndGlyphs">VCC</text>
<path d="M1445.65 1804.82L1445.65 1812.35M1438.12 1812.35L1453.18 1812.35L1445.65 1819.88Z" fill="none" stroke="#840000" stroke-width="1.6" stroke-linejoin="miter"/>
<text x="1445.65" y="1832.45" fill="#006464" stroke="#006464" font-size="12" text-anchor="middle" textLength="20.4" lengthAdjust="spacingAndGlyphs">GND</text>
<text x="1462.21" y="1787.28" fill="#006464" stroke="#006464" font-size="12" text-anchor="start" textLength="13.6" lengthAdjust="spacingAndGlyphs">C3</text>
<text x="1462.21" y="1802.33" fill="#006464" stroke="#006464" font-size="12" text-anchor="start" textLength="29.6" lengthAdjust="spacingAndGlyphs">0.1uF</text>
<line x1="1520.94" y1="1774.71" x2="1520.94" y2="1786.9" stroke="#840000" stroke-width="1.5"/>
<line x1="1520.94" y1="1792.63" x2="1520.94" y2="1804.82" stroke="#840000" stroke-width="1.5"/>
<line x1="1510.78" y1="1786.9" x2="1531.11" y2="1786.9" stroke="#840000" stroke-width="2.8"/>
<line x1="1510.78" y1="1792.63" x2="1531.11" y2="1792.63" stroke="#840000" stroke-width="2.8"/>
<path d="M1520.94 1774.71L1520.94 1759.65M1516.27 1768.16L1520.94 1759.65L1525.61 1768.16" fill="none" stroke="#840000" stroke-width="1.6"/>
<text x="1520.94" y="1757.16" fill="#006464" stroke="#006464" font-size="12" text-anchor="middle" textLength="20.4" lengthAdjust="spacingAndGlyphs">VCC</text>
<path d="M1520.94 1804.82L1520.94 1812.35M1513.41 1812.35L1528.47 1812.35L1520.94 1819.88Z" fill="none" stroke="#840000" stroke-width="1.6" stroke-linejoin="miter"/>
<text x="1520.94" y="1839.98" fill="#006464" stroke="#006464" font-size="12" text-anchor="middle" textLength="20.4" lengthAdjust="spacingAndGlyphs">GND</text>
<text x="1537.51" y="1787.28" fill="#006464" stroke="#006464" font-size="12" text-anchor="start" textLength="13.6" lengthAdjust="spacingAndGlyphs">C4</text>
<text x="1537.51" y="1802.33" fill="#006464" stroke="#006464" font-size="12" text-anchor="start" textLength="29.6" lengthAdjust="spacingAndGlyphs">0.1uF</text>
<line x1="1588.71" y1="1774.71" x2="1588.71" y2="1786.9" stroke="#840000" stroke-width="1.5"/>
<line x1="1588.71" y1="1792.63" x2="1588.71" y2="1804.82" stroke="#840000" stroke-width="1.5"/>
<line x1="1578.54" y1="1786.9" x2="1598.87" y2="1786.9" stroke="#840000" stroke-width="2.8"/>
<line x1="1578.54" y1="1792.63" x2="1598.87" y2="1792.63" stroke="#840000" stroke-width="2.8"/>
<path d="M1588.71 1774.71L1588.71 1759.65M1584.04 1768.16L1588.71 1759.65L1593.37 1768.16" fill="none" stroke="#840000" stroke-width="1.6"/>
<text x="1588.71" y="1749.63" fill="#006464" stroke="#006464" font-size="12" text-anchor="middle" textLength="20.4" lengthAdjust="spacingAndGlyphs">VCC</text>
<path d="M1588.71 1804.82L1588.71 1812.35M1581.18 1812.35L1596.24 1812.35L1588.71 1819.88Z" fill="none" stroke="#840000" stroke-width="1.6" stroke-linejoin="miter"/>
<text x="1588.71" y="1839.98" fill="#006464" stroke="#006464" font-size="12" text-anchor="middle" textLength="20.4" lengthAdjust="spacingAndGlyphs">GND</text>
<text x="1605.27" y="1787.28" fill="#006464" stroke="#006464" font-size="12" text-anchor="start" textLength="13.6" lengthAdjust="spacingAndGlyphs">C5</text>
<text x="1605.27" y="1802.33" fill="#006464" stroke="#006464" font-size="12" text-anchor="start" textLength="29.6" lengthAdjust="spacingAndGlyphs">0.1uF</text>
<line x1="1664" y1="1774.71" x2="1664" y2="1786.9" stroke="#840000" stroke-width="1.5"/>
<line x1="1664" y1="1792.63" x2="1664" y2="1804.82" stroke="#840000" stroke-width="1.5"/>
<line x1="1653.84" y1="1786.9" x2="1674.16" y2="1786.9" stroke="#840000" stroke-width="2.8"/>
<line x1="1653.84" y1="1792.63" x2="1674.16" y2="1792.63" stroke="#840000" stroke-width="2.8"/>
<path d="M1664 1774.71L1664 1759.65M1659.33 1768.16L1664 1759.65L1668.67 1768.16" fill="none" stroke="#840000" stroke-width="1.6"/>
<text x="1664" y="1757.16" fill="#006464" stroke="#006464" font-size="12" text-anchor="middle" textLength="20.4" lengthAdjust="spacingAndGlyphs">VCC</text>
<path d="M1664 1804.82L1664 1812.35M1656.47 1812.35L1671.53 1812.35L1664 1819.88Z" fill="none" stroke="#840000" stroke-width="1.6" stroke-linejoin="miter"/>
<text x="1664" y="1839.98" fill="#006464" stroke="#006464" font-size="12" text-anchor="middle" textLength="20.4" lengthAdjust="spacingAndGlyphs">GND</text>
<text x="1680.56" y="1787.28" fill="#006464" stroke="#006464" font-size="12" text-anchor="start" textLength="13.6" lengthAdjust="spacingAndGlyphs">C6</text>
<text x="1680.56" y="1802.33" fill="#006464" stroke="#006464" font-size="12" text-anchor="start" textLength="29.6" lengthAdjust="spacingAndGlyphs">0.1uF</text>
<line x1="1739.29" y1="1774.71" x2="1739.29" y2="1786.9" stroke="#840000" stroke-width="1.5"/>
<line x1="1739.29" y1="1792.63" x2="1739.29" y2="1804.82" stroke="#840000" stroke-width="1.5"/>
<line x1="1729.13" y1="1786.9" x2="1749.46" y2="1786.9" stroke="#840000" stroke-width="2.8"/>
<line x1="1729.13" y1="1792.63" x2="1749.46" y2="1792.63" stroke="#840000" stroke-width="2.8"/>
<path d="M1739.29 1774.71L1739.29 1759.65M1734.63 1768.16L1739.29 1759.65L1743.96 1768.16" fill="none" stroke="#840000" stroke-width="1.6"/>
<text x="1739.29" y="1749.63" fill="#006464" stroke="#006464" font-size="12" text-anchor="middle" textLength="20.4" lengthAdjust="spacingAndGlyphs">VCC</text>
<path d="M1739.29 1804.82L1739.29 1812.35M1731.76 1812.35L1746.82 1812.35L1739.29 1819.88Z" fill="none" stroke="#840000" stroke-width="1.6" stroke-linejoin="miter"/>
<text x="1739.29" y="1839.98" fill="#006464" stroke="#006464" font-size="12" text-anchor="middle" textLength="20.4" lengthAdjust="spacingAndGlyphs">GND</text>
<text x="1755.86" y="1787.28" fill="#006464" stroke="#006464" font-size="12" text-anchor="start" textLength="13.6" lengthAdjust="spacingAndGlyphs">C7</text>
<text x="1755.86" y="1802.33" fill="#006464" stroke="#006464" font-size="12" text-anchor="start" textLength="29.6" lengthAdjust="spacingAndGlyphs">0.1uF</text></svg></body></html>
